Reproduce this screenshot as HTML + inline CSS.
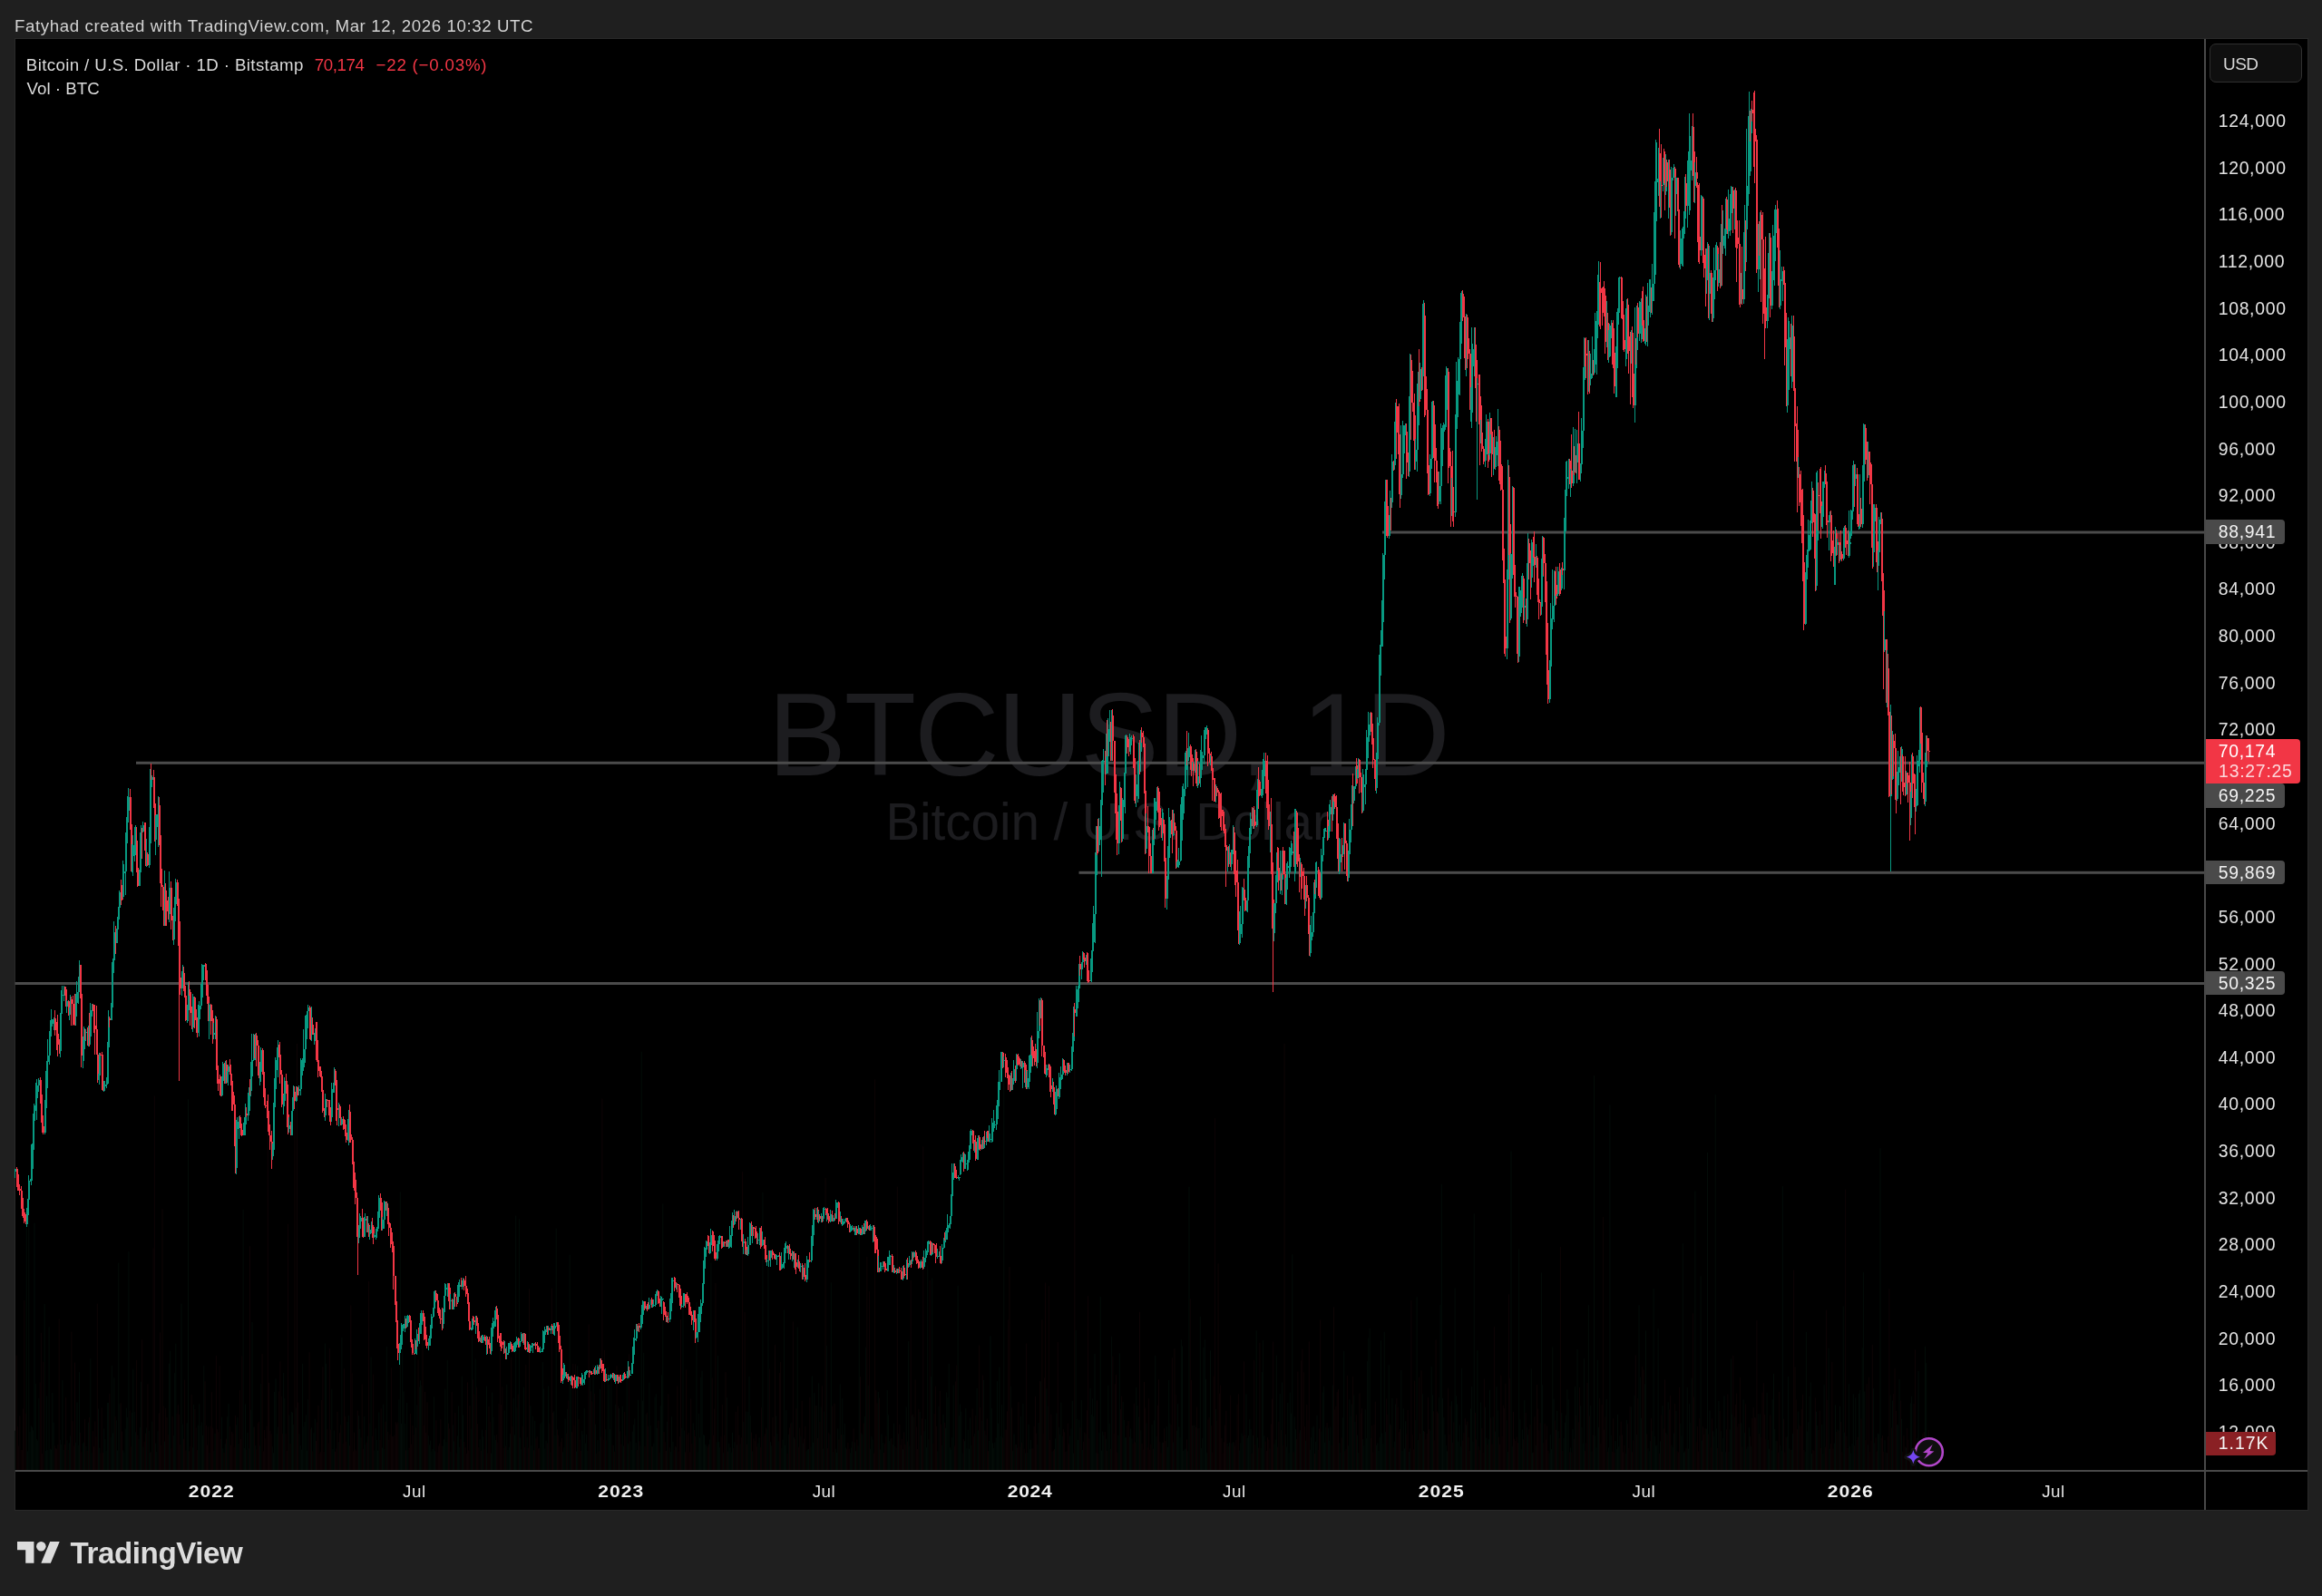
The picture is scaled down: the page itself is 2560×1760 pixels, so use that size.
<!DOCTYPE html>
<html><head><meta charset="utf-8"><title>BTCUSD</title>
<style>
*{box-sizing:border-box;margin:0;padding:0}
html,body{width:2560px;height:1760px;background:#1f1f1f;overflow:hidden}
body{position:relative;font-family:"Liberation Sans",sans-serif;color:#dbdbdb}
.abs{position:absolute}
#chart{left:15.5px;top:42px;width:2529px;height:1623.5px;background:#000;border:1px solid #292929}
.cv{position:absolute;left:0;top:0}
.tg{filter:url(#nf)}
svg text{font-family:"Liberation Sans",sans-serif;white-space:pre}
.hl{position:absolute;height:2.6px;background:#4c4c4c}
#vax{left:2430px;top:43px;width:2px;height:1621.5px;background:#484848}
#hax{left:16.5px;top:1621px;width:2527.5px;height:2px;background:#484848}
.lb{position:absolute;left:2432px;width:87px;height:26.5px;background:#4a4a4a;border-radius:0 4px 4px 0}
#last{left:2432px;top:815.4px;width:104.4px;height:48.8px;background:#f23645;border-radius:0 4px 4px 0}
#vol{left:2432px;top:1578.5px;width:77.4px;height:26.4px;background:#8a2024;border-radius:0 0 4px 0}
#usd{left:2436px;top:47.8px;width:102.2px;height:43.1px;background:#0f0f0f;border:1.2px solid #2f2f2f;border-radius:7px}
</style></head><body>
<div id="chart" class="abs"></div>
<svg width="0" height="0" style="position:absolute"><defs><filter id="nf" x="0" y="0" width="2560" height="1760" filterUnits="userSpaceOnUse" color-interpolation-filters="sRGB"><feOffset dx="0" dy="0"/></filter></defs></svg>
<svg class="cv" width="2560" height="1760" viewBox="0 0 2560 1760">
<text x="846.40" y="855.10" font-size="129.86" letter-spacing="-2.188" fill="#1c1c1f">BTCUSD, 1D</text>
<text x="976.40" y="926.00" font-size="56.67" letter-spacing="-0.086" fill="#1c1c1f">Bitcoin / U.S. Dollar</text>
</svg>
<svg class="cv" width="2560" height="1760" viewBox="0 0 2560 1760" fill="none">
<rect x="1524" y="585.5" width="906.5" height="3" fill="#4b4b4b"/>
<rect x="150" y="839.8" width="2280.5" height="3" fill="#4b4b4b"/>
<rect x="1189.5" y="960.8" width="1241.0" height="3" fill="#4b4b4b"/>
<rect x="16.5" y="1083.0" width="2414.0" height="3" fill="#4b4b4b"/>
<path stroke="#030c08" stroke-width="1" d="M16.9 1577.7V1621M29.3 1317.3V1621M30.6 1600.4V1621M31.8 1332.2V1621M33 1578.6V1621M34.3 1572.2V1621M35.5 1573.9V1621M36.7 1577.3V1621M38 1348.6V1621M39.2 1526V1621M40.4 1587.1V1621M41.7 1588.7V1621M42.9 1541.9V1621M49.1 1437.9V1621M50.3 1599.8V1621M51.6 1539.7V1621M52.8 1599.2V1621M54.1 1463.3V1621M55.3 1597.7V1621M56.5 1598.5V1621M57.8 1536V1621M59 1568.6V1621M66.4 1587.8V1621M67.7 1593.1V1621M68.9 1522.1V1621M70.1 1598.6V1621M73.9 1588.2V1621M76.3 1591.3V1621M77.6 1583.5V1621M83.7 1590.9V1621M85 1546.5V1621M86.2 1593.8V1621M87.5 1513.2V1621M91.2 1591.6V1621M92.4 1590.5V1621M94.9 1594.9V1621M97.4 1568.6V1621M99.8 1498.3V1621M101.1 1602.3V1621M108.5 1553.6V1621M109.7 1596.6V1621M114.7 1575.4V1621M115.9 1586.9V1621M117.1 1599.7V1621M118.4 1546.9V1621M119.6 1546.9V1621M122.1 1584.8V1621M123.3 1505.9V1621M124.6 1580.3V1621M125.8 1519.4V1621M128.3 1566.3V1621M129.5 1599.5V1621M130.8 1392.6V1621M132 1548.3V1621M135.7 1599.3V1621M136.9 1601.7V1621M138.2 1575.5V1621M139.4 1552.7V1621M140.7 1563V1621M141.9 1380.3V1621M145.6 1557.7V1621M146.8 1509.6V1621M148.1 1557V1621M149.3 1579.3V1621M153 1587V1621M154.3 1574.2V1621M155.5 1523.7V1621M158 1595.2V1621M161.7 1574.4V1621M164.2 1577.7V1621M165.4 1601.7V1621M167.9 1567.5V1621M171.6 1591.6V1621M172.8 1601V1621M174.1 1578.2V1621M181.5 1589.6V1621M186.4 1503.6V1621M187.7 1489.7V1621M191.4 1583.1V1621M192.6 1514.2V1621M193.8 1481.7V1621M200 1437.6V1621M201.3 1570.7V1621M206.2 1569.4V1621M207.5 1212.2V1621M212.4 1596.2V1621M213.6 1549V1621M218.6 1571.6V1621M219.8 1548.2V1621M221.1 1571.9V1621M222.3 1568.5V1621M223.5 1582.8V1621M224.8 1506.1V1621M231 1601.8V1621M235.9 1600.1V1621M237.1 1580.6V1621M244.6 1562.6V1621M245.8 1597.2V1621M248.3 1592.2V1621M250.8 1562.4V1621M252 1547.9V1621M260.7 1571.3V1621M261.9 1563.3V1621M263.1 1591.9V1621M268.1 1333.8V1621M269.3 1597V1621M270.5 1548.5V1621M273 1580V1621M274.3 1597.3V1621M276.7 1554.8V1621M278 1457.9V1621M279.2 1573.4V1621M281.7 1594.2V1621M286.6 1594.4V1621M287.9 1526V1621M300.2 1595.4V1621M301.5 1602.3V1621M302.7 1535V1621M304 1520.2V1621M305.2 1581.2V1621M306.4 1573.5V1621M312.6 1514V1621M313.8 1541.8V1621M318.8 1560.2V1621M321.3 1556.9V1621M322.5 1557.7V1621M323.7 1571V1621M326.2 1552.3V1621M329.9 1581.4V1621M331.2 1593.9V1621M332.4 1598.6V1621M333.6 1503.9V1621M334.9 1573.2V1621M336.1 1567.8V1621M337.4 1560.3V1621M338.6 1599.7V1621M339.8 1543.2V1621M343.5 1574.3V1621M346 1580.1V1621M347.3 1564.7V1621M358.4 1481.6V1621M359.6 1503.9V1621M365.8 1531.7V1621M367 1597.9V1621M368.3 1577.5V1621M373.2 1590.2V1621M376.9 1474.9V1621M383.1 1568V1621M384.4 1560.9V1621M395.5 1561.1V1621M396.7 1575.7V1621M398 1585.3V1621M401.7 1561.9V1621M402.9 1592.9V1621M405.4 1583.7V1621M407.9 1569.6V1621M409.1 1496.5V1621M412.8 1599.4V1621M414.1 1575.1V1621M415.3 1588.1V1621M416.5 1599.7V1621M417.8 1557.4V1621M421.5 1596.5V1621M422.7 1548.6V1621M424 1597.8V1621M426.4 1484.9V1621M440 1543.2V1621M441.3 1314.4V1621M442.5 1570V1621M443.7 1460.5V1621M445 1534.5V1621M446.2 1569.8V1621M448.7 1546.9V1621M449.9 1599.3V1621M457.4 1458.1V1621M459.8 1549.4V1621M462.3 1529.5V1621M463.5 1522.3V1621M464.8 1527.6V1621M472.2 1583.2V1621M473.4 1593.4V1621M474.7 1588.5V1621M475.9 1600.4V1621M477.1 1597.9V1621M478.4 1540.2V1621M479.6 1600.3V1621M488.3 1595V1621M489.5 1587.3V1621M490.8 1531.6V1621M492 1590.3V1621M493.2 1499.8V1621M496.9 1600.9V1621M499.4 1571.5V1621M500.7 1589.5V1621M504.4 1583.5V1621M505.6 1550.5V1621M506.8 1595.8V1621M509.3 1517.6V1621M510.5 1560.4V1621M519.2 1575.5V1621M520.4 1472.3V1621M524.2 1498.6V1621M529.1 1587.3V1621M531.6 1576.6V1621M532.8 1584.3V1621M536.5 1528.6V1621M541.5 1602.6V1621M542.7 1535.5V1621M543.9 1562.8V1621M545.2 1583.2V1621M546.4 1588.1V1621M556.3 1555.4V1621M558.8 1526.8V1621M560 1599V1621M561.3 1595.8V1621M562.5 1581.1V1621M566.2 1541.8V1621M567.5 1582.5V1621M568.7 1340.5V1621M569.9 1552.4V1621M572.4 1344.3V1621M573.6 1585.4V1621M574.9 1598.3V1621M577.4 1529.7V1621M581.1 1584.7V1621M584.8 1550.2V1621M586 1593.8V1621M587.2 1561.6V1621M589.7 1566.9V1621M595.9 1570.1V1621M597.1 1568.5V1621M598.4 1502.2V1621M599.6 1531.6V1621M600.9 1597.5V1621M602.1 1588.7V1621M604.6 1528.4V1621M607 1601.6V1621M610.8 1556.3V1621M612 1582.8V1621M613.2 1354.7V1621M620.6 1601.4V1621M621.9 1596.4V1621M623.1 1564.5V1621M625.6 1553.9V1621M628.1 1383.6V1621M629.3 1521.9V1621M635.5 1600.6V1621M636.7 1506.2V1621M641.7 1578.1V1621M642.9 1581.8V1621M644.2 1553.1V1621M645.4 1591.5V1621M646.6 1581.9V1621M647.9 1600V1621M650.3 1518.4V1621M654.1 1504.8V1621M656.5 1570.6V1621M659 1588.1V1621M661.5 1532V1621M667.7 1576.1V1621M670.1 1507.6V1621M671.4 1526.6V1621M672.6 1576.1V1621M673.8 1514V1621M676.3 1594.1V1621M678.8 1548.7V1621M682.5 1553V1621M686.2 1550.9V1621M687.5 1594.6V1621M691.2 1512.4V1621M692.4 1592.1V1621M694.9 1589.4V1621M696.1 1599V1621M697.3 1578.6V1621M698.6 1571.2V1621M699.8 1564.5V1621M701.1 1590.9V1621M703.5 1543.8V1621M706 1594.3V1621M707.2 1159.7V1621M708.5 1544.7V1621M709.7 1491.8V1621M712.2 1559.5V1621M715.9 1524.6V1621M717.1 1572.1V1621M719.6 1595.4V1621M720.9 1591.7V1621M722.1 1540.7V1621M723.3 1537.2V1621M724.6 1574.8V1621M728.3 1550.3V1621M729.5 1516.4V1621M730.8 1327.3V1621M735.7 1567.7V1621M738.2 1596.4V1621M739.4 1601.2V1621M740.6 1562.2V1621M741.9 1590.1V1621M745.6 1595.7V1621M751.8 1574.8V1621M753 1423.2V1621M754.3 1577.5V1621M764.2 1569.3V1621M767.9 1436V1621M769.1 1601.3V1621M770.3 1558.9V1621M771.6 1585.3V1621M772.8 1519.1V1621M774 1511.7V1621M775.3 1582V1621M776.5 1582.8V1621M777.8 1592.8V1621M779 1594.5V1621M782.7 1587.5V1621M783.9 1392.7V1621M790.1 1590.2V1621M791.4 1495V1621M792.6 1589.9V1621M793.8 1596V1621M797.6 1602.1V1621M801.3 1541.1V1621M803.7 1591.6V1621M805 1596.1V1621M806.2 1601.6V1621M807.5 1579.8V1621M809.9 1590.3V1621M812.4 1593.4V1621M816.1 1592.2V1621M819.8 1567.9V1621M822.3 1556.4V1621M824.8 1556.9V1621M826 1517.8V1621M827.2 1561V1621M829.7 1600.4V1621M835.9 1591.5V1621M837.1 1585.4V1621M840.9 1315V1621M845.8 1576.4V1621M847 1366.6V1621M849.5 1590.2V1621M850.7 1594.4V1621M855.7 1561.5V1621M856.9 1580.8V1621M858.2 1589.4V1621M861.9 1596.9V1621M863.1 1587.5V1621M864.4 1444.6V1621M865.6 1594V1621M866.8 1555.1V1621M869.3 1582V1621M873 1568.4V1621M875.5 1585.1V1621M879.2 1463.5V1621M882.9 1583.6V1621M885.4 1591.6V1621M889.1 1600.3V1621M890.3 1598.5V1621M891.6 1598V1621M894 1595.5V1621M895.3 1517.4V1621M896.5 1590.7V1621M897.8 1536.1V1621M900.2 1550.2V1621M902.7 1525.3V1621M905.2 1551.5V1621M907.7 1597.4V1621M908.9 1556.5V1621M911.4 1484.1V1621M915.1 1581.8V1621M916.3 1414.3V1621M918.8 1601.2V1621M921.3 1597.6V1621M922.5 1601.9V1621M923.7 1575.3V1621M926.2 1526.4V1621M928.7 1542.1V1621M929.9 1582.3V1621M931.2 1569.8V1621M932.4 1596.3V1621M937.3 1602.2V1621M938.6 1596.5V1621M939.8 1589.6V1621M942.3 1590.4V1621M943.5 1600.2V1621M946 1594.5V1621M947.2 1356.7V1621M949.7 1580.5V1621M951 1581.8V1621M953.4 1562V1621M954.7 1485.6V1621M957.1 1527.6V1621M959.6 1597.7V1621M960.9 1584.3V1621M962.1 1587.4V1621M968.3 1534.8V1621M970.7 1598.5V1621M972 1581.4V1621M973.2 1590.9V1621M978.2 1533.1V1621M979.4 1560.3V1621M980.6 1589.2V1621M981.9 1586.7V1621M984.4 1593V1621M985.6 1569.8V1621M988.1 1596.5V1621M990.5 1581.3V1621M995.5 1598.2V1621M999.2 1551.6V1621M1001.7 1479.1V1621M1002.9 1594.5V1621M1005.4 1560.7V1621M1007.9 1562.8V1621M1014 1557V1621M1015.3 1582.6V1621M1019 1578.1V1621M1020.2 1565.1V1621M1021.5 1596.1V1621M1022.7 1395.4V1621M1023.9 1587.2V1621M1026.4 1518.1V1621M1027.7 1409.3V1621M1033.8 1600.2V1621M1035.1 1550.8V1621M1038.8 1593.8V1621M1040 1559.7V1621M1042.5 1574.7V1621M1043.7 1535.4V1621M1045 1541.1V1621M1046.2 1503.8V1621M1047.4 1596.1V1621M1048.7 1598.6V1621M1049.9 1585.2V1621M1051.2 1527.6V1621M1056.1 1417.7V1621M1057.3 1561.3V1621M1058.6 1548.4V1621M1059.8 1556.6V1621M1061.1 1602.3V1621M1063.5 1589.3V1621M1064.8 1553.1V1621M1066 1597.2V1621M1067.2 1576.6V1621M1068.5 1597.8V1621M1069.7 1563.4V1621M1071 1593.8V1621M1074.7 1581V1621M1077.1 1530.9V1621M1078.4 1577.4V1621M1082.1 1566.6V1621M1084.6 1522V1621M1087 1582.4V1621M1090.7 1589.1V1621M1092 1473.2V1621M1093.2 1553.1V1621M1094.5 1591.2V1621M1095.7 1597V1621M1096.9 1590.8V1621M1098.2 1585.4V1621M1099.4 1523.2V1621M1100.6 1569.8V1621M1101.9 1507.7V1621M1103.1 1584V1621M1104.4 1549.1V1621M1106.8 1167.6V1621M1114.3 1528.9V1621M1116.7 1600.1V1621M1118 1581.5V1621M1120.4 1593.1V1621M1125.4 1562V1621M1127.9 1547.9V1621M1130.3 1602.3V1621M1132.8 1602V1621M1134 1570.8V1621M1135.3 1598V1621M1136.5 1587.9V1621M1143.9 1592.7V1621M1145.2 1568.7V1621M1147.7 1523.3V1621M1153.8 1531.3V1621M1155.1 1550.6V1621M1160 1601V1621M1163.7 1586.3V1621M1165 1558.4V1621M1167.4 1573.8V1621M1168.7 1581.9V1621M1169.9 1546.5V1621M1171.2 1583.7V1621M1176.1 1600.3V1621M1179.8 1583.5V1621M1181.1 1575.2V1621M1182.3 1544.9V1621M1183.5 1602.6V1621M1186 1467V1621M1187.2 1564.7V1621M1188.5 1587.9V1621M1189.7 1565.6V1621M1192.2 1544.1V1621M1193.4 1598.9V1621M1197.1 1581.4V1621M1202.1 1531.1V1621M1203.3 1559.8V1621M1204.6 1542.4V1621M1205.8 1561.8V1621M1207 1492.9V1621M1208.3 1602.1V1621M1212 1580.2V1621M1213.2 1430.1V1621M1214.5 1599.7V1621M1215.7 1578.6V1621M1216.9 1583.1V1621M1219.4 1586.8V1621M1221.9 1527.6V1621M1223.1 1569.6V1621M1225.6 1473.8V1621M1233 1583.1V1621M1234.3 1492.4V1621M1238 1546V1621M1239.2 1566V1621M1240.4 1585.1V1621M1241.7 1584.9V1621M1245.4 1584.4V1621M1246.6 1575.5V1621M1247.9 1586.3V1621M1252.8 1529.8V1621M1254 1550.1V1621M1255.3 1562.6V1621M1257.8 1577.4V1621M1263.9 1569.3V1621M1270.1 1570.8V1621M1272.6 1566.3V1621M1273.8 1494.8V1621M1275.1 1584V1621M1281.3 1590.7V1621M1286.2 1573.1V1621M1287.4 1595.7V1621M1288.7 1522V1621M1289.9 1570V1621M1293.6 1590.4V1621M1297.3 1577.7V1621M1298.6 1548.1V1621M1299.8 1573.4V1621M1301.1 1585V1621M1302.3 1477.3V1621M1303.5 1484.5V1621M1304.8 1599.9V1621M1306 1598.5V1621M1307.2 1597.6V1621M1309.7 1600.3V1621M1311 1308.8V1621M1314.7 1572.1V1621M1317.1 1571.6V1621M1320.8 1575.1V1621M1323.3 1452V1621M1324.6 1596.9V1621M1325.8 1585.8V1621M1327 1485.6V1621M1328.3 1477.2V1621M1329.5 1520.8V1621M1330.7 1602.1V1621M1334.5 1489.3V1621M1340.6 1554V1621M1353 1591.8V1621M1355.5 1590.7V1621M1358 1591.6V1621M1359.2 1590.3V1621M1366.6 1599.6V1621M1367.9 1591.2V1621M1369.1 1580.5V1621M1370.3 1583.5V1621M1374 1537.5V1621M1375.3 1585.7V1621M1376.5 1583V1621M1377.8 1565.2V1621M1379 1575.9V1621M1381.5 1582.9V1621M1385.2 1467.3V1621M1386.4 1585.4V1621M1390.1 1596.9V1621M1391.4 1513.1V1621M1392.6 1477.8V1621M1393.8 1583.4V1621M1400 1597.5V1621M1405 1592.4V1621M1406.2 1587.5V1621M1407.4 1494.7V1621M1411.2 1536.9V1621M1413.6 1524.4V1621M1417.3 1581.5V1621M1418.6 1595.5V1621M1419.8 1547V1621M1421.1 1602.2V1621M1422.3 1535.6V1621M1423.5 1558.6V1621M1424.8 1383.2V1621M1427.2 1562.5V1621M1428.5 1576.1V1621M1433.4 1577.1V1621M1439.6 1588.7V1621M1444.6 1598.7V1621M1445.8 1585.1V1621M1447 1574.1V1621M1448.3 1572.7V1621M1450.7 1589.8V1621M1452 1561V1621M1456.9 1578.4V1621M1458.2 1535.4V1621M1459.4 1528.8V1621M1460.6 1590.7V1621M1461.9 1573.6V1621M1464.4 1574.7V1621M1465.6 1588.6V1621M1466.8 1573.6V1621M1469.3 1527.5V1621M1476.7 1591.2V1621M1478 1602V1621M1480.4 1563.4V1621M1481.7 1489.8V1621M1486.6 1594.4V1621M1487.9 1543.4V1621M1489.1 1562V1621M1490.3 1548.5V1621M1492.8 1538.4V1621M1494 1567.6V1621M1496.5 1582.6V1621M1497.8 1602V1621M1502.7 1587.1V1621M1503.9 1594.3V1621M1505.2 1554.3V1621M1506.4 1586.1V1621M1507.6 1501.2V1621M1508.9 1475.4V1621M1510.1 1465V1621M1517.5 1593.7V1621M1518.8 1591.4V1621M1520 1600V1621M1521.3 1584.6V1621M1522.5 1478.1V1621M1523.7 1580.5V1621M1525 1591.7V1621M1526.2 1468.8V1621M1527.4 1579.2V1621M1531.2 1505.2V1621M1532.4 1570.3V1621M1534.9 1542V1621M1537.3 1589.6V1621M1538.6 1548.5V1621M1544.8 1510.9V1621M1546 1599.9V1621M1547.2 1553.2V1621M1548.5 1597.3V1621M1549.7 1567.2V1621M1553.4 1601V1621M1554.7 1597.2V1621M1560.8 1565.8V1621M1562.1 1430.2V1621M1563.3 1587.8V1621M1565.8 1580.8V1621M1568.3 1537.2V1621M1569.5 1578V1621M1576.9 1577.5V1621M1578.2 1507.1V1621M1579.4 1538.3V1621M1586.8 1541.2V1621M1588.1 1438.8V1621M1589.3 1305.9V1621M1590.5 1541.9V1621M1591.8 1563.1V1621M1593 1581.7V1621M1594.2 1593.8V1621M1595.5 1600.4V1621M1600.4 1545.3V1621M1604.1 1420.4V1621M1605.4 1539.3V1621M1606.6 1548.5V1621M1607.9 1589.5V1621M1609.1 1571.4V1621M1610.3 1595.3V1621M1611.6 1508.9V1621M1616.5 1571.3V1621M1621.5 1553.5V1621M1622.7 1529V1621M1623.9 1589.6V1621M1625.2 1338.3V1621M1628.9 1489.1V1621M1632.6 1546.6V1621M1637.5 1551.9V1621M1638.8 1585.7V1621M1641.3 1587.2V1621M1642.5 1532.7V1621M1646.2 1562.4V1621M1648.7 1578.6V1621M1649.9 1529.2V1621M1651.2 1555.5V1621M1661.1 1566.2V1621M1662.3 1601.1V1621M1666 1269.4V1621M1667.2 1594.8V1621M1674.7 1377.2V1621M1675.9 1565.3V1621M1677.1 1598V1621M1678.4 1576.4V1621M1680.8 1544.1V1621M1683.3 1573.8V1621M1684.6 1582.2V1621M1688.3 1509.3V1621M1689.5 1602.1V1621M1693.2 1594.1V1621M1699.4 1403.4V1621M1700.6 1527.2V1621M1708.1 1602.4V1621M1709.3 1582.3V1621M1710.5 1598.1V1621M1711.8 1485.3V1621M1713 1542.6V1621M1716.7 1555.9V1621M1718 1578.1V1621M1721.7 1558.1V1621M1724.1 1585.9V1621M1725.4 1568.6V1621M1726.6 1560.5V1621M1727.9 1532.3V1621M1729.1 1543.3V1621M1731.6 1596.6V1621M1734 1576V1621M1736.5 1529.1V1621M1739 1488V1621M1742.7 1550.3V1621M1743.9 1574.3V1621M1745.2 1591.5V1621M1746.4 1498.2V1621M1751.4 1439.2V1621M1753.8 1549.9V1621M1755.1 1600.5V1621M1757.5 1186V1621M1758.8 1583.5V1621M1760 1596.3V1621M1761.3 1499.6V1621M1762.5 1573.9V1621M1771.2 1542.9V1621M1773.6 1596.3V1621M1774.9 1218.3V1621M1776.1 1582.9V1621M1781 1588.8V1621M1782.3 1598V1621M1783.5 1560V1621M1784.8 1595.2V1621M1786 1583.2V1621M1792.2 1602.6V1621M1793.4 1565.8V1621M1798.4 1551.5V1621M1802.1 1538.6V1621M1804.6 1582V1621M1807 1439.2V1621M1808.3 1518.6V1621M1809.5 1563.9V1621M1813.2 1526.2V1621M1814.5 1467.4V1621M1816.9 1597.1V1621M1818.2 1600.3V1621M1819.4 1589.2V1621M1821.9 1578.1V1621M1823.1 1421.1V1621M1824.3 1583.9V1621M1825.6 1594.2V1621M1826.8 1593.7V1621M1828.1 1465.3V1621M1830.5 1589.5V1621M1833 1550.1V1621M1836.7 1580.1V1621M1839.2 1546.2V1621M1842.9 1593.5V1621M1844.1 1595.6V1621M1845.4 1580.6V1621M1847.9 1555.9V1621M1852.8 1569.7V1621M1854 1583.5V1621M1855.3 1371.1V1621M1856.5 1601.7V1621M1857.7 1600.2V1621M1860.2 1530V1621M1861.5 1597.6V1621M1862.7 1548.2V1621M1863.9 1569.1V1621M1865.2 1519.5V1621M1868.9 1313.5V1621M1875.1 1407.3V1621M1876.3 1588.6V1621M1881.3 1575.6V1621M1882.5 1270.9V1621M1885 1555.4V1621M1888.7 1578.3V1621M1889.9 1583.7V1621M1891.2 1207.2V1621M1892.4 1575.3V1621M1894.9 1544.9V1621M1897.3 1578.2V1621M1899.8 1585.9V1621M1901 1539.4V1621M1902.3 1601.4V1621M1906 1601.1V1621M1907.2 1576.3V1621M1908.5 1498.5V1621M1909.7 1559.7V1621M1912.2 1562.6V1621M1919.6 1569.3V1621M1922.1 1543.2V1621M1923.3 1580.1V1621M1925.8 1597.7V1621M1927 1595.2V1621M1928.3 1574.2V1621M1930.7 1594.9V1621M1938.2 1559.1V1621M1940.6 1559.2V1621M1948.1 1535.7V1621M1949.3 1587.9V1621M1950.5 1597.8V1621M1953 1599.3V1621M1954.2 1543.2V1621M1955.5 1514.8V1621M1956.7 1576.1V1621M1958 1588.6V1621M1962.9 1594.1V1621M1964.1 1599.6V1621M1965.4 1308.2V1621M1970.3 1584.3V1621M1971.6 1517.9V1621M1972.8 1597.3V1621M1975.3 1598.7V1621M1976.5 1580.8V1621M1982.7 1556.5V1621M1990.1 1601V1621M1991.4 1468.9V1621M1992.6 1578.7V1621M1993.8 1568.1V1621M1995.1 1539.7V1621M1996.3 1524.5V1621M1997.5 1603V1621M2002.5 1556.8V1621M2003.7 1572.1V1621M2008.7 1571V1621M2009.9 1602.9V1621M2011.1 1527.2V1621M2016.1 1486.7V1621M2017.3 1597.6V1621M2022.3 1591.4V1621M2023.5 1549.5V1621M2026 1576.5V1621M2028.5 1550.8V1621M2032.2 1440.5V1621M2033.4 1579.7V1621M2038.4 1526.3V1621M2039.6 1594.9V1621M2040.8 1602.4V1621M2042.1 1592V1621M2043.3 1537.3V1621M2045.8 1541.5V1621M2049.5 1536.7V1621M2050.7 1533.1V1621M2053.2 1486.2V1621M2054.4 1402.9V1621M2055.7 1534.4V1621M2059.4 1593.4V1621M2065.6 1531.1V1621M2066.8 1591.2V1621M2070.5 1580.7V1621M2071.8 1581.6V1621M2073 1266.2V1621M2078 1588.1V1621M2080.4 1602.2V1621M2084.1 1538.4V1621M2086.6 1544.6V1621M2091.6 1571V1621M2092.8 1571.7V1621M2094 1521V1621M2096.5 1564.7V1621M2101.5 1596.5V1621M2106.4 1547.5V1621M2107.6 1539.9V1621M2112.6 1601.6V1621M2113.8 1585.7V1621M2115.1 1512V1621M2116.3 1597.4V1621M2122.5 1484.7V1621M2123.7 1503.1V1621"/>
<path stroke="#0e0405" stroke-width="1" d="M18.2 1494.6V1621M19.4 1573.2V1621M20.7 1594.4V1621M21.9 1561.3V1621M23.1 1598.8V1621M24.4 1599V1621M25.6 1553.3V1621M26.8 1433.8V1621M28.1 1558.4V1621M44.2 1524.3V1621M45.4 1469.8V1621M46.6 1603V1621M47.9 1501.7V1621M60.2 1594.1V1621M61.5 1597.1V1621M62.7 1597.8V1621M64 1592.9V1621M65.2 1454.4V1621M71.4 1592.9V1621M72.6 1540.8V1621M75.1 1599V1621M78.8 1468.7V1621M80 1567.1V1621M81.3 1594.5V1621M82.5 1502.6V1621M88.7 1580V1621M89.9 1601.3V1621M93.6 1564.9V1621M96.1 1600V1621M98.6 1563V1621M102.3 1578.2V1621M103.5 1594.9V1621M104.8 1567.3V1621M106 1584.1V1621M107.3 1437.6V1621M111 1602.2V1621M112.2 1552.3V1621M113.4 1602.1V1621M120.9 1536.8V1621M127 1561.8V1621M133.2 1547.2V1621M134.5 1578.6V1621M143.1 1555.4V1621M144.4 1595.2V1621M150.6 1499.8V1621M151.8 1582.6V1621M156.7 1477.2V1621M159.2 1589.5V1621M160.4 1580.6V1621M162.9 1526.3V1621M166.6 1601.2V1621M169.1 1376.4V1621M170.3 1208.6V1621M175.3 1558.3V1621M176.5 1469.4V1621M177.8 1593.7V1621M179 1333.1V1621M180.2 1550.4V1621M182.7 1552.8V1621M184 1563V1621M185.2 1582V1621M188.9 1597.2V1621M190.1 1561.7V1621M195.1 1558.7V1621M196.3 1549.2V1621M197.6 1559.9V1621M198.8 1592.9V1621M202.5 1586.8V1621M203.7 1521.7V1621M205 1599.4V1621M208.7 1600.2V1621M209.9 1595V1621M211.2 1537.9V1621M214.9 1553.9V1621M216.1 1574.5V1621M217.4 1599.2V1621M226 1523.1V1621M227.3 1571.8V1621M228.5 1593.6V1621M229.7 1573.6V1621M232.2 1572.5V1621M233.4 1535.2V1621M234.7 1574.6V1621M238.4 1495.1V1621M239.6 1576.1V1621M240.9 1579.1V1621M242.1 1506.1V1621M243.3 1587V1621M247 1602V1621M249.5 1586.7V1621M253.2 1573V1621M254.5 1593.7V1621M255.7 1578.9V1621M256.9 1580.6V1621M258.2 1595.7V1621M259.4 1561.1V1621M264.4 1533.1V1621M265.6 1587.1V1621M266.8 1495.4V1621M271.8 1598.7V1621M275.5 1374.2V1621M280.4 1573.7V1621M282.9 1598.3V1621M284.2 1569.3V1621M285.4 1567.7V1621M289.1 1493.1V1621M290.3 1600.3V1621M291.6 1577V1621M292.8 1586.4V1621M294.1 1572.6V1621M295.3 1234.1V1621M296.5 1524.9V1621M297.8 1577.6V1621M299 1581.2V1621M307.7 1534.4V1621M308.9 1501.3V1621M310.1 1539.8V1621M311.4 1581.1V1621M315.1 1581.1V1621M316.3 1599.9V1621M317.6 1349.7V1621M320 1591.9V1621M325 1221.3V1621M327.5 1151V1621M328.7 1546.6V1621M341.1 1491.2V1621M342.3 1576.2V1621M344.8 1600.5V1621M348.5 1588.9V1621M349.7 1568.5V1621M351 1550V1621M352.2 1602.4V1621M353.4 1601.2V1621M354.7 1544V1621M355.9 1507.3V1621M357.1 1600.8V1621M360.9 1575.7V1621M362.1 1591.3V1621M363.3 1486.7V1621M364.6 1576.5V1621M369.5 1600.8V1621M370.8 1597.4V1621M372 1556.7V1621M374.5 1580.2V1621M375.7 1571.2V1621M378.2 1591.6V1621M379.4 1509.3V1621M380.7 1561.8V1621M381.9 1589.7V1621M385.6 1594.2V1621M386.8 1439.3V1621M388.1 1514.4V1621M389.3 1600.4V1621M390.5 1579.7V1621M391.8 1598.5V1621M393 1599.8V1621M394.3 1555.6V1621M399.2 1526.4V1621M400.4 1597.6V1621M404.2 1590.5V1621M406.6 1412.9V1621M410.3 1583.6V1621M411.6 1515.6V1621M419 1587.8V1621M420.2 1553.3V1621M425.2 1567.6V1621M427.7 1578.8V1621M428.9 1587.7V1621M430.1 1581.6V1621M431.4 1508.4V1621M432.6 1584.1V1621M433.8 1584V1621M435.1 1582.4V1621M436.3 1568.2V1621M437.6 1570.3V1621M438.8 1568.3V1621M447.5 1599.3V1621M451.2 1596.5V1621M452.4 1559V1621M453.6 1592.5V1621M454.9 1572V1621M456.1 1581.9V1621M458.6 1574.4V1621M461.1 1499.5V1621M466 1470.1V1621M467.2 1571.8V1621M468.5 1534.9V1621M469.7 1580.1V1621M471 1546.2V1621M480.9 1566.2V1621M482.1 1601.4V1621M483.3 1594.4V1621M484.6 1591.7V1621M485.8 1565.1V1621M487 1594.4V1621M494.5 1569.7V1621M495.7 1575.3V1621M498.2 1535.1V1621M501.9 1558V1621M503.1 1602.5V1621M508.1 1586.7V1621M511.8 1590V1621M513 1596.1V1621M514.3 1602.9V1621M515.5 1524.4V1621M516.7 1599.4V1621M518 1550.1V1621M521.7 1521.2V1621M522.9 1537.6V1621M525.4 1529.5V1621M526.6 1570.1V1621M527.9 1595.8V1621M530.3 1599.7V1621M534.1 1598.3V1621M535.3 1577V1621M537.8 1602.5V1621M539 1551V1621M540.2 1568.1V1621M547.7 1582.1V1621M548.9 1590.6V1621M550.1 1547.8V1621M551.4 1481.2V1621M552.6 1549V1621M553.8 1529.3V1621M555.1 1596.6V1621M557.6 1594.7V1621M563.7 1496.6V1621M565 1572.9V1621M571.2 1537.5V1621M576.1 1573.1V1621M578.6 1595.8V1621M579.8 1505V1621M582.3 1596.6V1621M583.5 1421.3V1621M588.5 1599.3V1621M591 1586.2V1621M592.2 1584.2V1621M593.4 1597.4V1621M594.7 1596.9V1621M603.3 1591.4V1621M605.8 1569.7V1621M608.3 1420.6V1621M609.5 1557.9V1621M614.5 1576.5V1621M615.7 1582.5V1621M616.9 1595V1621M618.2 1590.1V1621M619.4 1586V1621M624.4 1580.7V1621M626.8 1544.5V1621M630.5 1579.1V1621M631.8 1504V1621M633 1571.7V1621M634.3 1504.5V1621M638 1564.8V1621M639.2 1587.7V1621M640.4 1600V1621M649.1 1460.4V1621M651.6 1534.3V1621M652.8 1545.3V1621M655.3 1537V1621M657.8 1603V1621M660.2 1600.3V1621M662.7 1584.5V1621M663.9 1211.5V1621M665.2 1587.5V1621M666.4 1488.9V1621M668.9 1588.3V1621M675.1 1593.5V1621M677.6 1600.8V1621M680 1506.2V1621M681.3 1550.6V1621M683.7 1578.3V1621M685 1592.4V1621M688.7 1557.1V1621M689.9 1583.4V1621M693.6 1493.2V1621M702.3 1599.2V1621M704.8 1589.3V1621M711 1594.7V1621M713.4 1557.9V1621M714.7 1572.5V1621M718.4 1595V1621M725.8 1566.6V1621M727 1601.5V1621M732 1579V1621M733.2 1590.2V1621M734.5 1599.8V1621M736.9 1537.1V1621M743.1 1599.1V1621M744.4 1595.1V1621M746.8 1528.3V1621M748.1 1600.4V1621M749.3 1584V1621M750.5 1455V1621M755.5 1601.3V1621M756.7 1510.3V1621M758 1582V1621M759.2 1579.8V1621M760.4 1601.5V1621M761.7 1542.5V1621M762.9 1592V1621M765.4 1577V1621M766.6 1584V1621M780.2 1595.5V1621M781.5 1592.9V1621M785.2 1519.6V1621M786.4 1582.7V1621M787.7 1553.6V1621M788.9 1414.9V1621M795.1 1584.3V1621M796.3 1549V1621M798.8 1582.6V1621M800 1513.1V1621M802.5 1600.6V1621M808.7 1596.9V1621M811.2 1556.9V1621M813.6 1550.6V1621M814.9 1582.5V1621M817.3 1585.2V1621M818.6 1292.1V1621M821.1 1447V1621M823.5 1592.8V1621M828.5 1579.6V1621M831 1586.3V1621M832.2 1589.2V1621M833.4 1581.4V1621M834.7 1595.3V1621M838.4 1596.1V1621M839.6 1552.2V1621M842.1 1584V1621M843.3 1581.2V1621M844.6 1574.3V1621M848.3 1509.6V1621M852 1562.9V1621M853.2 1584.1V1621M854.5 1483.1V1621M859.4 1514V1621M860.6 1502V1621M868.1 1603V1621M870.5 1574.4V1621M871.8 1569.6V1621M874.3 1457.3V1621M876.7 1587.2V1621M878 1553.1V1621M880.4 1595.7V1621M881.7 1574.7V1621M884.2 1544.9V1621M886.6 1586.5V1621M887.9 1572.7V1621M892.8 1540.9V1621M899 1550.1V1621M901.5 1585.9V1621M903.9 1567.8V1621M906.4 1528.3V1621M910.1 1298.8V1621M912.6 1597V1621M913.8 1580.2V1621M917.6 1550.5V1621M920 1547.8V1621M925 1587.5V1621M927.5 1582.1V1621M933.6 1598.2V1621M934.9 1590.8V1621M936.1 1597.6V1621M941.1 1575.4V1621M944.8 1587.5V1621M948.5 1518.2V1621M952.2 1569.4V1621M955.9 1386V1621M958.4 1424.2V1621M963.3 1602.6V1621M964.6 1190.4V1621M965.8 1533.2V1621M967 1547.2V1621M969.5 1541.7V1621M974.5 1602V1621M975.7 1592.2V1621M976.9 1583.6V1621M983.1 1585.9V1621M986.8 1594.8V1621M989.3 1308.6V1621M991.8 1570.6V1621M993 1593.4V1621M994.3 1586.7V1621M996.7 1579.4V1621M998 1592.6V1621M1000.4 1589.6V1621M1004.2 1411.8V1621M1006.6 1559.6V1621M1009.1 1521.5V1621M1010.3 1573.5V1621M1011.6 1597.9V1621M1012.8 1553.8V1621M1016.5 1564.4V1621M1017.8 1264.4V1621M1025.2 1412V1621M1028.9 1591.8V1621M1030.1 1559V1621M1031.4 1528.8V1621M1032.6 1572.9V1621M1036.3 1533.9V1621M1037.6 1570.7V1621M1041.3 1569V1621M1052.4 1594.6V1621M1053.6 1523.5V1621M1054.9 1505.5V1621M1062.3 1587.1V1621M1072.2 1553.6V1621M1073.4 1584.2V1621M1075.9 1561.1V1621M1079.6 1483.7V1621M1080.9 1551.9V1621M1083.3 1516.4V1621M1085.8 1577.5V1621M1088.3 1564.4V1621M1089.5 1600.2V1621M1105.6 1585.3V1621M1108.1 1576.4V1621M1109.3 1576.7V1621M1110.5 1556.3V1621M1111.8 1455.2V1621M1113 1396.9V1621M1115.5 1552.3V1621M1119.2 1592.7V1621M1121.7 1596.5V1621M1122.9 1546.1V1621M1124.1 1595.3V1621M1126.6 1590.7V1621M1129.1 1597.6V1621M1131.6 1481.5V1621M1137.8 1597.4V1621M1139 1597.2V1621M1140.2 1572.9V1621M1141.5 1539.9V1621M1142.7 1580.6V1621M1146.4 1523.1V1621M1148.9 1455.3V1621M1150.1 1581.1V1621M1151.4 1519.3V1621M1152.6 1414.5V1621M1156.3 1418.1V1621M1157.6 1588V1621M1158.8 1559.7V1621M1161.3 1599.6V1621M1162.5 1598V1621M1166.2 1480.1V1621M1172.4 1575.8V1621M1173.6 1579.4V1621M1174.9 1600.9V1621M1177.3 1569.7V1621M1178.6 1592.4V1621M1184.8 1162.6V1621M1191 1574.1V1621M1194.7 1589.8V1621M1195.9 1579.7V1621M1198.4 1555.2V1621M1199.6 1429.1V1621M1200.8 1586.3V1621M1209.5 1544.3V1621M1210.7 1602.8V1621M1218.2 1578.9V1621M1220.6 1599.9V1621M1224.4 1597.7V1621M1226.8 1495.7V1621M1228.1 1580.5V1621M1229.3 1526.2V1621M1230.5 1516.1V1621M1231.8 1601.7V1621M1235.5 1553.9V1621M1236.7 1539.7V1621M1242.9 1572.2V1621M1244.1 1567.1V1621M1249.1 1591.8V1621M1250.3 1547.9V1621M1251.6 1590.5V1621M1256.5 1446.8V1621M1259 1592V1621M1260.2 1598.5V1621M1261.5 1524V1621M1262.7 1552.6V1621M1265.2 1596.1V1621M1266.4 1542.2V1621M1267.7 1598.7V1621M1268.9 1592.6V1621M1271.4 1597.6V1621M1276.3 1549.8V1621M1277.5 1521.1V1621M1278.8 1590.1V1621M1280 1602.1V1621M1282.5 1590.8V1621M1283.7 1575.1V1621M1285 1588.9V1621M1291.2 1570.9V1621M1292.4 1497.3V1621M1294.9 1487.1V1621M1296.1 1538V1621M1308.5 1587.5V1621M1312.2 1432.3V1621M1313.4 1521.8V1621M1315.9 1571.6V1621M1318.4 1574V1621M1319.6 1551.7V1621M1322.1 1575V1621M1332 1565.5V1621M1333.2 1563.2V1621M1335.7 1572.2V1621M1336.9 1601.6V1621M1338.2 1517.6V1621M1339.4 1233.1V1621M1341.9 1566.6V1621M1343.1 1393.4V1621M1344.4 1536.6V1621M1345.6 1527.7V1621M1346.8 1585.8V1621M1348.1 1602.4V1621M1349.3 1590.2V1621M1350.5 1571.6V1621M1351.8 1555.8V1621M1354.2 1594.9V1621M1356.7 1538.7V1621M1360.4 1590.6V1621M1361.7 1594.4V1621M1362.9 1587.9V1621M1364.1 1548.6V1621M1365.4 1537.4V1621M1371.6 1501.4V1621M1372.8 1582.4V1621M1380.2 1602.4V1621M1382.7 1499.7V1621M1383.9 1593.3V1621M1387.7 1596.6V1621M1388.9 1480.7V1621M1395.1 1589.6V1621M1396.3 1599.9V1621M1397.5 1585.1V1621M1398.8 1587.6V1621M1401.3 1570.4V1621M1402.5 1542.7V1621M1403.7 1479.5V1621M1408.7 1595.7V1621M1409.9 1567.7V1621M1412.4 1577.1V1621M1414.9 1594.1V1621M1416.1 1151V1621M1426 1601.2V1621M1429.7 1587V1621M1430.9 1512.6V1621M1432.2 1580.3V1621M1434.7 1500.1V1621M1435.9 1487.6V1621M1437.1 1513.2V1621M1438.4 1573.1V1621M1440.8 1549V1621M1442.1 1566.2V1621M1443.3 1479.3V1621M1449.5 1602.9V1621M1453.2 1599V1621M1454.5 1575.4V1621M1455.7 1455.5V1621M1463.1 1569V1621M1468.1 1593.8V1621M1470.5 1441.4V1621M1471.8 1554.5V1621M1473 1550.8V1621M1474.2 1535.1V1621M1475.5 1532.2V1621M1479.2 1585.3V1621M1482.9 1600.2V1621M1484.1 1598.1V1621M1485.4 1516.9V1621M1491.6 1518V1621M1495.3 1560.2V1621M1499 1536.3V1621M1500.2 1558.5V1621M1501.5 1553.2V1621M1511.4 1586V1621M1512.6 1571.9V1621M1513.8 1601.5V1621M1515.1 1570.8V1621M1516.3 1545.7V1621M1528.7 1542.6V1621M1529.9 1560V1621M1533.6 1571.5V1621M1536.1 1596.2V1621M1539.8 1541.8V1621M1541.1 1551.6V1621M1542.3 1579.2V1621M1543.5 1575.9V1621M1550.9 1581.3V1621M1552.2 1555V1621M1555.9 1434.2V1621M1557.1 1582.2V1621M1558.4 1598.3V1621M1559.6 1522.7V1621M1564.6 1518.7V1621M1567 1511.4V1621M1570.7 1578.9V1621M1572 1587.1V1621M1573.2 1580.8V1621M1574.5 1540.8V1621M1575.7 1576.1V1621M1580.6 1556.3V1621M1581.9 1588.2V1621M1583.1 1477.4V1621M1584.4 1556.6V1621M1585.6 1558.5V1621M1596.7 1530.7V1621M1598 1582.2V1621M1599.2 1550.7V1621M1601.7 1590.8V1621M1602.9 1568.4V1621M1612.8 1588.7V1621M1614 1580.1V1621M1615.3 1563.9V1621M1617.8 1567.6V1621M1619 1584.7V1621M1620.2 1599.7V1621M1626.4 1558V1621M1627.6 1587.3V1621M1630.1 1594.8V1621M1631.4 1599.2V1621M1633.8 1574.8V1621M1635.1 1601.8V1621M1636.3 1520.6V1621M1640 1592.7V1621M1643.7 1563.5V1621M1645 1592.4V1621M1647.4 1463.1V1621M1652.4 1584.6V1621M1653.6 1592.8V1621M1654.9 1516.6V1621M1656.1 1584V1621M1657.3 1549.8V1621M1658.6 1553V1621M1659.8 1525.7V1621M1663.5 1427.4V1621M1664.8 1519.7V1621M1668.5 1556.8V1621M1669.7 1586.7V1621M1670.9 1588.7V1621M1672.2 1584.5V1621M1673.4 1591V1621M1679.6 1587.3V1621M1682.1 1557.8V1621M1685.8 1576.4V1621M1687 1571V1621M1690.7 1601.6V1621M1692 1562.3V1621M1694.5 1527V1621M1695.7 1553.6V1621M1696.9 1577.5V1621M1698.2 1569.2V1621M1701.9 1591.1V1621M1703.1 1570.1V1621M1704.3 1587.4V1621M1705.6 1572.5V1621M1706.8 1599.7V1621M1714.2 1566.3V1621M1715.5 1576.8V1621M1719.2 1585.8V1621M1720.4 1375.1V1621M1722.9 1599.8V1621M1730.3 1601.5V1621M1732.8 1601.7V1621M1735.3 1586.7V1621M1737.8 1560.7V1621M1740.2 1568.2V1621M1741.5 1530.1V1621M1747.6 1600.1V1621M1748.9 1591.6V1621M1750.1 1524.8V1621M1752.6 1561.5V1621M1756.3 1582.6V1621M1763.7 1542V1621M1765 1591.5V1621M1766.2 1548.8V1621M1767.4 1342.1V1621M1768.7 1576.5V1621M1769.9 1562.4V1621M1772.4 1600.8V1621M1777.3 1601V1621M1778.6 1564.3V1621M1779.8 1601.4V1621M1787.2 1567.7V1621M1788.5 1582.4V1621M1789.7 1601.3V1621M1790.9 1594V1621M1794.7 1570.2V1621M1795.9 1597.1V1621M1797.1 1551.3V1621M1799.6 1601.2V1621M1800.8 1588.4V1621M1803.3 1494.3V1621M1805.8 1542.1V1621M1810.7 1507.2V1621M1812 1510.3V1621M1815.7 1581.3V1621M1820.6 1563.8V1621M1829.3 1602.9V1621M1831.8 1560.4V1621M1834.2 1575.4V1621M1835.5 1521.4V1621M1838 1581.7V1621M1840.4 1554.4V1621M1841.7 1538.9V1621M1846.6 1547.9V1621M1849.1 1600.5V1621M1850.3 1601.5V1621M1851.6 1529.9V1621M1859 1597.2V1621M1866.4 1448.3V1621M1867.6 1540.5V1621M1870.1 1590.2V1621M1871.4 1573.1V1621M1872.6 1600.5V1621M1873.8 1563.8V1621M1877.5 1573.4V1621M1878.8 1581.9V1621M1880 1575.2V1621M1883.7 1581.6V1621M1886.2 1596.2V1621M1887.4 1564.3V1621M1893.6 1596.9V1621M1896.1 1555.8V1621M1898.6 1600.8V1621M1903.5 1576.3V1621M1904.8 1537.3V1621M1910.9 1495V1621M1913.4 1548.9V1621M1914.7 1536.5V1621M1915.9 1573.5V1621M1917.1 1569.8V1621M1918.4 1518.9V1621M1920.8 1595.3V1621M1924.6 1548.4V1621M1929.5 1584V1621M1932 1563.9V1621M1933.2 1552.1V1621M1934.4 1563.1V1621M1935.7 1563.6V1621M1936.9 1456.2V1621M1939.4 1580.8V1621M1941.9 1584.8V1621M1943.1 1535.5V1621M1944.3 1525.1V1621M1945.6 1559.8V1621M1946.8 1587.1V1621M1951.8 1560.3V1621M1959.2 1589.3V1621M1960.4 1601.7V1621M1961.7 1534.9V1621M1966.6 1564.7V1621M1967.9 1601.5V1621M1969.1 1584.7V1621M1974 1599V1621M1977.7 1400.5V1621M1979 1507.5V1621M1980.2 1543.4V1621M1981.5 1576.1V1621M1983.9 1571.3V1621M1985.2 1572.6V1621M1986.4 1553.9V1621M1987.6 1537.7V1621M1988.9 1598.9V1621M1998.8 1598.9V1621M2000 1600V1621M2001.3 1541.5V1621M2005 1576.9V1621M2006.2 1555.7V1621M2007.4 1596.8V1621M2012.4 1595.7V1621M2013.6 1444.7V1621M2014.9 1543.8V1621M2018.6 1592V1621M2019.8 1501.9V1621M2021 1597.3V1621M2024.8 1578.9V1621M2027.2 1577.5V1621M2029.7 1567.9V1621M2030.9 1601.1V1621M2034.7 1311.7V1621M2035.9 1583.7V1621M2037.1 1596.8V1621M2044.6 1594.2V1621M2047 1587.8V1621M2048.3 1584.6V1621M2052 1564.4V1621M2056.9 1587.9V1621M2058.2 1526.2V1621M2060.6 1518.8V1621M2061.9 1600.8V1621M2063.1 1588.5V1621M2064.3 1483V1621M2068.1 1585.5V1621M2069.3 1600.3V1621M2074.2 1585.8V1621M2075.5 1583.1V1621M2076.7 1600.8V1621M2079.2 1601.7V1621M2081.7 1584.2V1621M2082.9 1421.2V1621M2085.4 1574.4V1621M2087.8 1537V1621M2089.1 1508.8V1621M2090.3 1555.9V1621M2095.3 1544.4V1621M2097.7 1600.9V1621M2099 1583.2V1621M2100.2 1595.4V1621M2102.7 1574.8V1621M2103.9 1587.6V1621M2105.2 1602.7V1621M2108.9 1599.5V1621M2110.1 1547.8V1621M2111.4 1488.3V1621M2117.5 1589.6V1621M2118.8 1598.1V1621M2120 1580.8V1621M2121.3 1579V1621M2125 1592.1V1621M2126.2 1577.1V1621"/>
<g shape-rendering="crispEdges">
<path fill="#089981" d="M16 1289h1V1299h-1zM16 1289h2V1292h-2z"/>
<path fill="#f23645" d="M18 1287h1V1309h-1zM18 1289h2V1301h-2zM19 1293h1V1313h-1zM19 1301h2V1306h-2zM20 1295h1V1313h-1zM20 1306h2V1311h-2zM21 1309h1V1318h-1zM21 1311h2V1313h-2zM23 1308h1V1333h-1zM23 1313h2V1321h-2zM24 1315h1V1341h-1zM24 1321h2V1333h-2zM25 1325h1V1343h-1zM25 1333h2V1337h-2zM26 1336h1V1349h-1zM26 1337h2V1347h-2zM28 1339h1V1350h-1zM28 1347h2V1350h-2z"/>
<path fill="#089981" d="M29 1332h1V1353h-1zM29 1340h2V1350h-2zM30 1322h1V1345h-1zM30 1323h2V1340h-2zM31 1296h1V1328h-1zM31 1302h2V1323h-2zM33 1300h1V1303h-1zM33 1302h2V1303h-2zM34 1262h1V1307h-1zM34 1289h2V1302h-2zM35 1261h1V1297h-1zM35 1268h2V1289h-2zM36 1228h1V1272h-1zM36 1236h2V1268h-2zM37 1217h1V1246h-1zM37 1219h2V1236h-2zM39 1194h1V1225h-1zM39 1211h2V1219h-2zM40 1190h1V1235h-1zM40 1202h2V1211h-2zM41 1197h1V1205h-1zM41 1197h2V1202h-2zM42 1189h1V1204h-1zM42 1191h2V1197h-2z"/>
<path fill="#f23645" d="M44 1188h1V1217h-1zM44 1191h2V1215h-2zM45 1196h1V1238h-1zM45 1215h2V1230h-2zM46 1207h1V1249h-1zM46 1230h2V1242h-2zM47 1239h1V1251h-1zM47 1242h2V1249h-2z"/>
<path fill="#089981" d="M49 1213h1V1251h-1zM49 1222h2V1249h-2zM50 1181h1V1240h-1zM50 1200h2V1222h-2zM51 1170h1V1215h-1zM51 1171h2V1200h-2zM52 1146h1V1193h-1zM52 1164h2V1171h-2zM54 1137h1V1174h-1zM54 1143h2V1164h-2zM55 1125h1V1145h-1zM55 1132h2V1143h-2zM56 1113h1V1140h-1zM56 1129h2V1132h-2zM57 1124h1V1132h-1zM57 1124h2V1129h-2zM59 1122h1V1136h-1zM59 1123h2V1124h-2z"/>
<path fill="#f23645" d="M60 1114h1V1142h-1zM60 1123h2V1127h-2zM61 1125h1V1136h-1zM61 1127h2V1133h-2zM62 1128h1V1158h-1zM62 1133h2V1140h-2zM63 1119h1V1165h-1zM63 1140h2V1152h-2zM65 1146h1V1162h-1zM65 1152h2V1159h-2z"/>
<path fill="#089981" d="M66 1117h1V1166h-1zM66 1118h2V1159h-2zM67 1092h1V1127h-1zM67 1097h2V1118h-2zM68 1087h1V1109h-1zM68 1097h2V1098h-2zM70 1087h1V1104h-1zM70 1089h2V1097h-2z"/>
<path fill="#f23645" d="M71 1088h1V1098h-1zM71 1089h2V1091h-2zM72 1088h1V1110h-1zM72 1091h2V1110h-2z"/>
<path fill="#089981" d="M73 1103h1V1117h-1zM73 1104h2V1110h-2z"/>
<path fill="#f23645" d="M75 1103h1V1120h-1zM75 1104h2V1118h-2z"/>
<path fill="#089981" d="M76 1111h1V1125h-1zM76 1113h2V1118h-2zM77 1097h1V1119h-1zM77 1102h2V1113h-2z"/>
<path fill="#f23645" d="M78 1099h1V1131h-1zM78 1102h2V1107h-2zM80 1098h1V1131h-1zM80 1107h2V1115h-2zM81 1107h1V1130h-1zM81 1115h2V1119h-2zM82 1096h1V1131h-1zM82 1119h2V1121h-2z"/>
<path fill="#089981" d="M83 1096h1V1131h-1zM83 1106h2V1121h-2zM84 1082h1V1109h-1zM84 1094h2V1106h-2zM86 1077h1V1107h-1zM86 1084h2V1094h-2zM87 1059h1V1089h-1zM87 1064h2V1084h-2z"/>
<path fill="#f23645" d="M88 1064h1V1101h-1zM88 1064h2V1096h-2zM89 1093h1V1177h-1zM89 1096h2V1164h-2z"/>
<path fill="#089981" d="M91 1143h1V1178h-1zM91 1157h2V1164h-2zM92 1132h1V1170h-1zM92 1134h2V1157h-2z"/>
<path fill="#f23645" d="M93 1135h1V1147h-1zM93 1136h2V1139h-2z"/>
<path fill="#089981" d="M94 1135h1V1148h-1zM94 1138h2V1139h-2z"/>
<path fill="#f23645" d="M96 1133h1V1153h-1zM96 1138h2V1144h-2z"/>
<path fill="#089981" d="M97 1131h1V1154h-1zM97 1141h2V1144h-2z"/>
<path fill="#f23645" d="M98 1117h1V1154h-1zM98 1141h2V1143h-2z"/>
<path fill="#089981" d="M99 1106h1V1152h-1zM99 1114h2V1143h-2zM101 1107h1V1121h-1zM101 1108h2V1114h-2z"/>
<path fill="#f23645" d="M102 1107h1V1115h-1zM102 1108h2V1113h-2zM103 1113h1V1139h-1zM103 1113h2V1131h-2zM104 1108h1V1163h-1zM104 1131h2V1135h-2zM106 1109h1V1163h-1zM106 1135h2V1163h-2zM107 1156h1V1194h-1zM107 1163h2V1189h-2z"/>
<path fill="#089981" d="M108 1184h1V1191h-1zM108 1186h2V1189h-2zM109 1161h1V1196h-1zM109 1163h2V1186h-2z"/>
<path fill="#f23645" d="M110 1161h1V1163h-1zM110 1163h2V1164h-2zM112 1160h1V1202h-1zM112 1163h2V1193h-2zM113 1193h1V1203h-1zM113 1193h2V1202h-2z"/>
<path fill="#089981" d="M114 1192h1V1204h-1zM114 1198h2V1202h-2zM115 1192h1V1203h-1zM115 1196h2V1198h-2zM117 1188h1V1200h-1zM117 1195h2V1196h-2zM118 1149h1V1196h-1zM118 1155h2V1195h-2zM119 1114h1V1174h-1zM119 1123h2V1155h-2z"/>
<path fill="#f23645" d="M120 1121h1V1133h-1zM120 1123h2V1125h-2z"/>
<path fill="#089981" d="M122 1106h1V1125h-1zM122 1111h2V1125h-2zM123 1061h1V1121h-1zM123 1073h2V1111h-2zM124 1057h1V1082h-1zM124 1059h2V1073h-2zM125 1016h1V1073h-1zM125 1028h2V1059h-2z"/>
<path fill="#f23645" d="M127 1021h1V1052h-1zM127 1028h2V1035h-2z"/>
<path fill="#089981" d="M128 1024h1V1040h-1zM128 1025h2V1035h-2zM129 1011h1V1040h-1zM129 1012h2V1025h-2zM130 1000h1V1017h-1zM130 1001h2V1012h-2zM131 982h1V1014h-1zM131 984h2V1001h-2z"/>
<path fill="#f23645" d="M133 970h1V998h-1zM133 976h2V987h-2zM134 984h1V993h-1zM134 987h2V992h-2z"/>
<path fill="#089981" d="M135 949h1V991h-1zM135 963h2V989h-2zM136 953h1V972h-1zM136 961h2V963h-2zM138 918h1V987h-1zM138 930h2V961h-2zM139 901h1V937h-1zM139 907h2V930h-2zM140 878h1V924h-1zM140 894h2V907h-2zM141 869h1V894h-1zM141 879h2V894h-2z"/>
<path fill="#f23645" d="M143 870h1V915h-1zM143 879h2V909h-2zM144 891h1V961h-1zM144 909h2V955h-2z"/>
<path fill="#089981" d="M145 931h1V962h-1zM145 944h2V955h-2zM146 921h1V966h-1zM146 932h2V944h-2zM148 912h1V950h-1zM148 931h2V932h-2zM149 910h1V943h-1zM149 927h2V931h-2z"/>
<path fill="#f23645" d="M150 912h1V962h-1zM150 927h2V957h-2zM151 938h1V978h-1zM151 957h2V977h-2z"/>
<path fill="#089981" d="M153 959h1V977h-1zM153 962h2V977h-2zM154 918h1V965h-1zM154 929h2V962h-2zM155 910h1V936h-1zM155 913h2V929h-2z"/>
<path fill="#f23645" d="M156 913h1V947h-1zM156 913h2V917h-2z"/>
<path fill="#089981" d="M157 906h1V918h-1zM157 910h2V917h-2z"/>
<path fill="#f23645" d="M159 907h1V938h-1zM159 910h2V928h-2zM160 907h1V955h-1zM160 928h2V954h-2z"/>
<path fill="#089981" d="M161 925h1V956h-1zM161 942h2V954h-2z"/>
<path fill="#f23645" d="M162 940h1V955h-1zM162 942h2V954h-2z"/>
<path fill="#089981" d="M164 912h1V957h-1zM164 930h2V954h-2zM165 848h1V932h-1zM165 856h2V930h-2z"/>
<path fill="#f23645" d="M166 842h1V860h-1zM166 856h2V860h-2z"/>
<path fill="#089981" d="M167 855h1V868h-1zM167 857h2V860h-2z"/>
<path fill="#f23645" d="M169 849h1V891h-1zM169 857h2V886h-2zM170 859h1V928h-1zM170 886h2V926h-2z"/>
<path fill="#089981" d="M171 899h1V943h-1zM171 912h2V926h-2zM172 898h1V922h-1zM172 898h2V912h-2zM174 878h1V934h-1zM174 888h2V898h-2z"/>
<path fill="#f23645" d="M175 879h1V932h-1zM175 888h2V921h-2zM176 911h1V974h-1zM176 921h2V958h-2zM177 929h1V1000h-1zM177 958h2V978h-2zM179 976h1V1004h-1zM179 978h2V991h-2zM180 990h1V1021h-1zM180 991h2V1014h-2z"/>
<path fill="#089981" d="M181 960h1V1021h-1zM181 985h2V1014h-2z"/>
<path fill="#f23645" d="M182 974h1V1021h-1zM182 985h2V993h-2zM183 982h1V1021h-1zM183 993h2V1005h-2zM185 989h1V1014h-1zM185 1005h2V1008h-2z"/>
<path fill="#089981" d="M186 961h1V1017h-1zM186 989h2V1008h-2zM187 979h1V1004h-1zM187 979h2V989h-2z"/>
<path fill="#f23645" d="M188 972h1V1025h-1zM188 979h2V1015h-2zM190 1010h1V1037h-1zM190 1015h2V1036h-2z"/>
<path fill="#089981" d="M191 1001h1V1042h-1zM191 1016h2V1036h-2zM192 989h1V1017h-1zM192 997h2V1016h-2zM193 969h1V1002h-1zM193 973h2V997h-2z"/>
<path fill="#f23645" d="M195 970h1V999h-1zM195 973h2V991h-2zM196 980h1V1043h-1zM196 991h2V1016h-2zM197 1013h1V1192h-1zM197 1016h2V1078h-2zM198 1072h1V1097h-1zM198 1078h2V1090h-2z"/>
<path fill="#089981" d="M200 1071h1V1098h-1zM200 1076h2V1090h-2zM201 1064h1V1083h-1zM201 1073h2V1076h-2z"/>
<path fill="#f23645" d="M202 1066h1V1093h-1zM202 1073h2V1087h-2zM203 1073h1V1100h-1zM203 1087h2V1098h-2zM204 1088h1V1126h-1zM204 1098h2V1125h-2z"/>
<path fill="#089981" d="M206 1108h1V1128h-1zM206 1114h2V1125h-2zM207 1083h1V1126h-1zM207 1091h2V1114h-2z"/>
<path fill="#f23645" d="M208 1082h1V1098h-1zM208 1091h2V1094h-2zM209 1093h1V1131h-1zM209 1094h2V1117h-2zM211 1110h1V1135h-1zM211 1117h2V1133h-2z"/>
<path fill="#089981" d="M212 1096h1V1138h-1zM212 1101h2V1133h-2zM213 1099h1V1113h-1zM213 1100h2V1101h-2z"/>
<path fill="#f23645" d="M214 1099h1V1134h-1zM214 1100h2V1125h-2zM216 1113h1V1139h-1zM216 1125h2V1131h-2zM217 1122h1V1144h-1zM217 1131h2V1132h-2z"/>
<path fill="#089981" d="M218 1108h1V1139h-1zM218 1124h2V1132h-2zM219 1104h1V1143h-1zM219 1109h2V1124h-2zM221 1085h1V1113h-1zM221 1100h2V1109h-2zM222 1063h1V1106h-1zM222 1067h2V1100h-2zM223 1064h1V1076h-1zM223 1066h2V1067h-2zM224 1064h1V1081h-1zM224 1064h2V1066h-2z"/>
<path fill="#f23645" d="M226 1062h1V1081h-1zM226 1064h2V1070h-2zM227 1063h1V1098h-1zM227 1070h2V1097h-2zM228 1091h1V1107h-1zM228 1097h2V1099h-2zM229 1086h1V1126h-1zM229 1099h2V1125h-2z"/>
<path fill="#089981" d="M230 1106h1V1146h-1zM230 1108h2V1126h-2z"/>
<path fill="#f23645" d="M232 1107h1V1141h-1zM232 1108h2V1121h-2zM233 1118h1V1126h-1zM233 1121h2V1123h-2zM234 1114h1V1151h-1zM234 1123h2V1141h-2z"/>
<path fill="#089981" d="M235 1128h1V1146h-1zM235 1139h2V1141h-2zM237 1120h1V1146h-1zM237 1124h2V1139h-2z"/>
<path fill="#f23645" d="M238 1121h1V1180h-1zM238 1124h2V1175h-2zM239 1158h1V1195h-1zM239 1175h2V1190h-2zM240 1185h1V1203h-1zM240 1190h2V1195h-2zM242 1185h1V1208h-1zM242 1195h2V1202h-2zM243 1187h1V1209h-1zM243 1202h2V1207h-2z"/>
<path fill="#089981" d="M244 1187h1V1209h-1zM244 1192h2V1207h-2zM245 1171h1V1208h-1zM245 1173h2V1192h-2z"/>
<path fill="#f23645" d="M247 1172h1V1195h-1zM247 1173h2V1183h-2z"/>
<path fill="#089981" d="M248 1170h1V1195h-1zM248 1174h2V1183h-2z"/>
<path fill="#f23645" d="M249 1169h1V1195h-1zM249 1174h2V1194h-2z"/>
<path fill="#089981" d="M250 1181h1V1194h-1zM250 1182h2V1194h-2zM251 1174h1V1197h-1zM251 1176h2V1182h-2z"/>
<path fill="#f23645" d="M253 1168h1V1185h-1zM253 1176h2V1184h-2zM254 1174h1V1197h-1zM254 1184h2V1192h-2zM255 1187h1V1225h-1zM255 1192h2V1204h-2zM256 1196h1V1225h-1zM256 1204h2V1218h-2zM258 1208h1V1264h-1zM258 1218h2V1261h-2zM259 1260h1V1294h-1zM259 1261h2V1288h-2z"/>
<path fill="#089981" d="M260 1235h1V1295h-1zM260 1245h2V1288h-2zM261 1232h1V1251h-1zM261 1237h2V1245h-2zM263 1231h1V1256h-1zM263 1232h2V1237h-2z"/>
<path fill="#f23645" d="M264 1230h1V1244h-1zM264 1232h2V1244h-2zM265 1241h1V1252h-1zM265 1244h2V1246h-2zM266 1239h1V1253h-1zM266 1246h2V1252h-2z"/>
<path fill="#089981" d="M268 1238h1V1252h-1zM268 1242h2V1252h-2zM269 1232h1V1246h-1zM269 1240h2V1242h-2zM270 1217h1V1252h-1zM270 1228h2V1240h-2z"/>
<path fill="#f23645" d="M271 1221h1V1232h-1zM271 1228h2V1230h-2z"/>
<path fill="#089981" d="M273 1205h1V1236h-1zM273 1225h2V1230h-2zM274 1199h1V1225h-1zM274 1202h2V1225h-2z"/>
<path fill="#f23645" d="M275 1190h1V1208h-1zM275 1202h2V1203h-2z"/>
<path fill="#089981" d="M276 1171h1V1209h-1zM276 1187h2V1203h-2zM277 1140h1V1197h-1zM277 1169h2V1187h-2zM279 1140h1V1170h-1zM279 1146h2V1169h-2z"/>
<path fill="#f23645" d="M280 1141h1V1167h-1zM280 1146h2V1156h-2z"/>
<path fill="#089981" d="M281 1140h1V1169h-1zM281 1142h2V1156h-2z"/>
<path fill="#f23645" d="M282 1139h1V1176h-1zM282 1142h2V1153h-2zM284 1147h1V1186h-1zM284 1153h2V1174h-2zM285 1166h1V1189h-1zM285 1174h2V1188h-2z"/>
<path fill="#089981" d="M286 1171h1V1197h-1zM286 1182h2V1189h-2zM287 1155h1V1193h-1zM287 1158h2V1182h-2z"/>
<path fill="#f23645" d="M289 1156h1V1185h-1zM289 1158h2V1182h-2zM290 1169h1V1210h-1zM290 1182h2V1205h-2zM291 1196h1V1219h-1zM291 1205h2V1219h-2zM292 1200h1V1222h-1zM292 1219h2V1220h-2zM294 1214h1V1233h-1zM294 1219h2V1225h-2zM295 1207h1V1248h-1zM295 1225h2V1245h-2zM296 1241h1V1252h-1zM296 1245h2V1252h-2zM297 1240h1V1268h-1zM297 1252h2V1259h-2zM299 1247h1V1289h-1zM299 1259h2V1272h-2z"/>
<path fill="#089981" d="M300 1261h1V1279h-1zM300 1268h2V1272h-2zM301 1216h1V1275h-1zM301 1221h2V1268h-2zM302 1189h1V1222h-1zM302 1201h2V1221h-2zM303 1166h1V1208h-1zM303 1169h2V1201h-2zM305 1155h1V1180h-1zM305 1166h2V1169h-2zM306 1147h1V1188h-1zM306 1154h2V1166h-2z"/>
<path fill="#f23645" d="M307 1152h1V1166h-1zM307 1154h2V1163h-2zM308 1149h1V1195h-1zM308 1163h2V1185h-2zM310 1180h1V1221h-1zM310 1185h2V1206h-2zM311 1197h1V1218h-1zM311 1206h2V1218h-2z"/>
<path fill="#089981" d="M312 1207h1V1229h-1zM312 1214h2V1218h-2zM313 1188h1V1220h-1zM313 1192h2V1214h-2z"/>
<path fill="#f23645" d="M315 1184h1V1206h-1zM315 1192h2V1205h-2zM316 1204h1V1243h-1zM316 1205h2V1229h-2zM317 1196h1V1251h-1zM317 1229h2V1245h-2z"/>
<path fill="#089981" d="M318 1232h1V1249h-1zM318 1241h2V1245h-2z"/>
<path fill="#f23645" d="M320 1237h1V1252h-1zM320 1241h2V1252h-2z"/>
<path fill="#089981" d="M321 1225h1V1252h-1zM321 1225h2V1252h-2zM322 1210h1V1229h-1zM322 1215h2V1225h-2zM323 1197h1V1218h-1zM323 1204h2V1215h-2z"/>
<path fill="#f23645" d="M324 1198h1V1223h-1zM324 1204h2V1214h-2z"/>
<path fill="#089981" d="M326 1198h1V1215h-1zM326 1199h2V1214h-2z"/>
<path fill="#f23645" d="M327 1198h1V1210h-1zM327 1199h2V1202h-2zM328 1200h1V1208h-1zM328 1202h2V1203h-2z"/>
<path fill="#089981" d="M329 1197h1V1208h-1zM329 1201h2V1203h-2zM331 1167h1V1208h-1zM331 1186h2V1201h-2zM332 1169h1V1191h-1zM332 1178h2V1186h-2zM333 1167h1V1182h-1zM333 1177h2V1178h-2zM334 1135h1V1181h-1zM334 1157h2V1177h-2zM336 1120h1V1172h-1zM336 1146h2V1157h-2zM337 1119h1V1152h-1zM337 1134h2V1146h-2zM338 1115h1V1138h-1zM338 1115h2V1134h-2zM339 1108h1V1126h-1zM339 1111h2V1115h-2z"/>
<path fill="#f23645" d="M341 1109h1V1146h-1zM341 1111h2V1122h-2zM342 1118h1V1147h-1zM342 1122h2V1140h-2z"/>
<path fill="#089981" d="M343 1110h1V1148h-1zM343 1130h2V1140h-2z"/>
<path fill="#f23645" d="M344 1122h1V1141h-1zM344 1130h2V1141h-2z"/>
<path fill="#089981" d="M346 1139h1V1152h-1zM346 1139h2V1141h-2zM347 1134h1V1148h-1zM347 1136h2V1139h-2z"/>
<path fill="#f23645" d="M348 1127h1V1169h-1zM348 1136h2V1147h-2zM349 1127h1V1171h-1zM349 1147h2V1169h-2zM350 1169h1V1188h-1zM350 1169h2V1181h-2zM352 1176h1V1187h-1zM352 1181h2V1182h-2zM353 1176h1V1188h-1zM353 1181h2V1187h-2zM354 1182h1V1204h-1zM354 1187h2V1202h-2zM355 1193h1V1227h-1zM355 1202h2V1225h-2zM357 1222h1V1232h-1zM357 1225h2V1230h-2z"/>
<path fill="#089981" d="M358 1206h1V1236h-1zM358 1220h2V1230h-2zM359 1212h1V1226h-1zM359 1213h2V1220h-2z"/>
<path fill="#f23645" d="M360 1212h1V1221h-1zM360 1213h2V1214h-2zM362 1213h1V1230h-1zM362 1213h2V1227h-2zM363 1223h1V1237h-1zM363 1227h2V1230h-2zM364 1221h1V1241h-1zM364 1230h2V1232h-2z"/>
<path fill="#089981" d="M365 1194h1V1237h-1zM365 1201h2V1232h-2zM367 1194h1V1205h-1zM367 1197h2V1201h-2zM368 1177h1V1205h-1zM368 1181h2V1197h-2z"/>
<path fill="#f23645" d="M369 1179h1V1197h-1zM369 1181h2V1191h-2zM370 1181h1V1236h-1zM370 1191h2V1222h-2zM371 1204h1V1241h-1zM371 1222h2V1224h-2z"/>
<path fill="#089981" d="M373 1216h1V1242h-1zM373 1220h2V1224h-2z"/>
<path fill="#f23645" d="M374 1218h1V1233h-1zM374 1220h2V1232h-2zM375 1229h1V1241h-1zM375 1232h2V1240h-2z"/>
<path fill="#089981" d="M376 1232h1V1241h-1zM376 1234h2V1240h-2z"/>
<path fill="#f23645" d="M378 1231h1V1246h-1zM378 1234h2V1239h-2zM379 1234h1V1245h-1zM379 1239h2V1240h-2zM380 1235h1V1253h-1zM380 1240h2V1249h-2zM381 1246h1V1260h-1zM381 1249h2V1257h-2z"/>
<path fill="#089981" d="M383 1234h1V1258h-1zM383 1246h2V1257h-2zM384 1224h1V1263h-1zM384 1226h2V1246h-2z"/>
<path fill="#f23645" d="M385 1218h1V1260h-1zM385 1226h2V1251h-2zM386 1243h1V1260h-1zM386 1251h2V1257h-2zM388 1254h1V1284h-1zM388 1257h2V1281h-2zM389 1274h1V1310h-1zM389 1281h2V1294h-2zM390 1289h1V1313h-1zM390 1294h2V1301h-2zM391 1293h1V1328h-1zM391 1301h2V1321h-2zM393 1315h1V1364h-1zM393 1321h2V1356h-2zM394 1356h1V1406h-1zM394 1356h2V1365h-2z"/>
<path fill="#089981" d="M395 1351h1V1371h-1zM395 1353h2V1365h-2zM396 1338h1V1362h-1zM396 1347h2V1353h-2zM397 1341h1V1355h-1zM397 1343h2V1347h-2z"/>
<path fill="#f23645" d="M399 1333h1V1364h-1zM399 1343h2V1360h-2zM400 1348h1V1365h-1zM400 1360h2V1364h-2z"/>
<path fill="#089981" d="M401 1342h1V1364h-1zM401 1346h2V1364h-2zM402 1338h1V1348h-1zM402 1344h2V1346h-2z"/>
<path fill="#f23645" d="M404 1341h1V1359h-1zM404 1344h2V1352h-2z"/>
<path fill="#089981" d="M405 1341h1V1359h-1zM405 1351h2V1352h-2z"/>
<path fill="#f23645" d="M406 1349h1V1364h-1zM406 1351h2V1361h-2z"/>
<path fill="#089981" d="M407 1352h1V1367h-1zM407 1356h2V1361h-2zM409 1347h1V1360h-1zM409 1351h2V1356h-2z"/>
<path fill="#f23645" d="M410 1343h1V1365h-1zM410 1351h2V1353h-2zM411 1352h1V1372h-1zM411 1353h2V1364h-2z"/>
<path fill="#089981" d="M412 1360h1V1365h-1zM412 1362h2V1364h-2zM414 1355h1V1367h-1zM414 1358h2V1362h-2zM415 1353h1V1365h-1zM415 1355h2V1358h-2zM416 1336h1V1357h-1zM416 1343h2V1355h-2zM417 1318h1V1347h-1zM417 1321h2V1343h-2z"/>
<path fill="#f23645" d="M419 1316h1V1335h-1zM419 1321h2V1326h-2zM420 1325h1V1357h-1zM420 1326h2V1355h-2z"/>
<path fill="#089981" d="M421 1342h1V1357h-1zM421 1353h2V1355h-2zM422 1345h1V1354h-1zM422 1345h2V1353h-2zM423 1324h1V1355h-1zM423 1325h2V1345h-2z"/>
<path fill="#f23645" d="M425 1325h1V1335h-1zM425 1325h2V1333h-2z"/>
<path fill="#089981" d="M426 1326h1V1341h-1zM426 1332h2V1333h-2z"/>
<path fill="#f23645" d="M427 1327h1V1350h-1zM427 1332h2V1348h-2zM428 1338h1V1363h-1zM428 1348h2V1354h-2zM430 1349h1V1376h-1zM430 1354h2V1359h-2zM431 1359h1V1372h-1zM431 1359h2V1369h-2zM432 1366h1V1381h-1zM432 1369h2V1374h-2zM433 1373h1V1422h-1zM433 1374h2V1407h-2zM435 1407h1V1439h-1zM435 1407h2V1435h-2zM436 1427h1V1458h-1zM436 1435h2V1456h-2zM437 1445h1V1487h-1zM437 1456h2V1482h-2zM438 1481h1V1500h-1zM438 1482h2V1492h-2z"/>
<path fill="#089981" d="M440 1481h1V1505h-1zM440 1487h2V1492h-2zM441 1472h1V1491h-1zM441 1483h2V1487h-2zM442 1459h1V1488h-1zM442 1468h2V1483h-2zM443 1461h1V1470h-1zM443 1465h2V1468h-2zM444 1460h1V1467h-1zM444 1460h2V1465h-2zM446 1451h1V1469h-1zM446 1455h2V1460h-2z"/>
<path fill="#f23645" d="M447 1454h1V1465h-1zM447 1455h2V1463h-2z"/>
<path fill="#089981" d="M448 1451h1V1464h-1zM448 1459h2V1463h-2zM449 1450h1V1461h-1zM449 1451h2V1459h-2z"/>
<path fill="#f23645" d="M451 1450h1V1458h-1zM451 1451h2V1456h-2zM452 1451h1V1480h-1zM452 1456h2V1477h-2zM453 1476h1V1486h-1zM453 1477h2V1482h-2zM454 1479h1V1494h-1zM454 1482h2V1492h-2zM456 1492h1V1494h-1zM456 1492h2V1493h-2z"/>
<path fill="#089981" d="M457 1476h1V1493h-1zM457 1484h2V1493h-2z"/>
<path fill="#f23645" d="M458 1478h1V1488h-1zM458 1484h2V1485h-2z"/>
<path fill="#089981" d="M459 1466h1V1494h-1zM459 1471h2V1485h-2z"/>
<path fill="#f23645" d="M461 1464h1V1479h-1zM461 1471h2V1472h-2z"/>
<path fill="#089981" d="M462 1459h1V1482h-1zM462 1466h2V1471h-2zM463 1448h1V1470h-1zM463 1461h2V1466h-2zM464 1445h1V1471h-1zM464 1448h2V1461h-2z"/>
<path fill="#f23645" d="M466 1445h1V1457h-1zM466 1448h2V1452h-2zM467 1450h1V1478h-1zM467 1452h2V1463h-2zM468 1458h1V1477h-1zM468 1463h2V1472h-2zM469 1469h1V1484h-1zM469 1472h2V1480h-2zM470 1474h1V1487h-1zM470 1480h2V1484h-2z"/>
<path fill="#089981" d="M472 1476h1V1489h-1zM472 1480h2V1484h-2zM473 1473h1V1481h-1zM473 1476h2V1480h-2zM474 1461h1V1484h-1zM474 1465h2V1476h-2zM475 1449h1V1469h-1zM475 1452h2V1465h-2zM477 1442h1V1453h-1zM477 1443h2V1452h-2zM478 1424h1V1444h-1zM478 1436h2V1443h-2zM479 1423h1V1443h-1zM479 1426h2V1436h-2z"/>
<path fill="#f23645" d="M480 1423h1V1435h-1zM480 1426h2V1434h-2zM482 1427h1V1448h-1zM482 1434h2V1442h-2zM483 1437h1V1451h-1zM483 1442h2V1449h-2zM484 1448h1V1454h-1zM484 1449h2V1454h-2zM485 1444h1V1460h-1zM485 1454h2V1455h-2zM487 1442h1V1467h-1zM487 1455h2V1460h-2z"/>
<path fill="#089981" d="M488 1443h1V1465h-1zM488 1447h2V1460h-2zM489 1429h1V1451h-1zM489 1429h2V1447h-2zM490 1415h1V1432h-1zM490 1422h2V1429h-2zM491 1416h1V1428h-1zM491 1420h2V1422h-2zM493 1415h1V1430h-1zM493 1418h2V1420h-2z"/>
<path fill="#f23645" d="M494 1415h1V1435h-1zM494 1418h2V1420h-2zM495 1415h1V1444h-1zM495 1420h2V1434h-2z"/>
<path fill="#089981" d="M496 1427h1V1444h-1zM496 1434h2V1435h-2z"/>
<path fill="#f23645" d="M498 1432h1V1444h-1zM498 1434h2V1443h-2z"/>
<path fill="#089981" d="M499 1433h1V1444h-1zM499 1436h2V1443h-2zM500 1426h1V1444h-1zM500 1427h2V1436h-2z"/>
<path fill="#f23645" d="M501 1425h1V1441h-1zM501 1427h2V1430h-2zM503 1430h1V1441h-1zM503 1430h2V1438h-2z"/>
<path fill="#089981" d="M504 1417h1V1437h-1zM504 1427h2V1436h-2zM505 1414h1V1434h-1zM505 1419h2V1427h-2zM506 1411h1V1430h-1zM506 1417h2V1419h-2z"/>
<path fill="#f23645" d="M508 1409h1V1419h-1zM508 1417h2V1419h-2z"/>
<path fill="#089981" d="M509 1412h1V1422h-1zM509 1416h2V1419h-2zM510 1409h1V1417h-1zM510 1412h2V1416h-2z"/>
<path fill="#f23645" d="M511 1410h1V1423h-1zM511 1412h2V1418h-2zM513 1407h1V1430h-1zM513 1418h2V1422h-2zM514 1420h1V1427h-1zM514 1422h2V1426h-2zM515 1421h1V1438h-1zM515 1426h2V1436h-2zM516 1436h1V1457h-1zM516 1436h2V1457h-2zM517 1448h1V1467h-1zM517 1457h2V1466h-2z"/>
<path fill="#089981" d="M519 1464h1V1467h-1zM519 1466h2V1467h-2zM520 1454h1V1467h-1zM520 1455h2V1466h-2z"/>
<path fill="#f23645" d="M521 1451h1V1457h-1zM521 1455h2V1456h-2zM522 1452h1V1461h-1zM522 1456h2V1458h-2z"/>
<path fill="#089981" d="M524 1451h1V1471h-1zM524 1453h2V1458h-2z"/>
<path fill="#f23645" d="M525 1451h1V1462h-1zM525 1453h2V1459h-2zM526 1457h1V1476h-1zM526 1459h2V1468h-2zM527 1461h1V1480h-1zM527 1468h2V1479h-2z"/>
<path fill="#089981" d="M529 1475h1V1480h-1zM529 1476h2V1479h-2z"/>
<path fill="#f23645" d="M530 1473h1V1481h-1zM530 1476h2V1479h-2z"/>
<path fill="#089981" d="M531 1472h1V1481h-1zM531 1479h2V1480h-2zM532 1472h1V1481h-1zM532 1474h2V1478h-2z"/>
<path fill="#f23645" d="M534 1472h1V1479h-1zM534 1474h2V1476h-2zM535 1475h1V1483h-1zM535 1476h2V1482h-2z"/>
<path fill="#089981" d="M536 1473h1V1494h-1zM536 1477h2V1488h-2z"/>
<path fill="#f23645" d="M537 1474h1V1493h-1zM537 1477h2V1483h-2zM539 1474h1V1487h-1zM539 1483h2V1485h-2zM540 1481h1V1493h-1zM540 1485h2V1490h-2z"/>
<path fill="#089981" d="M541 1464h1V1494h-1zM541 1474h2V1490h-2zM542 1459h1V1474h-1zM542 1465h2V1474h-2zM543 1453h1V1472h-1zM543 1457h2V1465h-2zM545 1445h1V1463h-1zM545 1455h2V1457h-2zM546 1441h1V1463h-1zM546 1449h2V1455h-2z"/>
<path fill="#f23645" d="M547 1440h1V1455h-1zM547 1449h2V1450h-2zM548 1443h1V1480h-1zM548 1450h2V1476h-2zM550 1473h1V1481h-1zM550 1476h2V1477h-2zM551 1470h1V1485h-1zM551 1477h2V1479h-2zM552 1470h1V1490h-1zM552 1479h2V1480h-2zM553 1480h1V1487h-1zM553 1480h2V1483h-2zM555 1478h1V1493h-1zM555 1483h2V1492h-2z"/>
<path fill="#089981" d="M556 1479h1V1492h-1zM556 1488h2V1492h-2z"/>
<path fill="#f23645" d="M557 1487h1V1499h-1zM557 1488h2V1494h-2z"/>
<path fill="#089981" d="M558 1485h1V1499h-1zM558 1492h2V1494h-2zM560 1481h1V1494h-1zM560 1482h2V1492h-2zM561 1481h1V1483h-1zM561 1482h2V1483h-2zM562 1479h1V1488h-1zM562 1482h2V1483h-2z"/>
<path fill="#f23645" d="M563 1480h1V1488h-1zM563 1482h2V1484h-2zM564 1484h1V1491h-1zM564 1484h2V1490h-2z"/>
<path fill="#089981" d="M566 1481h1V1490h-1zM566 1490h2V1491h-2zM567 1480h1V1491h-1zM567 1486h2V1490h-2zM568 1479h1V1489h-1zM568 1483h2V1486h-2zM569 1474h1V1486h-1zM569 1476h2V1483h-2z"/>
<path fill="#f23645" d="M571 1475h1V1486h-1zM571 1476h2V1486h-2z"/>
<path fill="#089981" d="M572 1479h1V1485h-1zM572 1479h2V1485h-2zM573 1479h1V1485h-1zM573 1479h2V1480h-2zM574 1469h1V1480h-1zM574 1471h2V1479h-2z"/>
<path fill="#f23645" d="M576 1470h1V1481h-1zM576 1471h2V1475h-2z"/>
<path fill="#089981" d="M577 1470h1V1483h-1zM577 1471h2V1475h-2z"/>
<path fill="#f23645" d="M578 1470h1V1488h-1zM578 1471h2V1486h-2zM579 1478h1V1489h-1zM579 1486h2V1488h-2z"/>
<path fill="#089981" d="M581 1479h1V1491h-1zM581 1481h2V1488h-2z"/>
<path fill="#f23645" d="M582 1480h1V1491h-1zM582 1482h2V1486h-2zM583 1483h1V1492h-1zM583 1486h2V1490h-2z"/>
<path fill="#089981" d="M584 1483h1V1492h-1zM584 1484h2V1490h-2zM586 1481h1V1486h-1zM586 1482h2V1483h-2zM587 1481h1V1492h-1zM587 1482h2V1483h-2z"/>
<path fill="#f23645" d="M588 1482h1V1484h-1zM588 1482h2V1483h-2z"/>
<path fill="#089981" d="M589 1481h1V1484h-1zM589 1482h2V1483h-2z"/>
<path fill="#f23645" d="M590 1480h1V1488h-1zM590 1482h2V1484h-2zM592 1480h1V1491h-1zM592 1484h2V1487h-2zM593 1484h1V1491h-1zM593 1487h2V1489h-2zM594 1486h1V1491h-1zM594 1489h2V1490h-2z"/>
<path fill="#089981" d="M595 1485h1V1492h-1zM595 1490h2V1491h-2zM597 1487h1V1491h-1zM597 1488h2V1490h-2zM598 1467h1V1491h-1zM598 1473h2V1488h-2zM599 1468h1V1483h-1zM599 1472h2V1473h-2zM600 1463h1V1481h-1zM600 1466h2V1472h-2zM602 1462h1V1469h-1zM602 1464h2V1466h-2z"/>
<path fill="#f23645" d="M603 1462h1V1472h-1zM603 1464h2V1466h-2z"/>
<path fill="#089981" d="M604 1462h1V1472h-1zM604 1465h2V1466h-2z"/>
<path fill="#f23645" d="M605 1464h1V1467h-1zM605 1465h2V1467h-2z"/>
<path fill="#089981" d="M607 1462h1V1471h-1zM607 1462h2V1467h-2z"/>
<path fill="#f23645" d="M608 1460h1V1463h-1zM608 1462h2V1463h-2zM609 1462h1V1471h-1zM609 1463h2V1469h-2z"/>
<path fill="#089981" d="M610 1459h1V1472h-1zM610 1465h2V1469h-2zM611 1459h1V1473h-1zM611 1462h2V1465h-2zM613 1458h1V1463h-1zM613 1460h2V1462h-2z"/>
<path fill="#f23645" d="M614 1458h1V1468h-1zM614 1460h2V1461h-2zM615 1458h1V1481h-1zM615 1461h2V1473h-2zM616 1467h1V1491h-1zM616 1473h2V1488h-2zM618 1484h1V1525h-1zM618 1488h2V1509h-2zM619 1506h1V1523h-1zM619 1509h2V1521h-2z"/>
<path fill="#089981" d="M620 1516h1V1526h-1zM620 1520h2V1521h-2zM621 1503h1V1522h-1zM621 1505h2V1520h-2zM623 1513h1V1518h-1zM623 1515h2V1516h-2z"/>
<path fill="#f23645" d="M624 1513h1V1520h-1zM624 1515h2V1520h-2z"/>
<path fill="#089981" d="M625 1515h1V1521h-1zM625 1515h2V1520h-2z"/>
<path fill="#f23645" d="M626 1515h1V1524h-1zM626 1518h2V1522h-2z"/>
<path fill="#089981" d="M628 1518h1V1523h-1zM628 1521h2V1522h-2zM629 1517h1V1527h-1zM629 1518h2V1521h-2z"/>
<path fill="#f23645" d="M630 1517h1V1528h-1zM630 1518h2V1519h-2zM631 1518h1V1531h-1zM631 1519h2V1522h-2zM633 1516h1V1531h-1zM633 1522h2V1529h-2zM634 1527h1V1530h-1zM634 1529h2V1530h-2z"/>
<path fill="#089981" d="M635 1518h1V1531h-1zM635 1524h2V1530h-2zM636 1518h1V1531h-1zM636 1519h2V1524h-2z"/>
<path fill="#f23645" d="M637 1518h1V1529h-1zM637 1519h2V1520h-2zM639 1519h1V1526h-1zM639 1520h2V1522h-2zM640 1519h1V1528h-1zM640 1522h2V1526h-2z"/>
<path fill="#089981" d="M641 1514h1V1527h-1zM641 1525h2V1526h-2zM642 1516h1V1528h-1zM642 1521h2V1525h-2zM644 1513h1V1527h-1zM644 1514h2V1521h-2zM645 1512h1V1519h-1zM645 1514h2V1515h-2zM646 1511h1V1516h-1zM646 1512h2V1514h-2zM647 1511h1V1514h-1zM647 1512h2V1513h-2z"/>
<path fill="#f23645" d="M649 1511h1V1519h-1zM649 1512h2V1514h-2z"/>
<path fill="#089981" d="M650 1511h1V1514h-1zM650 1512h2V1514h-2z"/>
<path fill="#f23645" d="M651 1512h1V1516h-1zM651 1512h2V1514h-2zM652 1512h1V1516h-1zM652 1514h2V1515h-2z"/>
<path fill="#089981" d="M654 1510h1V1515h-1zM654 1512h2V1515h-2z"/>
<path fill="#f23645" d="M655 1508h1V1516h-1zM655 1512h2V1515h-2z"/>
<path fill="#089981" d="M656 1506h1V1516h-1zM656 1512h2V1515h-2z"/>
<path fill="#f23645" d="M657 1511h1V1515h-1zM657 1512h2V1515h-2z"/>
<path fill="#089981" d="M658 1505h1V1516h-1zM658 1507h2V1515h-2z"/>
<path fill="#f23645" d="M660 1505h1V1515h-1zM660 1507h2V1508h-2z"/>
<path fill="#089981" d="M661 1498h1V1510h-1zM661 1500h2V1507h-2z"/>
<path fill="#f23645" d="M662 1498h1V1509h-1zM662 1500h2V1504h-2zM663 1500h1V1514h-1zM663 1504h2V1512h-2zM665 1504h1V1523h-1zM665 1512h2V1519h-2zM666 1510h1V1524h-1zM666 1519h2V1522h-2z"/>
<path fill="#089981" d="M667 1509h1V1524h-1zM667 1521h2V1522h-2z"/>
<path fill="#f23645" d="M668 1515h1V1523h-1zM668 1521h2V1522h-2z"/>
<path fill="#089981" d="M670 1516h1V1523h-1zM670 1521h2V1522h-2zM671 1520h1V1521h-1zM671 1520h2V1521h-2zM672 1516h1V1520h-1zM672 1519h2V1520h-2zM673 1515h1V1520h-1zM673 1516h2V1519h-2z"/>
<path fill="#f23645" d="M675 1514h1V1520h-1zM675 1516h2V1519h-2z"/>
<path fill="#089981" d="M676 1514h1V1522h-1zM676 1515h2V1519h-2z"/>
<path fill="#f23645" d="M677 1515h1V1524h-1zM677 1516h2V1523h-2z"/>
<path fill="#089981" d="M678 1516h1V1526h-1zM678 1516h2V1523h-2z"/>
<path fill="#f23645" d="M680 1516h1V1523h-1zM680 1516h2V1522h-2zM681 1516h1V1526h-1zM681 1522h2V1523h-2z"/>
<path fill="#089981" d="M682 1518h1V1525h-1zM682 1520h2V1523h-2z"/>
<path fill="#f23645" d="M683 1516h1V1524h-1zM683 1520h2V1521h-2zM684 1516h1V1525h-1zM684 1521h2V1523h-2z"/>
<path fill="#089981" d="M686 1516h1V1523h-1zM686 1519h2V1522h-2zM687 1514h1V1522h-1zM687 1515h2V1519h-2z"/>
<path fill="#f23645" d="M688 1513h1V1521h-1zM688 1515h2V1518h-2zM689 1515h1V1520h-1zM689 1518h2V1519h-2z"/>
<path fill="#089981" d="M691 1512h1V1520h-1zM691 1519h2V1520h-2zM692 1501h1V1520h-1zM692 1511h2V1519h-2z"/>
<path fill="#f23645" d="M693 1507h1V1519h-1zM693 1511h2V1517h-2z"/>
<path fill="#089981" d="M694 1511h1V1517h-1zM694 1516h2V1517h-2zM696 1503h1V1515h-1zM696 1504h2V1515h-2zM697 1485h1V1509h-1zM697 1494h2V1504h-2zM698 1475h1V1495h-1zM698 1478h2V1494h-2zM699 1466h1V1486h-1zM699 1476h2V1478h-2zM701 1460h1V1479h-1zM701 1462h2V1476h-2z"/>
<path fill="#f23645" d="M702 1460h1V1468h-1zM702 1462h2V1465h-2z"/>
<path fill="#089981" d="M703 1462h1V1468h-1zM703 1462h2V1465h-2z"/>
<path fill="#f23645" d="M704 1459h1V1469h-1zM704 1462h2V1464h-2z"/>
<path fill="#089981" d="M706 1450h1V1466h-1zM706 1460h2V1464h-2zM707 1439h1V1464h-1zM707 1450h2V1460h-2zM708 1434h1V1455h-1zM708 1437h2V1450h-2zM709 1435h1V1443h-1zM709 1435h2V1437h-2z"/>
<path fill="#f23645" d="M710 1435h1V1445h-1zM710 1435h2V1443h-2z"/>
<path fill="#089981" d="M712 1440h1V1444h-1zM712 1441h2V1443h-2z"/>
<path fill="#f23645" d="M713 1438h1V1446h-1zM713 1441h2V1442h-2zM714 1436h1V1444h-1zM714 1442h2V1443h-2z"/>
<path fill="#089981" d="M715 1431h1V1444h-1zM715 1439h2V1443h-2zM717 1433h1V1439h-1zM717 1433h2V1439h-2z"/>
<path fill="#f23645" d="M718 1431h1V1442h-1zM718 1433h2V1441h-2z"/>
<path fill="#089981" d="M719 1438h1V1442h-1zM719 1439h2V1441h-2zM720 1433h1V1439h-1zM720 1439h2V1440h-2zM722 1427h1V1441h-1zM722 1427h2V1439h-2zM723 1424h1V1428h-1zM723 1425h2V1427h-2zM724 1422h1V1429h-1zM724 1424h2V1425h-2z"/>
<path fill="#f23645" d="M725 1423h1V1438h-1zM725 1424h2V1437h-2zM727 1432h1V1441h-1zM727 1439h2V1440h-2z"/>
<path fill="#089981" d="M728 1429h1V1441h-1zM728 1430h2V1440h-2zM729 1432h1V1449h-1zM729 1432h2V1433h-2zM730 1432h1V1434h-1zM730 1432h2V1433h-2z"/>
<path fill="#f23645" d="M731 1435h1V1456h-1zM731 1436h2V1450h-2zM733 1441h1V1452h-1zM733 1450h2V1451h-2zM734 1446h1V1458h-1zM734 1451h2V1455h-2z"/>
<path fill="#089981" d="M735 1452h1V1458h-1zM735 1454h2V1455h-2z"/>
<path fill="#f23645" d="M736 1447h1V1459h-1zM736 1454h2V1455h-2z"/>
<path fill="#089981" d="M738 1432h1V1458h-1zM738 1442h2V1455h-2zM739 1426h1V1447h-1zM739 1437h2V1442h-2zM740 1409h1V1446h-1zM740 1413h2V1437h-2zM741 1409h1V1417h-1zM741 1412h2V1413h-2z"/>
<path fill="#f23645" d="M743 1408h1V1424h-1zM743 1412h2V1414h-2zM744 1409h1V1420h-1zM744 1414h2V1416h-2z"/>
<path fill="#089981" d="M745 1415h1V1422h-1zM745 1416h2V1417h-2z"/>
<path fill="#f23645" d="M746 1415h1V1425h-1zM746 1416h2V1417h-2zM748 1416h1V1431h-1zM748 1417h2V1426h-2zM749 1425h1V1440h-1zM749 1426h2V1429h-2zM750 1421h1V1444h-1zM750 1429h2V1441h-2z"/>
<path fill="#089981" d="M751 1438h1V1442h-1zM751 1440h2V1441h-2zM753 1426h1V1442h-1zM753 1432h2V1440h-2zM754 1426h1V1437h-1zM754 1427h2V1432h-2z"/>
<path fill="#f23645" d="M755 1427h1V1442h-1zM755 1427h2V1428h-2zM756 1427h1V1436h-1zM756 1427h2V1429h-2zM757 1425h1V1438h-1zM757 1429h2V1436h-2zM759 1431h1V1450h-1zM759 1436h2V1445h-2zM760 1438h1V1450h-1zM760 1445h2V1449h-2zM761 1441h1V1451h-1zM761 1450h2V1451h-2zM762 1446h1V1461h-1zM762 1450h2V1456h-2z"/>
<path fill="#089981" d="M764 1445h1V1467h-1zM764 1446h2V1456h-2z"/>
<path fill="#f23645" d="M765 1445h1V1458h-1zM765 1446h2V1454h-2zM766 1445h1V1481h-1zM766 1454h2V1475h-2z"/>
<path fill="#089981" d="M767 1469h1V1476h-1zM767 1469h2V1475h-2zM769 1449h1V1480h-1zM769 1466h2V1469h-2zM770 1441h1V1467h-1zM770 1458h2V1466h-2zM771 1441h1V1469h-1zM771 1449h2V1458h-2zM772 1433h1V1451h-1zM772 1437h2V1449h-2zM774 1415h1V1440h-1zM774 1416h2V1437h-2zM775 1390h1V1431h-1zM775 1399h2V1416h-2zM776 1375h1V1415h-1zM776 1379h2V1399h-2zM777 1376h1V1379h-1zM777 1378h2V1379h-2zM778 1368h1V1386h-1zM778 1369h2V1378h-2z"/>
<path fill="#f23645" d="M780 1362h1V1374h-1zM780 1363h2V1372h-2zM781 1366h1V1382h-1zM781 1372h2V1382h-2z"/>
<path fill="#089981" d="M782 1370h1V1383h-1zM782 1373h2V1382h-2zM783 1355h1V1376h-1zM783 1362h2V1373h-2z"/>
<path fill="#f23645" d="M785 1357h1V1380h-1zM785 1362h2V1365h-2zM786 1358h1V1374h-1zM786 1365h2V1368h-2zM787 1362h1V1388h-1zM787 1368h2V1381h-2zM788 1376h1V1390h-1zM788 1381h2V1388h-2z"/>
<path fill="#089981" d="M790 1372h1V1390h-1zM790 1380h2V1388h-2zM791 1368h1V1380h-1zM791 1372h2V1380h-2zM792 1363h1V1380h-1zM792 1365h2V1372h-2zM793 1362h1V1369h-1zM793 1363h2V1365h-2z"/>
<path fill="#f23645" d="M795 1363h1V1377h-1zM795 1363h2V1371h-2zM796 1363h1V1376h-1zM796 1371h2V1375h-2z"/>
<path fill="#089981" d="M797 1369h1V1375h-1zM797 1370h2V1375h-2z"/>
<path fill="#f23645" d="M798 1369h1V1374h-1zM798 1370h2V1371h-2zM800 1368h1V1375h-1zM800 1371h2V1374h-2z"/>
<path fill="#089981" d="M801 1368h1V1375h-1zM801 1369h2V1374h-2z"/>
<path fill="#f23645" d="M802 1367h1V1375h-1zM802 1367h2V1375h-2z"/>
<path fill="#089981" d="M803 1370h1V1377h-1zM803 1375h2V1376h-2zM804 1352h1V1376h-1zM804 1362h2V1375h-2zM806 1346h1V1376h-1zM806 1354h2V1362h-2zM807 1337h1V1363h-1zM807 1346h2V1354h-2z"/>
<path fill="#f23645" d="M808 1340h1V1354h-1zM808 1346h2V1350h-2z"/>
<path fill="#089981" d="M809 1334h1V1351h-1zM809 1341h2V1350h-2z"/>
<path fill="#f23645" d="M811 1336h1V1347h-1zM811 1341h2V1342h-2z"/>
<path fill="#089981" d="M812 1335h1V1344h-1zM812 1337h2V1341h-2z"/>
<path fill="#f23645" d="M813 1336h1V1343h-1zM813 1337h2V1343h-2zM814 1335h1V1356h-1zM814 1343h2V1345h-2z"/>
<path fill="#089981" d="M816 1344h1V1356h-1zM816 1344h2V1345h-2z"/>
<path fill="#f23645" d="M817 1343h1V1369h-1zM817 1344h2V1365h-2zM818 1364h1V1375h-1zM818 1365h2V1371h-2z"/>
<path fill="#089981" d="M819 1361h1V1383h-1zM819 1369h2V1371h-2z"/>
<path fill="#f23645" d="M821 1366h1V1383h-1zM821 1369h2V1383h-2z"/>
<path fill="#089981" d="M822 1378h1V1384h-1zM822 1381h2V1383h-2z"/>
<path fill="#f23645" d="M823 1375h1V1384h-1zM823 1381h2V1383h-2z"/>
<path fill="#089981" d="M824 1364h1V1385h-1zM824 1373h2V1383h-2zM826 1348h1V1373h-1zM826 1351h2V1373h-2zM827 1349h1V1359h-1zM827 1351h2V1352h-2z"/>
<path fill="#f23645" d="M828 1347h1V1363h-1zM828 1351h2V1360h-2z"/>
<path fill="#089981" d="M829 1352h1V1371h-1zM829 1353h2V1360h-2z"/>
<path fill="#f23645" d="M830 1353h1V1363h-1zM830 1353h2V1355h-2zM832 1354h1V1366h-1zM832 1355h2V1358h-2zM833 1352h1V1365h-1zM833 1358h2V1364h-2zM834 1361h1V1372h-1zM834 1364h2V1367h-2z"/>
<path fill="#089981" d="M835 1360h1V1372h-1zM835 1367h2V1368h-2zM837 1354h1V1373h-1zM837 1356h2V1367h-2z"/>
<path fill="#f23645" d="M838 1354h1V1377h-1zM838 1356h2V1360h-2zM839 1352h1V1375h-1zM839 1360h2V1373h-2z"/>
<path fill="#089981" d="M840 1358h1V1374h-1zM840 1367h2V1373h-2z"/>
<path fill="#f23645" d="M842 1367h1V1377h-1zM842 1367h2V1373h-2zM843 1364h1V1389h-1zM843 1373h2V1384h-2zM844 1375h1V1392h-1zM844 1384h2V1391h-2z"/>
<path fill="#089981" d="M845 1388h1V1396h-1zM845 1390h2V1391h-2zM847 1379h1V1397h-1zM847 1386h2V1390h-2z"/>
<path fill="#f23645" d="M848 1379h1V1390h-1zM848 1386h2V1387h-2z"/>
<path fill="#089981" d="M849 1379h1V1397h-1zM849 1382h2V1387h-2zM850 1379h1V1384h-1zM850 1380h2V1382h-2z"/>
<path fill="#f23645" d="M851 1378h1V1389h-1zM851 1380h2V1384h-2zM853 1382h1V1388h-1zM853 1384h2V1385h-2zM854 1383h1V1389h-1zM854 1384h2V1388h-2z"/>
<path fill="#089981" d="M855 1383h1V1389h-1zM855 1386h2V1388h-2zM856 1384h1V1395h-1zM856 1385h2V1386h-2zM858 1384h1V1386h-1zM858 1385h2V1386h-2z"/>
<path fill="#f23645" d="M859 1381h1V1401h-1zM859 1385h2V1395h-2zM860 1393h1V1401h-1zM860 1395h2V1399h-2z"/>
<path fill="#089981" d="M861 1381h1V1400h-1zM861 1394h2V1399h-2zM863 1392h1V1398h-1zM863 1393h2V1394h-2zM864 1376h1V1399h-1zM864 1380h2V1393h-2zM865 1371h1V1380h-1zM865 1377h2V1380h-2zM866 1369h1V1382h-1zM866 1374h2V1377h-2z"/>
<path fill="#f23645" d="M868 1373h1V1382h-1zM868 1374h2V1381h-2z"/>
<path fill="#089981" d="M869 1374h1V1389h-1zM869 1377h2V1381h-2z"/>
<path fill="#f23645" d="M870 1372h1V1383h-1zM870 1377h2V1382h-2zM871 1380h1V1389h-1zM871 1382h2V1385h-2z"/>
<path fill="#089981" d="M873 1379h1V1391h-1zM873 1380h2V1385h-2z"/>
<path fill="#f23645" d="M874 1380h1V1389h-1zM874 1380h2V1386h-2z"/>
<path fill="#089981" d="M875 1381h1V1398h-1zM875 1382h2V1386h-2z"/>
<path fill="#f23645" d="M876 1382h1V1400h-1zM876 1382h2V1392h-2zM877 1389h1V1405h-1zM877 1392h2V1397h-2z"/>
<path fill="#089981" d="M879 1389h1V1398h-1zM879 1391h2V1397h-2z"/>
<path fill="#f23645" d="M880 1384h1V1399h-1zM880 1391h2V1397h-2zM881 1395h1V1402h-1zM881 1397h2V1398h-2z"/>
<path fill="#089981" d="M882 1393h1V1403h-1zM882 1396h2V1397h-2z"/>
<path fill="#f23645" d="M884 1393h1V1411h-1zM884 1396h2V1404h-2z"/>
<path fill="#089981" d="M885 1395h1V1411h-1zM885 1403h2V1404h-2z"/>
<path fill="#f23645" d="M886 1398h1V1408h-1zM886 1403h2V1406h-2zM887 1393h1V1413h-1zM887 1406h2V1411h-2z"/>
<path fill="#089981" d="M889 1385h1V1414h-1zM889 1392h2V1411h-2zM890 1389h1V1394h-1zM890 1390h2V1392h-2zM891 1389h1V1398h-1zM891 1390h2V1391h-2z"/>
<path fill="#f23645" d="M892 1381h1V1392h-1zM892 1390h2V1391h-2z"/>
<path fill="#089981" d="M894 1363h1V1392h-1zM894 1374h2V1390h-2zM895 1351h1V1375h-1zM895 1362h2V1374h-2zM896 1333h1V1364h-1zM896 1339h2V1362h-2zM897 1334h1V1346h-1zM897 1339h2V1340h-2z"/>
<path fill="#f23645" d="M898 1332h1V1345h-1zM898 1339h2V1342h-2z"/>
<path fill="#089981" d="M900 1332h1V1345h-1zM900 1334h2V1342h-2z"/>
<path fill="#f23645" d="M901 1331h1V1348h-1zM901 1334h2V1347h-2z"/>
<path fill="#089981" d="M902 1335h1V1349h-1zM902 1341h2V1347h-2z"/>
<path fill="#f23645" d="M903 1339h1V1346h-1zM903 1341h2V1344h-2z"/>
<path fill="#089981" d="M905 1338h1V1348h-1zM905 1342h2V1344h-2z"/>
<path fill="#f23645" d="M906 1341h1V1348h-1zM906 1342h2V1344h-2z"/>
<path fill="#089981" d="M907 1332h1V1347h-1zM907 1333h2V1344h-2zM908 1331h1V1339h-1zM908 1333h2V1334h-2z"/>
<path fill="#f23645" d="M910 1332h1V1340h-1zM910 1333h2V1338h-2z"/>
<path fill="#089981" d="M911 1338h1V1347h-1zM911 1338h2V1339h-2z"/>
<path fill="#f23645" d="M912 1332h1V1345h-1zM912 1338h2V1341h-2zM913 1339h1V1349h-1zM913 1341h2V1347h-2z"/>
<path fill="#089981" d="M915 1334h1V1348h-1zM915 1346h2V1347h-2zM916 1339h1V1347h-1zM916 1345h2V1346h-2z"/>
<path fill="#f23645" d="M917 1335h1V1347h-1zM917 1345h2V1347h-2z"/>
<path fill="#089981" d="M918 1340h1V1347h-1zM918 1343h2V1347h-2z"/>
<path fill="#f23645" d="M920 1338h1V1346h-1zM920 1343h2V1344h-2z"/>
<path fill="#089981" d="M921 1323h1V1344h-1zM921 1327h2V1344h-2zM922 1326h1V1333h-1zM922 1326h2V1327h-2zM923 1326h1V1332h-1zM923 1326h2V1327h-2z"/>
<path fill="#f23645" d="M924 1325h1V1350h-1zM924 1326h2V1347h-2z"/>
<path fill="#089981" d="M926 1336h1V1348h-1zM926 1344h2V1347h-2z"/>
<path fill="#f23645" d="M927 1341h1V1350h-1zM927 1344h2V1350h-2z"/>
<path fill="#089981" d="M928 1344h1V1352h-1zM928 1350h2V1351h-2zM929 1344h1V1351h-1zM929 1347h2V1350h-2zM931 1344h1V1349h-1zM931 1345h2V1347h-2zM932 1343h1V1347h-1zM932 1344h2V1345h-2z"/>
<path fill="#f23645" d="M933 1343h1V1348h-1zM933 1344h2V1346h-2zM934 1343h1V1354h-1zM934 1346h2V1350h-2zM936 1348h1V1359h-1zM936 1350h2V1358h-2z"/>
<path fill="#089981" d="M937 1350h1V1359h-1zM937 1356h2V1358h-2zM938 1352h1V1358h-1zM938 1356h2V1357h-2zM939 1351h1V1357h-1zM939 1354h2V1356h-2z"/>
<path fill="#f23645" d="M941 1352h1V1358h-1zM941 1354h2V1357h-2z"/>
<path fill="#089981" d="M942 1354h1V1362h-1zM942 1356h2V1358h-2zM943 1352h1V1362h-1zM943 1355h2V1356h-2z"/>
<path fill="#f23645" d="M944 1352h1V1362h-1zM944 1355h2V1360h-2z"/>
<path fill="#089981" d="M946 1351h1V1361h-1zM946 1359h2V1360h-2zM947 1354h1V1361h-1zM947 1356h2V1359h-2z"/>
<path fill="#f23645" d="M948 1354h1V1362h-1zM948 1355h2V1361h-2z"/>
<path fill="#089981" d="M949 1360h1V1362h-1zM949 1361h2V1362h-2zM950 1351h1V1361h-1zM950 1353h2V1361h-2z"/>
<path fill="#f23645" d="M952 1349h1V1361h-1zM952 1353h2V1358h-2z"/>
<path fill="#089981" d="M953 1346h1V1361h-1zM953 1352h2V1358h-2zM954 1346h1V1356h-1zM954 1347h2V1352h-2z"/>
<path fill="#f23645" d="M955 1345h1V1357h-1zM955 1347h2V1355h-2z"/>
<path fill="#089981" d="M957 1352h1V1356h-1zM957 1353h2V1356h-2z"/>
<path fill="#f23645" d="M958 1351h1V1357h-1zM958 1353h2V1357h-2z"/>
<path fill="#089981" d="M959 1350h1V1357h-1zM959 1355h2V1357h-2zM960 1352h1V1357h-1zM960 1354h2V1355h-2zM962 1351h1V1370h-1zM962 1352h2V1354h-2z"/>
<path fill="#f23645" d="M963 1351h1V1369h-1zM963 1353h2V1363h-2zM964 1362h1V1382h-1zM964 1363h2V1364h-2zM965 1362h1V1382h-1zM965 1364h2V1378h-2zM967 1366h1V1403h-1zM967 1378h2V1402h-2z"/>
<path fill="#089981" d="M968 1385h1V1403h-1zM968 1400h2V1402h-2z"/>
<path fill="#f23645" d="M969 1398h1V1403h-1zM969 1400h2V1402h-2z"/>
<path fill="#089981" d="M970 1392h1V1402h-1zM970 1396h2V1402h-2zM971 1392h1V1398h-1zM971 1396h2V1397h-2zM973 1391h1V1400h-1zM973 1392h2V1396h-2z"/>
<path fill="#f23645" d="M974 1391h1V1397h-1zM974 1392h2V1393h-2zM975 1391h1V1403h-1zM975 1393h2V1399h-2zM976 1398h1V1401h-1zM976 1399h2V1401h-2z"/>
<path fill="#089981" d="M978 1386h1V1402h-1zM978 1395h2V1401h-2zM979 1386h1V1402h-1zM979 1387h2V1395h-2zM980 1379h1V1392h-1zM980 1386h2V1387h-2zM981 1384h1V1395h-1zM981 1385h2V1386h-2z"/>
<path fill="#f23645" d="M983 1383h1V1403h-1zM983 1385h2V1402h-2z"/>
<path fill="#089981" d="M984 1401h1V1403h-1zM984 1402h2V1403h-2zM985 1395h1V1404h-1zM985 1401h2V1402h-2z"/>
<path fill="#f23645" d="M986 1398h1V1404h-1zM986 1401h2V1403h-2z"/>
<path fill="#089981" d="M988 1399h1V1405h-1zM988 1399h2V1403h-2z"/>
<path fill="#f23645" d="M989 1399h1V1404h-1zM989 1399h2V1402h-2z"/>
<path fill="#089981" d="M990 1399h1V1404h-1zM990 1401h2V1402h-2z"/>
<path fill="#f23645" d="M991 1397h1V1404h-1zM991 1401h2V1402h-2zM993 1398h1V1411h-1zM993 1402h2V1406h-2zM994 1403h1V1411h-1zM994 1406h2V1410h-2z"/>
<path fill="#089981" d="M995 1396h1V1412h-1zM995 1398h2V1410h-2z"/>
<path fill="#f23645" d="M996 1395h1V1409h-1zM996 1398h2V1405h-2zM997 1403h1V1407h-1zM997 1405h2V1406h-2z"/>
<path fill="#089981" d="M999 1389h1V1411h-1zM999 1393h2V1406h-2z"/>
<path fill="#f23645" d="M1000 1387h1V1411h-1zM1000 1393h2V1396h-2z"/>
<path fill="#089981" d="M1001 1394h1V1398h-1zM1001 1395h2V1396h-2zM1002 1385h1V1397h-1zM1002 1390h2V1395h-2z"/>
<path fill="#f23645" d="M1004 1389h1V1398h-1zM1004 1390h2V1391h-2z"/>
<path fill="#089981" d="M1005 1380h1V1394h-1zM1005 1381h2V1391h-2z"/>
<path fill="#f23645" d="M1006 1381h1V1389h-1zM1006 1381h2V1386h-2z"/>
<path fill="#089981" d="M1007 1380h1V1387h-1zM1007 1381h2V1386h-2z"/>
<path fill="#f23645" d="M1009 1379h1V1390h-1zM1009 1381h2V1385h-2zM1010 1381h1V1394h-1zM1010 1385h2V1389h-2zM1011 1386h1V1393h-1zM1011 1389h2V1391h-2zM1012 1389h1V1399h-1zM1012 1391h2V1398h-2z"/>
<path fill="#089981" d="M1014 1391h1V1399h-1zM1014 1396h2V1398h-2zM1015 1389h1V1398h-1zM1015 1394h2V1396h-2z"/>
<path fill="#f23645" d="M1016 1391h1V1398h-1zM1016 1394h2V1395h-2zM1017 1386h1V1400h-1zM1017 1395h2V1397h-2z"/>
<path fill="#089981" d="M1018 1379h1V1399h-1zM1018 1387h2V1397h-2zM1020 1377h1V1392h-1zM1020 1383h2V1387h-2zM1021 1379h1V1386h-1zM1021 1381h2V1383h-2zM1022 1369h1V1384h-1zM1022 1372h2V1381h-2zM1023 1368h1V1372h-1zM1023 1369h2V1372h-2z"/>
<path fill="#f23645" d="M1025 1368h1V1384h-1zM1025 1369h2V1383h-2z"/>
<path fill="#089981" d="M1026 1383h1V1385h-1zM1026 1383h2V1384h-2zM1027 1370h1V1384h-1zM1027 1371h2V1383h-2z"/>
<path fill="#f23645" d="M1028 1371h1V1381h-1zM1028 1371h2V1373h-2zM1030 1372h1V1382h-1zM1030 1373h2V1379h-2zM1031 1377h1V1393h-1zM1031 1379h2V1384h-2zM1032 1371h1V1386h-1zM1032 1384h2V1386h-2z"/>
<path fill="#089981" d="M1033 1377h1V1388h-1zM1033 1385h2V1386h-2zM1035 1380h1V1386h-1zM1035 1385h2V1386h-2z"/>
<path fill="#f23645" d="M1036 1374h1V1393h-1zM1036 1385h2V1390h-2zM1037 1388h1V1394h-1zM1037 1390h2V1391h-2z"/>
<path fill="#089981" d="M1038 1372h1V1393h-1zM1038 1376h2V1390h-2zM1040 1365h1V1377h-1zM1040 1366h2V1376h-2z"/>
<path fill="#f23645" d="M1041 1359h1V1368h-1zM1041 1366h2V1367h-2z"/>
<path fill="#089981" d="M1042 1357h1V1370h-1zM1042 1359h2V1367h-2zM1043 1354h1V1362h-1zM1043 1359h2V1360h-2zM1044 1339h1V1367h-1zM1044 1351h2V1359h-2zM1046 1349h1V1354h-1zM1046 1350h2V1351h-2zM1047 1341h1V1355h-1zM1047 1341h2V1350h-2zM1048 1317h1V1342h-1zM1048 1319h2V1341h-2zM1049 1283h1V1328h-1zM1049 1293h2V1319h-2zM1051 1283h1V1301h-1zM1051 1286h2V1293h-2z"/>
<path fill="#f23645" d="M1052 1283h1V1299h-1zM1052 1286h2V1290h-2zM1053 1289h1V1299h-1zM1053 1290h2V1298h-2zM1054 1290h1V1300h-1zM1054 1298h2V1299h-2z"/>
<path fill="#089981" d="M1056 1296h1V1300h-1zM1056 1299h2V1300h-2zM1057 1298h1V1302h-1zM1057 1298h2V1299h-2zM1058 1279h1V1296h-1zM1058 1281h2V1295h-2zM1059 1273h1V1286h-1zM1059 1276h2V1281h-2zM1061 1271h1V1282h-1zM1061 1272h2V1276h-2z"/>
<path fill="#f23645" d="M1062 1270h1V1292h-1zM1062 1272h2V1289h-2z"/>
<path fill="#089981" d="M1063 1272h1V1289h-1zM1063 1283h2V1289h-2zM1064 1273h1V1285h-1zM1064 1283h2V1284h-2zM1066 1279h1V1291h-1zM1066 1282h2V1283h-2zM1067 1270h1V1290h-1zM1067 1271h2V1282h-2zM1068 1263h1V1282h-1zM1068 1267h2V1271h-2zM1069 1247h1V1279h-1zM1069 1252h2V1267h-2zM1070 1245h1V1261h-1zM1070 1247h2V1252h-2z"/>
<path fill="#f23645" d="M1072 1246h1V1261h-1zM1072 1247h2V1257h-2zM1073 1247h1V1269h-1zM1073 1257h2V1266h-2z"/>
<path fill="#089981" d="M1074 1259h1V1271h-1zM1074 1259h2V1266h-2z"/>
<path fill="#f23645" d="M1075 1252h1V1280h-1zM1075 1259h2V1278h-2z"/>
<path fill="#089981" d="M1077 1255h1V1279h-1zM1077 1268h2V1278h-2zM1078 1252h1V1279h-1zM1078 1257h2V1268h-2z"/>
<path fill="#f23645" d="M1079 1252h1V1267h-1zM1079 1257h2V1262h-2zM1080 1254h1V1269h-1zM1080 1262h2V1267h-2z"/>
<path fill="#089981" d="M1082 1257h1V1268h-1zM1082 1263h2V1267h-2z"/>
<path fill="#f23645" d="M1083 1254h1V1267h-1zM1083 1263h2V1266h-2z"/>
<path fill="#089981" d="M1084 1253h1V1267h-1zM1084 1258h2V1266h-2z"/>
<path fill="#f23645" d="M1085 1247h1V1262h-1zM1085 1258h2V1259h-2z"/>
<path fill="#089981" d="M1087 1248h1V1263h-1zM1087 1248h2V1259h-2z"/>
<path fill="#f23645" d="M1088 1247h1V1255h-1zM1088 1248h2V1249h-2zM1089 1247h1V1259h-1zM1089 1249h2V1259h-2z"/>
<path fill="#089981" d="M1090 1241h1V1259h-1zM1090 1257h2V1259h-2zM1091 1250h1V1260h-1zM1091 1256h2V1257h-2zM1093 1233h1V1260h-1zM1093 1246h2V1256h-2zM1094 1238h1V1259h-1zM1094 1242h2V1246h-2zM1095 1224h1V1248h-1zM1095 1241h2V1242h-2zM1096 1236h1V1244h-1zM1096 1240h2V1241h-2zM1098 1219h1V1246h-1zM1098 1230h2V1240h-2zM1099 1213h1V1238h-1zM1099 1220h2V1230h-2zM1100 1193h1V1234h-1zM1100 1202h2V1220h-2zM1101 1180h1V1203h-1zM1101 1193h2V1202h-2zM1103 1160h1V1193h-1zM1103 1161h2V1193h-2zM1104 1160h1V1172h-1zM1104 1161h2V1162h-2z"/>
<path fill="#f23645" d="M1105 1160h1V1178h-1zM1105 1161h2V1170h-2z"/>
<path fill="#089981" d="M1106 1165h1V1177h-1zM1106 1169h2V1170h-2z"/>
<path fill="#f23645" d="M1108 1162h1V1188h-1zM1108 1169h2V1173h-2zM1109 1166h1V1183h-1zM1109 1173h2V1177h-2zM1110 1169h1V1189h-1zM1110 1177h2V1185h-2zM1111 1181h1V1202h-1zM1111 1185h2V1196h-2zM1113 1186h1V1204h-1zM1113 1196h2V1202h-2z"/>
<path fill="#089981" d="M1114 1183h1V1203h-1zM1114 1191h2V1202h-2z"/>
<path fill="#f23645" d="M1115 1181h1V1202h-1zM1115 1191h2V1196h-2z"/>
<path fill="#089981" d="M1116 1189h1V1202h-1zM1116 1192h2V1196h-2zM1117 1169h1V1195h-1zM1117 1179h2V1192h-2z"/>
<path fill="#f23645" d="M1119 1175h1V1194h-1zM1119 1179h2V1180h-2z"/>
<path fill="#089981" d="M1120 1162h1V1192h-1zM1120 1164h2V1179h-2z"/>
<path fill="#f23645" d="M1121 1163h1V1174h-1zM1121 1164h2V1165h-2zM1122 1162h1V1175h-1zM1122 1165h2V1174h-2zM1124 1167h1V1176h-1zM1124 1174h2V1176h-2z"/>
<path fill="#089981" d="M1125 1168h1V1179h-1zM1125 1170h2V1178h-2z"/>
<path fill="#f23645" d="M1126 1170h1V1177h-1zM1126 1170h2V1177h-2z"/>
<path fill="#089981" d="M1127 1170h1V1200h-1zM1127 1172h2V1177h-2z"/>
<path fill="#f23645" d="M1129 1170h1V1194h-1zM1129 1172h2V1189h-2z"/>
<path fill="#089981" d="M1130 1180h1V1199h-1zM1130 1180h2V1189h-2z"/>
<path fill="#f23645" d="M1131 1174h1V1201h-1zM1131 1180h2V1199h-2z"/>
<path fill="#089981" d="M1132 1181h1V1201h-1zM1132 1189h2V1199h-2zM1134 1164h1V1201h-1zM1134 1182h2V1189h-2zM1135 1163h1V1193h-1zM1135 1176h2V1182h-2zM1136 1144h1V1183h-1zM1136 1147h2V1176h-2z"/>
<path fill="#f23645" d="M1137 1142h1V1164h-1zM1137 1147h2V1154h-2zM1138 1147h1V1176h-1zM1138 1154h2V1167h-2zM1140 1159h1V1175h-1zM1140 1167h2V1168h-2zM1141 1151h1V1171h-1zM1141 1168h2V1169h-2zM1142 1157h1V1176h-1zM1142 1168h2V1172h-2z"/>
<path fill="#089981" d="M1143 1116h1V1178h-1zM1143 1137h2V1172h-2zM1145 1101h1V1145h-1zM1145 1108h2V1137h-2z"/>
<path fill="#f23645" d="M1146 1103h1V1131h-1zM1146 1108h2V1116h-2z"/>
<path fill="#089981" d="M1147 1100h1V1123h-1zM1147 1103h2V1116h-2z"/>
<path fill="#f23645" d="M1148 1101h1V1165h-1zM1148 1103h2V1153h-2zM1150 1153h1V1166h-1zM1150 1153h2V1163h-2zM1151 1160h1V1184h-1zM1151 1163h2V1182h-2zM1152 1160h1V1185h-1zM1152 1182h2V1183h-2z"/>
<path fill="#089981" d="M1153 1174h1V1188h-1zM1153 1178h2V1186h-2zM1155 1174h1V1180h-1zM1155 1175h2V1178h-2z"/>
<path fill="#f23645" d="M1156 1173h1V1188h-1zM1156 1175h2V1176h-2zM1157 1174h1V1204h-1zM1157 1176h2V1197h-2zM1158 1197h1V1210h-1zM1158 1197h2V1201h-2z"/>
<path fill="#089981" d="M1160 1189h1V1204h-1zM1160 1199h2V1201h-2z"/>
<path fill="#f23645" d="M1161 1193h1V1218h-1zM1161 1199h2V1216h-2zM1162 1211h1V1229h-1zM1162 1216h2V1227h-2z"/>
<path fill="#089981" d="M1163 1204h1V1230h-1zM1163 1223h2V1227h-2zM1164 1197h1V1229h-1zM1164 1201h2V1223h-2z"/>
<path fill="#f23645" d="M1166 1200h1V1209h-1zM1166 1201h2V1203h-2z"/>
<path fill="#089981" d="M1167 1183h1V1212h-1zM1167 1200h2V1203h-2zM1168 1188h1V1210h-1zM1168 1191h2V1200h-2zM1169 1176h1V1201h-1zM1169 1185h2V1191h-2zM1171 1167h1V1190h-1zM1171 1169h2V1185h-2z"/>
<path fill="#f23645" d="M1172 1168h1V1181h-1zM1172 1169h2V1175h-2zM1173 1173h1V1183h-1zM1173 1175h2V1180h-2zM1174 1177h1V1186h-1zM1174 1180h2V1183h-2z"/>
<path fill="#089981" d="M1176 1172h1V1186h-1zM1176 1176h2V1183h-2z"/>
<path fill="#f23645" d="M1177 1172h1V1184h-1zM1177 1176h2V1179h-2zM1178 1172h1V1182h-1zM1178 1179h2V1180h-2z"/>
<path fill="#089981" d="M1179 1174h1V1183h-1zM1179 1179h2V1180h-2zM1181 1154h1V1181h-1zM1181 1160h2V1179h-2zM1182 1139h1V1168h-1zM1182 1148h2V1160h-2zM1183 1110h1V1150h-1zM1183 1113h2V1148h-2z"/>
<path fill="#f23645" d="M1184 1106h1V1143h-1zM1184 1113h2V1117h-2z"/>
<path fill="#089981" d="M1186 1087h1V1121h-1zM1186 1110h2V1117h-2zM1187 1091h1V1121h-1zM1187 1105h2V1110h-2zM1188 1087h1V1112h-1zM1188 1090h2V1105h-2zM1189 1063h1V1105h-1zM1189 1063h2V1090h-2z"/>
<path fill="#f23645" d="M1190 1054h1V1076h-1zM1190 1063h2V1069h-2z"/>
<path fill="#089981" d="M1192 1061h1V1080h-1zM1192 1061h2V1069h-2zM1193 1049h1V1067h-1zM1193 1053h2V1061h-2z"/>
<path fill="#f23645" d="M1194 1050h1V1058h-1zM1194 1053h2V1056h-2zM1195 1051h1V1067h-1zM1195 1056h2V1060h-2z"/>
<path fill="#089981" d="M1197 1053h1V1064h-1zM1197 1053h2V1060h-2z"/>
<path fill="#f23645" d="M1198 1050h1V1082h-1zM1198 1053h2V1070h-2zM1199 1051h1V1084h-1zM1199 1070h2V1081h-2zM1200 1080h1V1083h-1zM1200 1081h2V1082h-2z"/>
<path fill="#089981" d="M1202 1057h1V1082h-1zM1202 1072h2V1081h-2zM1203 1048h1V1083h-1zM1203 1049h2V1072h-2zM1204 1018h1V1062h-1zM1204 1039h2V1049h-2zM1205 999h1V1047h-1zM1205 1008h2V1039h-2zM1207 940h1V1040h-1zM1207 965h2V1008h-2zM1208 911h1V984h-1zM1208 913h2V965h-2z"/>
<path fill="#f23645" d="M1209 911h1V943h-1zM1209 913h2V927h-2zM1210 903h1V941h-1zM1210 927h2V932h-2z"/>
<path fill="#089981" d="M1211 902h1V939h-1zM1211 911h2V932h-2zM1213 882h1V926h-1zM1213 888h2V911h-2zM1214 839h1V967h-1zM1214 841h2V888h-2zM1215 838h1V845h-1zM1215 841h2V842h-2zM1216 826h1V874h-1zM1216 839h2V840h-2z"/>
<path fill="#f23645" d="M1218 828h1V866h-1zM1218 839h2V854h-2z"/>
<path fill="#089981" d="M1219 809h1V854h-1zM1219 827h2V853h-2z"/>
<path fill="#f23645" d="M1220 794h1V834h-1zM1220 827h2V834h-2z"/>
<path fill="#089981" d="M1221 792h1V853h-1zM1221 804h2V834h-2zM1223 783h1V818h-1zM1223 802h2V804h-2z"/>
<path fill="#f23645" d="M1224 796h1V839h-1zM1224 802h2V804h-2z"/>
<path fill="#089981" d="M1225 783h1V839h-1zM1225 789h2V804h-2z"/>
<path fill="#f23645" d="M1226 782h1V839h-1zM1226 789h2V817h-2zM1228 817h1V874h-1zM1228 817h2V854h-2zM1229 824h1V897h-1zM1229 854h2V876h-2zM1230 874h1V926h-1zM1230 876h2V895h-2zM1231 875h1V943h-1zM1231 895h2V930h-2z"/>
<path fill="#089981" d="M1233 888h1V942h-1zM1233 905h2V930h-2zM1234 862h1V928h-1zM1234 869h2V905h-2z"/>
<path fill="#f23645" d="M1235 868h1V905h-1zM1235 869h2V899h-2zM1236 875h1V929h-1zM1236 899h2V925h-2z"/>
<path fill="#089981" d="M1237 880h1V928h-1zM1237 882h2V925h-2zM1239 852h1V890h-1zM1239 853h2V882h-2zM1240 811h1V897h-1zM1240 831h2V853h-2zM1241 810h1V847h-1zM1241 813h2V831h-2z"/>
<path fill="#f23645" d="M1242 811h1V831h-1zM1242 813h2V824h-2zM1244 815h1V834h-1zM1244 824h2V828h-2z"/>
<path fill="#089981" d="M1245 809h1V829h-1zM1245 821h2V828h-2zM1246 813h1V832h-1zM1246 814h2V821h-2zM1247 811h1V822h-1zM1247 814h2V815h-2z"/>
<path fill="#f23645" d="M1249 810h1V847h-1zM1249 814h2V836h-2zM1250 812h1V883h-1zM1250 836h2V875h-2zM1251 866h1V886h-1zM1251 875h2V878h-2z"/>
<path fill="#089981" d="M1252 854h1V890h-1zM1252 865h2V878h-2zM1254 839h1V885h-1zM1254 850h2V865h-2zM1255 819h1V881h-1zM1255 825h2V850h-2z"/>
<path fill="#f23645" d="M1256 816h1V854h-1zM1256 825h2V829h-2z"/>
<path fill="#089981" d="M1257 805h1V851h-1zM1257 808h2V829h-2z"/>
<path fill="#f23645" d="M1258 802h1V819h-1zM1258 808h2V813h-2zM1260 806h1V824h-1zM1260 813h2V820h-2zM1261 815h1V875h-1zM1261 820h2V872h-2zM1262 854h1V942h-1zM1262 872h2V936h-2z"/>
<path fill="#089981" d="M1263 897h1V941h-1zM1263 911h2V936h-2z"/>
<path fill="#f23645" d="M1265 889h1V918h-1zM1265 911h2V916h-2zM1266 913h1V963h-1zM1266 916h2V934h-2zM1267 912h1V944h-1zM1267 934h2V944h-2zM1268 930h1V963h-1zM1268 944h2V963h-2z"/>
<path fill="#089981" d="M1270 915h1V963h-1zM1270 921h2V963h-2z"/>
<path fill="#f23645" d="M1271 913h1V926h-1zM1271 921h2V925h-2z"/>
<path fill="#089981" d="M1272 880h1V932h-1zM1272 904h2V925h-2zM1273 880h1V920h-1zM1273 884h2V904h-2zM1275 868h1V894h-1zM1275 869h2V884h-2z"/>
<path fill="#f23645" d="M1276 867h1V896h-1zM1276 869h2V888h-2zM1277 879h1V916h-1zM1277 888h2V891h-2zM1278 873h1V912h-1zM1278 891h2V910h-2zM1280 902h1V924h-1zM1280 910h2V915h-2z"/>
<path fill="#089981" d="M1281 892h1V927h-1zM1281 896h2V915h-2z"/>
<path fill="#f23645" d="M1282 903h1V919h-1zM1282 907h2V909h-2zM1283 904h1V950h-1zM1283 909h2V946h-2zM1284 914h1V1001h-1zM1284 946h2V991h-2z"/>
<path fill="#089981" d="M1286 966h1V1003h-1zM1286 970h2V991h-2zM1287 933h1V974h-1zM1287 943h2V970h-2zM1288 891h1V946h-1zM1288 924h2V943h-2zM1289 901h1V946h-1zM1289 905h2V924h-2z"/>
<path fill="#f23645" d="M1291 904h1V920h-1zM1291 905h2V906h-2zM1292 893h1V941h-1zM1292 905h2V921h-2z"/>
<path fill="#089981" d="M1293 893h1V922h-1zM1293 907h2V921h-2z"/>
<path fill="#f23645" d="M1294 897h1V919h-1zM1294 907h2V916h-2zM1296 911h1V958h-1zM1296 916h2V955h-2z"/>
<path fill="#089981" d="M1297 950h1V957h-1zM1297 955h2V956h-2zM1298 948h1V956h-1zM1298 954h2V955h-2zM1299 935h1V957h-1zM1299 950h2V954h-2zM1301 887h1V950h-1zM1301 927h2V949h-2zM1302 879h1V943h-1zM1302 904h2V927h-2zM1303 867h1V909h-1zM1303 897h2V904h-2zM1304 864h1V903h-1zM1304 870h2V897h-2zM1306 830h1V878h-1zM1306 849h2V870h-2zM1307 828h1V863h-1zM1307 832h2V849h-2z"/>
<path fill="#f23645" d="M1308 806h1V844h-1zM1308 832h2V839h-2z"/>
<path fill="#089981" d="M1309 825h1V868h-1zM1309 835h2V839h-2zM1310 808h1V838h-1zM1310 823h2V835h-2z"/>
<path fill="#f23645" d="M1312 821h1V849h-1zM1312 823h2V832h-2zM1313 826h1V856h-1zM1313 832h2V848h-2z"/>
<path fill="#089981" d="M1314 840h1V850h-1zM1314 842h2V848h-2z"/>
<path fill="#f23645" d="M1315 836h1V867h-1zM1315 842h2V850h-2z"/>
<path fill="#089981" d="M1317 827h1V852h-1zM1317 829h2V850h-2z"/>
<path fill="#f23645" d="M1318 826h1V864h-1zM1318 829h2V836h-2zM1319 831h1V867h-1zM1319 836h2V866h-2z"/>
<path fill="#089981" d="M1320 839h1V869h-1zM1320 856h2V866h-2z"/>
<path fill="#f23645" d="M1322 842h1V864h-1zM1322 856h2V858h-2z"/>
<path fill="#089981" d="M1323 827h1V868h-1zM1323 848h2V858h-2zM1324 811h1V851h-1zM1324 836h2V848h-2zM1325 829h1V849h-1zM1325 833h2V836h-2zM1327 805h1V843h-1zM1327 815h2V833h-2zM1328 802h1V830h-1zM1328 805h2V815h-2zM1329 802h1V805h-1zM1329 805h2V806h-2zM1330 800h1V810h-1zM1330 805h2V806h-2z"/>
<path fill="#f23645" d="M1331 803h1V845h-1zM1331 805h2V831h-2zM1333 825h1V841h-1zM1333 831h2V839h-2z"/>
<path fill="#089981" d="M1334 833h1V844h-1zM1334 834h2V839h-2z"/>
<path fill="#f23645" d="M1335 829h1V850h-1zM1335 834h2V847h-2zM1336 834h1V883h-1zM1336 847h2V860h-2zM1338 858h1V884h-1zM1338 860h2V865h-2zM1339 858h1V884h-1zM1339 865h2V871h-2z"/>
<path fill="#089981" d="M1340 865h1V885h-1zM1340 869h2V871h-2z"/>
<path fill="#f23645" d="M1341 867h1V878h-1zM1341 869h2V874h-2zM1343 871h1V903h-1zM1343 874h2V875h-2zM1344 873h1V902h-1zM1344 875h2V886h-2zM1345 878h1V912h-1zM1345 886h2V893h-2zM1346 874h1V916h-1zM1346 893h2V900h-2zM1348 893h1V916h-1zM1348 900h2V914h-2zM1349 895h1V919h-1zM1349 914h2V915h-2zM1350 909h1V934h-1zM1350 914h2V932h-2zM1351 930h1V978h-1zM1351 932h2V938h-2z"/>
<path fill="#089981" d="M1353 934h1V961h-1zM1353 938h2V941h-2z"/>
<path fill="#f23645" d="M1354 933h1V956h-1zM1354 938h2V947h-2z"/>
<path fill="#089981" d="M1355 931h1V953h-1zM1355 942h2V947h-2z"/>
<path fill="#f23645" d="M1356 940h1V956h-1zM1356 942h2V953h-2z"/>
<path fill="#089981" d="M1357 937h1V960h-1zM1357 937h2V953h-2zM1359 910h1V942h-1zM1359 918h2V937h-2z"/>
<path fill="#f23645" d="M1360 912h1V964h-1zM1360 918h2V938h-2zM1361 928h1V976h-1zM1361 938h2V960h-2zM1362 939h1V989h-1zM1362 960h2V973h-2zM1364 948h1V1026h-1zM1364 973h2V1005h-2zM1365 978h1V1041h-1zM1365 1005h2V1040h-2z"/>
<path fill="#089981" d="M1366 1005h1V1042h-1zM1366 1030h2V1040h-2zM1367 999h1V1030h-1zM1367 1019h2V1030h-2zM1369 978h1V1034h-1zM1369 989h2V1019h-2zM1370 979h1V991h-1zM1370 981h2V989h-2z"/>
<path fill="#f23645" d="M1371 969h1V993h-1zM1371 981h2V990h-2zM1372 988h1V1005h-1zM1372 990h2V1004h-2z"/>
<path fill="#089981" d="M1374 993h1V1005h-1zM1374 993h2V1004h-2zM1375 944h1V1006h-1zM1375 957h2V993h-2zM1376 933h1V959h-1zM1376 941h2V957h-2zM1377 913h1V950h-1zM1377 920h2V941h-2zM1378 896h1V923h-1zM1378 903h2V920h-2z"/>
<path fill="#f23645" d="M1380 890h1V911h-1zM1380 903h2V908h-2z"/>
<path fill="#089981" d="M1381 891h1V914h-1zM1381 893h2V908h-2z"/>
<path fill="#f23645" d="M1382 889h1V914h-1zM1382 893h2V906h-2zM1383 901h1V911h-1zM1383 906h2V910h-2z"/>
<path fill="#089981" d="M1385 871h1V912h-1zM1385 880h2V910h-2zM1386 859h1V890h-1zM1386 860h2V880h-2z"/>
<path fill="#f23645" d="M1387 846h1V892h-1zM1387 860h2V862h-2zM1388 861h1V878h-1zM1388 862h2V877h-2z"/>
<path fill="#089981" d="M1390 870h1V878h-1zM1390 877h2V878h-2zM1391 849h1V880h-1zM1391 858h2V877h-2zM1392 837h1V860h-1zM1392 856h2V858h-2zM1393 830h1V870h-1zM1393 839h2V856h-2z"/>
<path fill="#f23645" d="M1395 830h1V875h-1zM1395 839h2V843h-2zM1396 839h1V891h-1zM1396 843h2V860h-2zM1397 833h1V904h-1zM1397 860h2V887h-2zM1398 886h1V915h-1zM1398 887h2V911h-2z"/>
<path fill="#089981" d="M1400 895h1V940h-1zM1400 909h2V911h-2z"/>
<path fill="#f23645" d="M1401 880h1V964h-1zM1401 909h2V951h-2zM1402 936h1V1024h-1zM1402 951h2V992h-2zM1403 971h1V1094h-1zM1403 992h2V1029h-2z"/>
<path fill="#089981" d="M1404 996h1V1038h-1zM1404 996h2V1029h-2zM1406 965h1V1007h-1zM1406 973h2V996h-2zM1407 940h1V983h-1zM1407 954h2V973h-2z"/>
<path fill="#f23645" d="M1408 934h1V960h-1zM1408 954h2V957h-2zM1409 935h1V982h-1zM1409 957h2V971h-2z"/>
<path fill="#089981" d="M1411 938h1V986h-1zM1411 963h2V971h-2z"/>
<path fill="#f23645" d="M1412 963h1V982h-1zM1412 963h2V970h-2z"/>
<path fill="#089981" d="M1413 938h1V987h-1zM1413 938h2V970h-2z"/>
<path fill="#f23645" d="M1414 934h1V965h-1zM1414 938h2V964h-2zM1416 938h1V997h-1zM1416 964h2V981h-2z"/>
<path fill="#089981" d="M1417 968h1V997h-1zM1417 981h2V982h-2zM1418 952h1V998h-1zM1418 957h2V981h-2zM1419 950h1V975h-1zM1419 955h2V957h-2zM1421 934h1V968h-1zM1421 952h2V955h-2zM1422 935h1V962h-1zM1422 942h2V952h-2zM1423 927h1V956h-1zM1423 941h2V942h-2zM1424 930h1V943h-1zM1424 939h2V941h-2z"/>
<path fill="#f23645" d="M1426 917h1V956h-1zM1426 939h2V955h-2z"/>
<path fill="#089981" d="M1427 892h1V972h-1zM1427 897h2V963h-2zM1428 892h1V917h-1zM1428 896h2V897h-2z"/>
<path fill="#f23645" d="M1429 894h1V953h-1zM1429 896h2V913h-2zM1430 904h1V956h-1zM1430 913h2V950h-2zM1432 942h1V984h-1zM1432 950h2V966h-2z"/>
<path fill="#089981" d="M1433 946h1V967h-1zM1433 958h2V966h-2z"/>
<path fill="#f23645" d="M1434 951h1V992h-1zM1434 958h2V961h-2zM1435 953h1V980h-1zM1435 961h2V966h-2zM1437 957h1V992h-1zM1437 966h2V987h-2zM1438 986h1V1010h-1zM1438 987h2V990h-2z"/>
<path fill="#089981" d="M1439 976h1V1002h-1zM1439 976h2V990h-2z"/>
<path fill="#f23645" d="M1440 966h1V994h-1zM1440 976h2V990h-2zM1442 987h1V1030h-1zM1442 990h2V1020h-2zM1443 1001h1V1054h-1zM1443 1020h2V1051h-2z"/>
<path fill="#089981" d="M1444 1020h1V1055h-1zM1444 1037h2V1051h-2zM1445 1010h1V1050h-1zM1445 1028h2V1037h-2zM1447 1006h1V1033h-1zM1447 1007h2V1028h-2zM1448 973h1V1008h-1zM1448 975h2V1007h-2z"/>
<path fill="#f23645" d="M1449 970h1V986h-1zM1449 975h2V979h-2z"/>
<path fill="#089981" d="M1450 951h1V991h-1zM1450 960h2V979h-2zM1451 950h1V965h-1zM1451 960h2V961h-2z"/>
<path fill="#f23645" d="M1453 956h1V988h-1zM1453 960h2V962h-2zM1454 959h1V990h-1zM1454 962h2V984h-2zM1455 979h1V992h-1zM1455 984h2V990h-2z"/>
<path fill="#089981" d="M1456 936h1V992h-1zM1456 943h2V990h-2zM1458 923h1V950h-1zM1458 924h2V943h-2zM1459 914h1V930h-1zM1459 916h2V924h-2zM1460 913h1V917h-1zM1460 916h2V917h-2zM1461 913h1V916h-1zM1461 916h2V917h-2z"/>
<path fill="#f23645" d="M1463 895h1V927h-1zM1463 904h2V924h-2z"/>
<path fill="#089981" d="M1464 911h1V926h-1zM1464 917h2V924h-2zM1465 887h1V918h-1zM1465 898h2V917h-2zM1466 882h1V904h-1zM1466 890h2V898h-2z"/>
<path fill="#f23645" d="M1468 878h1V917h-1zM1468 890h2V898h-2z"/>
<path fill="#089981" d="M1469 876h1V905h-1zM1469 877h2V898h-2z"/>
<path fill="#f23645" d="M1470 876h1V884h-1zM1470 877h2V878h-2zM1471 875h1V892h-1zM1471 878h2V890h-2zM1473 877h1V925h-1zM1473 890h2V908h-2zM1474 907h1V947h-1zM1474 908h2V942h-2zM1475 912h1V961h-1zM1475 942h2V960h-2z"/>
<path fill="#089981" d="M1476 924h1V964h-1zM1476 951h2V960h-2zM1477 925h1V961h-1zM1477 942h2V951h-2z"/>
<path fill="#f23645" d="M1479 924h1V961h-1zM1479 942h2V945h-2z"/>
<path fill="#089981" d="M1480 932h1V944h-1zM1480 933h2V942h-2zM1481 907h1V934h-1zM1481 908h2V933h-2z"/>
<path fill="#f23645" d="M1482 908h1V959h-1zM1482 908h2V930h-2zM1484 927h1V966h-1zM1484 930h2V952h-2zM1485 951h1V972h-1zM1485 952h2V968h-2z"/>
<path fill="#089981" d="M1486 938h1V972h-1zM1486 942h2V968h-2zM1487 903h1V953h-1zM1487 915h2V942h-2zM1489 887h1V929h-1zM1489 899h2V915h-2zM1490 866h1V903h-1zM1490 870h2V899h-2z"/>
<path fill="#f23645" d="M1491 853h1V911h-1zM1491 870h2V883h-2z"/>
<path fill="#089981" d="M1492 867h1V886h-1zM1492 867h2V883h-2zM1494 845h1V870h-1zM1494 846h2V867h-2z"/>
<path fill="#f23645" d="M1495 836h1V865h-1zM1495 844h2V864h-2z"/>
<path fill="#089981" d="M1496 848h1V859h-1zM1496 855h2V858h-2zM1497 836h1V857h-1zM1497 838h2V855h-2z"/>
<path fill="#f23645" d="M1498 837h1V875h-1zM1498 838h2V857h-2zM1500 852h1V874h-1zM1500 857h2V870h-2zM1501 858h1V897h-1zM1501 870h2V894h-2z"/>
<path fill="#089981" d="M1502 848h1V896h-1zM1502 868h2V894h-2zM1503 854h1V874h-1zM1503 865h2V868h-2zM1505 848h1V887h-1zM1505 849h2V865h-2zM1506 805h1V865h-1zM1506 836h2V849h-2zM1507 813h1V843h-1zM1507 818h2V836h-2zM1508 785h1V826h-1zM1508 799h2V818h-2zM1510 786h1V811h-1zM1510 786h2V799h-2z"/>
<path fill="#f23645" d="M1511 785h1V807h-1zM1511 786h2V798h-2zM1512 786h1V821h-1zM1512 798h2V814h-2zM1513 806h1V847h-1zM1513 814h2V838h-2zM1515 837h1V859h-1zM1515 838h2V852h-2zM1516 838h1V872h-1zM1516 852h2V869h-2z"/>
<path fill="#089981" d="M1517 830h1V875h-1zM1517 837h2V869h-2zM1518 791h1V844h-1zM1518 797h2V837h-2zM1520 722h1V800h-1zM1520 745h2V797h-2zM1521 711h1V747h-1zM1521 712h2V745h-2zM1522 695h1V732h-1zM1522 709h2V712h-2zM1523 662h1V713h-1zM1523 686h2V709h-2zM1524 610h1V713h-1zM1524 612h2V686h-2zM1526 553h1V639h-1zM1526 556h2V612h-2zM1527 529h1V577h-1zM1527 551h2V556h-2z"/>
<path fill="#f23645" d="M1528 529h1V591h-1zM1528 551h2V558h-2zM1529 529h1V593h-1zM1529 558h2V591h-2z"/>
<path fill="#089981" d="M1531 568h1V594h-1zM1531 582h2V591h-2zM1532 541h1V591h-1zM1532 553h2V582h-2z"/>
<path fill="#f23645" d="M1533 549h1V585h-1zM1533 553h2V554h-2z"/>
<path fill="#089981" d="M1534 501h1V560h-1zM1534 509h2V554h-2z"/>
<path fill="#f23645" d="M1536 508h1V519h-1zM1536 509h2V513h-2z"/>
<path fill="#089981" d="M1537 465h1V518h-1zM1537 477h2V513h-2zM1538 444h1V505h-1zM1538 448h2V477h-2z"/>
<path fill="#f23645" d="M1539 440h1V506h-1zM1539 448h2V477h-2zM1541 448h1V501h-1zM1541 477h2V479h-2zM1542 445h1V545h-1zM1542 479h2V540h-2zM1543 538h1V560h-1zM1543 540h2V546h-2z"/>
<path fill="#089981" d="M1544 469h1V550h-1zM1544 523h2V546h-2zM1546 464h1V527h-1zM1546 500h2V523h-2zM1547 469h1V512h-1zM1547 480h2V500h-2zM1548 469h1V495h-1zM1548 478h2V480h-2zM1549 467h1V478h-1zM1549 476h2V478h-2z"/>
<path fill="#f23645" d="M1550 467h1V528h-1zM1550 476h2V510h-2zM1552 499h1V525h-1zM1552 510h2V520h-2z"/>
<path fill="#089981" d="M1553 437h1V526h-1zM1553 458h2V520h-2zM1554 390h1V462h-1zM1554 397h2V458h-2z"/>
<path fill="#f23645" d="M1555 391h1V485h-1zM1555 397h2V444h-2zM1557 409h1V454h-1zM1557 444h2V454h-2zM1558 452h1V486h-1zM1558 454h2V458h-2zM1559 434h1V518h-1zM1559 458h2V509h-2z"/>
<path fill="#089981" d="M1560 484h1V518h-1zM1560 496h2V509h-2zM1562 423h1V520h-1zM1562 469h2V496h-2zM1563 410h1V481h-1zM1563 419h2V469h-2z"/>
<path fill="#f23645" d="M1564 385h1V448h-1zM1564 419h2V443h-2z"/>
<path fill="#089981" d="M1565 400h1V441h-1zM1565 407h2V440h-2z"/>
<path fill="#f23645" d="M1567 405h1V431h-1zM1567 407h2V415h-2z"/>
<path fill="#089981" d="M1568 335h1V430h-1zM1568 357h2V415h-2zM1569 331h1V389h-1zM1569 348h2V357h-2z"/>
<path fill="#f23645" d="M1570 334h1V460h-1zM1570 348h2V415h-2zM1571 396h1V458h-1zM1571 415h2V452h-2zM1573 429h1V522h-1zM1573 452h2V513h-2zM1574 463h1V546h-1zM1574 513h2V539h-2zM1575 535h1V545h-1zM1575 539h2V544h-2z"/>
<path fill="#089981" d="M1576 501h1V547h-1zM1576 506h2V544h-2zM1578 443h1V517h-1zM1578 460h2V506h-2zM1579 442h1V476h-1zM1579 447h2V460h-2z"/>
<path fill="#f23645" d="M1580 442h1V505h-1zM1580 447h2V468h-2zM1581 451h1V532h-1zM1581 468h2V508h-2zM1583 494h1V532h-1zM1583 508h2V520h-2zM1584 512h1V558h-1zM1584 520h2V546h-2zM1585 530h1V561h-1zM1585 546h2V553h-2z"/>
<path fill="#089981" d="M1586 520h1V556h-1zM1586 536h2V553h-2zM1588 467h1V556h-1zM1588 514h2V536h-2zM1589 472h1V520h-1zM1589 486h2V514h-2zM1590 469h1V505h-1zM1590 476h2V486h-2zM1591 466h1V496h-1zM1591 468h2V476h-2zM1593 414h1V474h-1zM1593 452h2V468h-2zM1594 404h1V471h-1zM1594 412h2V452h-2zM1595 406h1V433h-1zM1595 410h2V412h-2z"/>
<path fill="#f23645" d="M1596 406h1V533h-1zM1596 410h2V494h-2zM1597 466h1V516h-1zM1597 494h2V514h-2zM1599 498h1V581h-1zM1599 514h2V557h-2z"/>
<path fill="#089981" d="M1600 527h1V569h-1zM1600 537h2V557h-2z"/>
<path fill="#f23645" d="M1601 497h1V575h-1zM1601 537h2V564h-2zM1602 562h1V581h-1zM1602 564h2V565h-2z"/>
<path fill="#089981" d="M1604 457h1V570h-1zM1604 473h2V565h-2zM1605 399h1V509h-1zM1605 454h2V473h-2zM1606 420h1V465h-1zM1606 435h2V454h-2zM1607 394h1V460h-1zM1607 396h2V435h-2zM1609 355h1V436h-1zM1609 379h2V396h-2zM1610 323h1V394h-1zM1610 329h2V379h-2zM1611 321h1V351h-1zM1611 324h2V329h-2z"/>
<path fill="#f23645" d="M1612 320h1V354h-1zM1612 324h2V350h-2zM1614 327h1V395h-1zM1614 350h2V380h-2zM1615 349h1V408h-1zM1615 380h2V402h-2z"/>
<path fill="#089981" d="M1616 346h1V415h-1zM1616 350h2V402h-2z"/>
<path fill="#f23645" d="M1617 347h1V406h-1zM1617 350h2V373h-2zM1618 358h1V396h-1zM1618 373h2V390h-2zM1620 385h1V452h-1zM1620 390h2V451h-2z"/>
<path fill="#089981" d="M1621 427h1V465h-1zM1621 434h2V451h-2zM1622 361h1V472h-1zM1622 404h2V434h-2zM1623 379h1V455h-1zM1623 385h2V404h-2zM1625 361h1V415h-1zM1625 380h2V385h-2z"/>
<path fill="#f23645" d="M1626 361h1V428h-1zM1626 380h2V397h-2zM1627 382h1V465h-1zM1627 397h2V423h-2z"/>
<path fill="#089981" d="M1628 417h1V551h-1zM1628 423h2V424h-2z"/>
<path fill="#f23645" d="M1630 413h1V468h-1zM1630 423h2V437h-2zM1631 413h1V513h-1zM1631 437h2V480h-2z"/>
<path fill="#089981" d="M1632 463h1V489h-1zM1632 477h2V480h-2z"/>
<path fill="#f23645" d="M1633 447h1V498h-1zM1633 477h2V495h-2zM1635 492h1V512h-1zM1635 495h2V501h-2zM1636 499h1V509h-1zM1636 501h2V508h-2z"/>
<path fill="#089981" d="M1637 484h1V515h-1zM1637 501h2V508h-2zM1638 457h1V502h-1zM1638 465h2V501h-2z"/>
<path fill="#f23645" d="M1640 462h1V516h-1zM1640 465h2V509h-2z"/>
<path fill="#089981" d="M1641 500h1V502h-1zM1641 500h2V501h-2zM1642 455h1V507h-1zM1642 475h2V500h-2z"/>
<path fill="#f23645" d="M1643 461h1V479h-1zM1643 475h2V476h-2zM1644 461h1V526h-1zM1644 476h2V501h-2z"/>
<path fill="#089981" d="M1646 482h1V524h-1zM1646 493h2V501h-2z"/>
<path fill="#f23645" d="M1647 474h1V517h-1zM1647 493h2V515h-2z"/>
<path fill="#089981" d="M1648 493h1V518h-1zM1648 502h2V515h-2zM1649 481h1V512h-1zM1649 487h2V502h-2zM1651 451h1V514h-1zM1651 474h2V487h-2z"/>
<path fill="#f23645" d="M1652 470h1V530h-1zM1652 474h2V486h-2zM1653 483h1V534h-1zM1653 486h2V512h-2zM1654 497h1V541h-1zM1654 512h2V540h-2zM1656 514h1V618h-1zM1656 540h2V605h-2zM1657 593h1V643h-1zM1657 605h2V639h-2zM1658 632h1V721h-1zM1658 639h2V702h-2zM1659 699h1V724h-1zM1659 702h2V715h-2z"/>
<path fill="#089981" d="M1661 628h1V727h-1zM1661 639h2V715h-2zM1662 507h1V657h-1zM1662 526h2V639h-2z"/>
<path fill="#f23645" d="M1663 513h1V612h-1zM1663 526h2V578h-2zM1664 566h1V687h-1zM1664 578h2V682h-2z"/>
<path fill="#089981" d="M1665 610h1V684h-1zM1665 611h2V682h-2zM1667 536h1V638h-1zM1667 538h2V611h-2z"/>
<path fill="#f23645" d="M1668 537h1V634h-1zM1668 538h2V623h-2zM1669 614h1V658h-1zM1669 623h2V653h-2zM1670 642h1V670h-1zM1670 653h2V658h-2zM1672 657h1V721h-1zM1672 658h2V699h-2zM1673 667h1V731h-1zM1673 699h2V724h-2z"/>
<path fill="#089981" d="M1674 647h1V730h-1zM1674 680h2V724h-2zM1675 647h1V698h-1zM1675 651h2V680h-2zM1677 635h1V676h-1zM1677 638h2V651h-2zM1678 632h1V670h-1zM1678 637h2V638h-2z"/>
<path fill="#f23645" d="M1679 635h1V687h-1zM1679 638h2V670h-2z"/>
<path fill="#089981" d="M1680 659h1V684h-1zM1680 668h2V670h-2z"/>
<path fill="#f23645" d="M1682 660h1V688h-1zM1682 668h2V676h-2z"/>
<path fill="#089981" d="M1683 621h1V691h-1zM1683 627h2V676h-2zM1684 588h1V683h-1zM1684 599h2V627h-2z"/>
<path fill="#f23645" d="M1685 594h1V639h-1zM1685 599h2V621h-2zM1687 607h1V661h-1zM1687 621h2V637h-2z"/>
<path fill="#089981" d="M1688 595h1V648h-1zM1688 624h2V637h-2zM1689 598h1V628h-1zM1689 604h2V624h-2z"/>
<path fill="#f23645" d="M1690 592h1V615h-1zM1690 604h2V614h-2zM1691 586h1V642h-1zM1691 614h2V623h-2z"/>
<path fill="#089981" d="M1693 600h1V626h-1zM1693 615h2V623h-2z"/>
<path fill="#f23645" d="M1694 613h1V656h-1zM1694 615h2V638h-2zM1695 618h1V664h-1zM1695 638h2V661h-2zM1696 655h1V683h-1zM1696 661h2V665h-2zM1698 664h1V679h-1zM1698 665h2V669h-2z"/>
<path fill="#089981" d="M1699 616h1V678h-1zM1699 636h2V669h-2zM1700 591h1V638h-1zM1700 593h2V636h-2z"/>
<path fill="#f23645" d="M1701 592h1V635h-1zM1701 593h2V621h-2zM1703 611h1V664h-1zM1703 621h2V641h-2zM1704 633h1V722h-1zM1704 641h2V687h-2zM1705 672h1V755h-1zM1705 687h2V739h-2zM1706 699h1V776h-1zM1706 739h2V771h-2z"/>
<path fill="#089981" d="M1708 728h1V775h-1zM1708 735h2V771h-2zM1709 665h1V743h-1zM1709 694h2V735h-2zM1710 682h1V699h-1zM1710 683h2V694h-2zM1711 628h1V688h-1zM1711 668h2V683h-2zM1713 629h1V686h-1zM1713 644h2V668h-2z"/>
<path fill="#f23645" d="M1714 630h1V657h-1zM1714 644h2V645h-2zM1715 625h1V667h-1zM1715 645h2V660h-2z"/>
<path fill="#089981" d="M1716 655h1V658h-1zM1716 655h2V656h-2zM1717 625h1V657h-1zM1717 630h2V655h-2z"/>
<path fill="#f23645" d="M1719 621h1V657h-1zM1719 630h2V645h-2zM1720 628h1V655h-1zM1720 645h2V650h-2z"/>
<path fill="#089981" d="M1721 626h1V651h-1zM1721 627h2V649h-2z"/>
<path fill="#f23645" d="M1722 620h1V634h-1zM1722 627h2V629h-2z"/>
<path fill="#089981" d="M1724 571h1V650h-1zM1724 586h2V629h-2zM1725 540h1V598h-1zM1725 547h2V586h-2zM1726 509h1V583h-1zM1726 528h2V547h-2zM1727 508h1V538h-1zM1727 526h2V528h-2zM1729 506h1V539h-1zM1729 508h2V526h-2z"/>
<path fill="#f23645" d="M1730 506h1V534h-1zM1730 508h2V532h-2z"/>
<path fill="#089981" d="M1731 517h1V548h-1zM1731 519h2V532h-2z"/>
<path fill="#f23645" d="M1732 479h1V538h-1zM1732 519h2V533h-2z"/>
<path fill="#089981" d="M1734 471h1V536h-1zM1734 508h2V533h-2z"/>
<path fill="#f23645" d="M1735 492h1V524h-1zM1735 508h2V512h-2z"/>
<path fill="#089981" d="M1736 473h1V521h-1zM1736 503h2V512h-2z"/>
<path fill="#f23645" d="M1737 502h1V522h-1zM1737 503h2V510h-2z"/>
<path fill="#089981" d="M1738 474h1V533h-1zM1738 489h2V510h-2z"/>
<path fill="#f23645" d="M1740 454h1V529h-1zM1740 489h2V512h-2zM1741 502h1V529h-1zM1741 512h2V522h-2z"/>
<path fill="#089981" d="M1742 511h1V531h-1zM1742 512h2V522h-2zM1743 461h1V513h-1zM1743 475h2V512h-2zM1745 405h1V494h-1zM1745 419h2V475h-2zM1746 372h1V459h-1zM1746 375h2V419h-2z"/>
<path fill="#f23645" d="M1747 373h1V404h-1zM1747 375h2V390h-2zM1748 372h1V417h-1zM1748 390h2V392h-2zM1750 375h1V435h-1zM1750 392h2V432h-2z"/>
<path fill="#089981" d="M1751 375h1V432h-1zM1751 417h2V432h-2z"/>
<path fill="#f23645" d="M1752 387h1V434h-1zM1752 417h2V418h-2z"/>
<path fill="#089981" d="M1753 390h1V425h-1zM1753 412h2V418h-2zM1755 371h1V417h-1zM1755 400h2V412h-2z"/>
<path fill="#f23645" d="M1756 397h1V414h-1zM1756 400h2V404h-2z"/>
<path fill="#089981" d="M1757 385h1V413h-1zM1757 402h2V404h-2zM1758 345h1V411h-1zM1758 354h2V402h-2zM1760 343h1V413h-1zM1760 352h2V354h-2zM1761 303h1V373h-1zM1761 336h2V352h-2zM1762 288h1V358h-1zM1762 314h2V336h-2z"/>
<path fill="#f23645" d="M1763 311h1V360h-1zM1763 314h2V318h-2zM1764 289h1V363h-1zM1764 318h2V323h-2zM1766 317h1V359h-1zM1766 323h2V324h-2zM1767 316h1V345h-1zM1767 324h2V325h-2zM1768 310h1V349h-1zM1768 325h2V326h-2zM1769 318h1V390h-1zM1769 326h2V377h-2z"/>
<path fill="#089981" d="M1771 332h1V383h-1zM1771 356h2V377h-2z"/>
<path fill="#f23645" d="M1772 345h1V397h-1zM1772 356h2V393h-2z"/>
<path fill="#089981" d="M1773 364h1V400h-1zM1773 393h2V394h-2zM1774 357h1V394h-1zM1774 359h2V393h-2zM1776 353h1V373h-1zM1776 359h2V360h-2z"/>
<path fill="#f23645" d="M1777 356h1V402h-1zM1777 359h2V366h-2zM1778 353h1V406h-1zM1778 366h2V389h-2zM1779 362h1V434h-1zM1779 389h2V426h-2z"/>
<path fill="#089981" d="M1781 382h1V438h-1zM1781 406h2V426h-2zM1782 344h1V438h-1zM1782 355h2V406h-2zM1783 340h1V380h-1zM1783 345h2V355h-2zM1784 306h1V358h-1zM1784 306h2V345h-2zM1785 305h1V310h-1zM1785 306h2V307h-2z"/>
<path fill="#f23645" d="M1787 305h1V351h-1zM1787 306h2V332h-2zM1788 323h1V352h-1zM1788 332h2V347h-2zM1789 346h1V386h-1zM1789 347h2V375h-2zM1790 349h1V388h-1zM1790 375h2V385h-2z"/>
<path fill="#089981" d="M1792 340h1V404h-1zM1792 362h2V396h-2zM1793 330h1V396h-1zM1793 337h2V362h-2z"/>
<path fill="#f23645" d="M1794 329h1V390h-1zM1794 337h2V371h-2zM1795 336h1V412h-1zM1795 371h2V387h-2zM1797 366h1V446h-1zM1797 387h2V395h-2z"/>
<path fill="#089981" d="M1798 364h1V401h-1zM1798 367h2V395h-2z"/>
<path fill="#f23645" d="M1799 360h1V438h-1zM1799 367h2V412h-2zM1800 383h1V450h-1zM1800 412h2V447h-2z"/>
<path fill="#089981" d="M1802 339h1V466h-1zM1802 383h2V447h-2z"/>
<path fill="#f23645" d="M1803 373h1V402h-1zM1803 383h2V386h-2z"/>
<path fill="#089981" d="M1804 337h1V406h-1zM1804 339h2V386h-2z"/>
<path fill="#f23645" d="M1805 334h1V372h-1zM1805 339h2V368h-2z"/>
<path fill="#089981" d="M1807 332h1V376h-1zM1807 359h2V368h-2zM1808 333h1V360h-1zM1808 357h2V358h-2zM1809 329h1V378h-1zM1809 334h2V374h-2z"/>
<path fill="#f23645" d="M1810 321h1V359h-1zM1810 332h2V353h-2zM1811 316h1V377h-1zM1811 353h2V376h-2z"/>
<path fill="#089981" d="M1813 362h1V379h-1zM1813 368h2V376h-2zM1814 325h1V381h-1zM1814 333h2V368h-2z"/>
<path fill="#f23645" d="M1815 327h1V377h-1zM1815 333h2V359h-2z"/>
<path fill="#089981" d="M1816 312h1V382h-1zM1816 337h2V359h-2zM1818 308h1V344h-1zM1818 333h2V337h-2zM1819 308h1V350h-1zM1819 324h2V333h-2z"/>
<path fill="#f23645" d="M1820 317h1V345h-1zM1820 324h2V332h-2z"/>
<path fill="#089981" d="M1821 291h1V347h-1zM1821 313h2V332h-2zM1823 234h1V332h-1zM1823 249h2V313h-2zM1824 200h1V249h-1zM1824 244h2V249h-2zM1825 154h1V303h-1zM1825 201h2V244h-2zM1826 157h1V201h-1zM1826 197h2V201h-2zM1828 163h1V216h-1zM1828 169h2V197h-2z"/>
<path fill="#f23645" d="M1829 142h1V228h-1zM1829 169h2V208h-2z"/>
<path fill="#089981" d="M1830 200h1V241h-1zM1830 204h2V208h-2z"/>
<path fill="#f23645" d="M1831 159h1V240h-1zM1831 204h2V205h-2z"/>
<path fill="#089981" d="M1833 174h1V211h-1zM1833 176h2V204h-2z"/>
<path fill="#f23645" d="M1834 164h1V202h-1zM1834 176h2V201h-2zM1835 167h1V232h-1zM1835 201h2V211h-2z"/>
<path fill="#089981" d="M1836 170h1V215h-1zM1836 179h2V211h-2z"/>
<path fill="#f23645" d="M1837 176h1V206h-1zM1837 179h2V200h-2z"/>
<path fill="#089981" d="M1839 176h1V241h-1zM1839 187h2V200h-2z"/>
<path fill="#f23645" d="M1840 176h1V229h-1zM1840 187h2V210h-2zM1841 209h1V260h-1zM1841 210h2V256h-2z"/>
<path fill="#089981" d="M1842 184h1V259h-1zM1842 196h2V256h-2zM1844 185h1V199h-1zM1844 187h2V196h-2zM1845 181h1V188h-1zM1845 186h2V187h-2z"/>
<path fill="#f23645" d="M1846 184h1V263h-1zM1846 186h2V214h-2z"/>
<path fill="#089981" d="M1847 195h1V238h-1zM1847 196h2V214h-2z"/>
<path fill="#f23645" d="M1849 196h1V233h-1zM1849 198h2V231h-2zM1850 196h1V292h-1zM1850 231h2V267h-2zM1851 256h1V295h-1zM1851 267h2V291h-2z"/>
<path fill="#089981" d="M1852 254h1V297h-1zM1852 263h2V291h-2zM1854 252h1V293h-1zM1854 263h2V264h-2zM1855 250h1V294h-1zM1855 258h2V263h-2zM1856 233h1V263h-1zM1856 241h2V258h-2zM1857 195h1V253h-1zM1857 202h2V241h-2z"/>
<path fill="#f23645" d="M1858 192h1V233h-1zM1858 202h2V227h-2z"/>
<path fill="#089981" d="M1860 177h1V251h-1zM1860 190h2V227h-2zM1861 167h1V217h-1zM1861 189h2V190h-2zM1862 125h1V237h-1zM1862 188h2V189h-2zM1863 150h1V232h-1zM1863 177h2V188h-2zM1865 139h1V199h-1zM1865 140h2V177h-2z"/>
<path fill="#f23645" d="M1866 125h1V194h-1zM1866 140h2V167h-2zM1867 148h1V223h-1zM1867 167h2V205h-2z"/>
<path fill="#089981" d="M1868 179h1V224h-1zM1868 190h2V205h-2z"/>
<path fill="#f23645" d="M1870 173h1V207h-1zM1870 190h2V197h-2zM1871 201h1V267h-1zM1871 204h2V234h-2zM1872 220h1V289h-1zM1872 234h2V261h-2zM1873 202h1V291h-1zM1873 261h2V276h-2z"/>
<path fill="#089981" d="M1875 215h1V282h-1zM1875 257h2V276h-2zM1876 216h1V260h-1zM1876 219h2V257h-2z"/>
<path fill="#f23645" d="M1877 217h1V290h-1zM1877 219h2V281h-2zM1878 276h1V306h-1zM1878 281h2V296h-2zM1880 274h1V338h-1zM1880 296h2V308h-2z"/>
<path fill="#089981" d="M1881 274h1V324h-1zM1881 296h2V308h-2zM1882 267h1V309h-1zM1882 271h2V296h-2z"/>
<path fill="#f23645" d="M1883 269h1V351h-1zM1883 271h2V324h-2z"/>
<path fill="#089981" d="M1884 271h1V353h-1zM1884 301h2V324h-2z"/>
<path fill="#f23645" d="M1886 298h1V346h-1zM1886 301h2V345h-2zM1887 319h1V355h-1zM1887 345h2V351h-2z"/>
<path fill="#089981" d="M1888 306h1V355h-1zM1888 330h2V351h-2zM1889 273h1V344h-1zM1889 298h2V330h-2zM1891 270h1V309h-1zM1891 273h2V298h-2zM1892 267h1V285h-1zM1892 273h2V274h-2z"/>
<path fill="#f23645" d="M1893 271h1V321h-1zM1893 273h2V312h-2z"/>
<path fill="#089981" d="M1894 280h1V316h-1zM1894 297h2V312h-2z"/>
<path fill="#f23645" d="M1896 267h1V318h-1zM1896 297h2V311h-2z"/>
<path fill="#089981" d="M1897 247h1V316h-1zM1897 264h2V311h-2z"/>
<path fill="#f23645" d="M1898 226h1V315h-1zM1898 264h2V271h-2z"/>
<path fill="#089981" d="M1899 232h1V280h-1zM1899 260h2V271h-2zM1901 252h1V274h-1zM1901 258h2V260h-2zM1902 219h1V282h-1zM1902 226h2V258h-2z"/>
<path fill="#f23645" d="M1903 217h1V253h-1zM1903 221h2V249h-2zM1904 220h1V258h-1zM1904 249h2V255h-2z"/>
<path fill="#089981" d="M1905 209h1V263h-1zM1905 241h2V255h-2zM1907 214h1V260h-1zM1907 235h2V241h-2zM1908 205h1V254h-1zM1908 210h2V235h-2zM1909 206h1V210h-1zM1909 210h2V211h-2z"/>
<path fill="#f23645" d="M1910 206h1V257h-1zM1910 210h2V230h-2z"/>
<path fill="#089981" d="M1912 209h1V253h-1zM1912 210h2V230h-2z"/>
<path fill="#f23645" d="M1913 207h1V273h-1zM1913 210h2V251h-2zM1914 230h1V311h-1zM1914 251h2V262h-2zM1915 243h1V274h-1zM1915 262h2V269h-2zM1917 243h1V336h-1zM1917 269h2V303h-2zM1918 281h1V339h-1zM1918 303h2V334h-2z"/>
<path fill="#089981" d="M1919 301h1V335h-1zM1919 319h2V334h-2z"/>
<path fill="#f23645" d="M1920 272h1V336h-1zM1920 319h2V330h-2z"/>
<path fill="#089981" d="M1922 256h1V335h-1zM1922 269h2V330h-2zM1923 226h1V277h-1zM1923 248h2V269h-2z"/>
<path fill="#f23645" d="M1924 243h1V299h-1zM1924 248h2V253h-2z"/>
<path fill="#089981" d="M1925 142h1V289h-1zM1925 205h2V253h-2zM1927 128h1V227h-1zM1927 194h2V205h-2zM1928 101h1V214h-1zM1928 141h2V194h-2z"/>
<path fill="#f23645" d="M1929 122h1V156h-1zM1929 141h2V147h-2z"/>
<path fill="#089981" d="M1930 120h1V189h-1zM1930 121h2V147h-2z"/>
<path fill="#f23645" d="M1931 111h1V134h-1zM1931 121h2V125h-2zM1933 102h1V184h-1zM1933 125h2V146h-2zM1934 100h1V202h-1zM1934 146h2V153h-2zM1935 142h1V156h-1zM1935 153h2V154h-2zM1936 149h1V301h-1zM1936 154h2V297h-2z"/>
<path fill="#089981" d="M1938 247h1V322h-1zM1938 257h2V297h-2z"/>
<path fill="#f23645" d="M1939 244h1V282h-1zM1939 257h2V271h-2z"/>
<path fill="#089981" d="M1940 234h1V308h-1zM1940 237h2V271h-2z"/>
<path fill="#f23645" d="M1941 232h1V333h-1zM1941 237h2V264h-2zM1943 234h1V357h-1zM1943 264h2V296h-2zM1944 270h1V346h-1zM1944 296h2V335h-2zM1945 335h1V396h-1zM1945 335h2V339h-2zM1946 261h1V362h-1zM1946 339h2V354h-2z"/>
<path fill="#089981" d="M1948 325h1V362h-1zM1948 329h2V354h-2zM1949 279h1V344h-1zM1949 286h2V329h-2zM1950 257h1V325h-1zM1950 262h2V286h-2z"/>
<path fill="#f23645" d="M1951 257h1V350h-1zM1951 262h2V337h-2z"/>
<path fill="#089981" d="M1953 299h1V341h-1zM1953 302h2V337h-2zM1954 248h1V321h-1zM1954 295h2V302h-2zM1955 260h1V309h-1zM1955 288h2V295h-2zM1956 231h1V315h-1zM1956 257h2V288h-2zM1957 226h1V283h-1zM1957 231h2V257h-2z"/>
<path fill="#f23645" d="M1959 221h1V273h-1zM1959 231h2V252h-2zM1960 230h1V315h-1zM1960 252h2V296h-2zM1961 285h1V339h-1zM1961 296h2V337h-2z"/>
<path fill="#089981" d="M1962 276h1V341h-1zM1962 308h2V337h-2zM1964 294h1V310h-1zM1964 300h2V308h-2zM1965 299h1V332h-1zM1965 300h2V301h-2z"/>
<path fill="#f23645" d="M1966 294h1V314h-1zM1966 300h2V312h-2zM1967 298h1V403h-1zM1967 312h2V383h-2zM1969 345h1V448h-1zM1969 383h2V430h-2z"/>
<path fill="#089981" d="M1970 374h1V455h-1zM1970 430h2V431h-2zM1971 350h1V447h-1zM1971 385h2V430h-2zM1972 354h1V401h-1zM1972 372h2V385h-2z"/>
<path fill="#f23645" d="M1974 357h1V415h-1zM1974 372h2V400h-2z"/>
<path fill="#089981" d="M1975 348h1V428h-1zM1975 372h2V400h-2zM1976 359h1V421h-1zM1976 371h2V372h-2z"/>
<path fill="#f23645" d="M1977 348h1V431h-1zM1977 371h2V428h-2zM1978 411h1V509h-1zM1978 428h2V470h-2zM1980 467h1V509h-1zM1980 470h2V474h-2zM1981 448h1V565h-1zM1981 474h2V525h-2z"/>
<path fill="#089981" d="M1982 504h1V527h-1zM1982 523h2V525h-2z"/>
<path fill="#f23645" d="M1983 515h1V558h-1zM1983 523h2V554h-2zM1985 519h1V580h-1zM1985 554h2V564h-2zM1986 540h1V599h-1zM1986 564h2V568h-2zM1987 539h1V641h-1zM1987 568h2V620h-2zM1988 601h1V695h-1zM1988 620h2V688h-2z"/>
<path fill="#089981" d="M1990 631h1V689h-1zM1990 639h2V688h-2zM1991 612h1V650h-1zM1991 614h2V639h-2zM1992 606h1V624h-1zM1992 608h2V614h-2zM1993 573h1V626h-1zM1993 590h2V608h-2zM1995 574h1V607h-1zM1995 577h2V590h-2zM1996 552h1V606h-1zM1996 556h2V577h-2zM1997 531h1V572h-1zM1997 541h2V556h-2z"/>
<path fill="#f23645" d="M1998 538h1V592h-1zM1998 541h2V576h-2zM2000 566h1V616h-1zM2000 576h2V601h-2zM2001 567h1V652h-1zM2001 601h2V646h-2z"/>
<path fill="#089981" d="M2002 521h1V651h-1zM2002 596h2V646h-2zM2003 519h1V610h-1zM2003 546h2V596h-2z"/>
<path fill="#f23645" d="M2004 532h1V585h-1zM2004 546h2V547h-2zM2006 517h1V566h-1zM2006 547h2V553h-2zM2007 515h1V594h-1zM2007 553h2V579h-2z"/>
<path fill="#089981" d="M2008 558h1V581h-1zM2008 570h2V579h-2zM2009 531h1V583h-1zM2009 531h2V570h-2zM2011 519h1V538h-1zM2011 522h2V531h-2z"/>
<path fill="#f23645" d="M2012 513h1V534h-1zM2012 522h2V531h-2zM2013 531h1V579h-1zM2013 531h2V574h-2zM2014 559h1V593h-1zM2014 574h2V576h-2z"/>
<path fill="#089981" d="M2016 568h1V607h-1zM2016 568h2V576h-2zM2017 564h1V574h-1zM2017 568h2V569h-2z"/>
<path fill="#f23645" d="M2018 563h1V619h-1zM2018 568h2V596h-2zM2019 592h1V613h-1zM2019 596h2V610h-2zM2021 585h1V625h-1zM2021 610h2V620h-2z"/>
<path fill="#089981" d="M2022 603h1V645h-1zM2022 610h2V620h-2zM2023 581h1V645h-1zM2023 588h2V610h-2z"/>
<path fill="#f23645" d="M2024 584h1V613h-1zM2024 588h2V601h-2z"/>
<path fill="#089981" d="M2025 594h1V612h-1zM2025 598h2V601h-2z"/>
<path fill="#f23645" d="M2027 588h1V621h-1zM2027 598h2V616h-2z"/>
<path fill="#089981" d="M2028 601h1V619h-1zM2028 608h2V616h-2z"/>
<path fill="#f23645" d="M2029 585h1V617h-1zM2029 608h2V611h-2zM2030 608h1V619h-1zM2030 611h2V616h-2z"/>
<path fill="#089981" d="M2032 582h1V618h-1zM2032 592h2V616h-2zM2033 580h1V610h-1zM2033 591h2V592h-2z"/>
<path fill="#f23645" d="M2034 579h1V604h-1zM2034 591h2V596h-2zM2035 582h1V612h-1zM2035 596h2V600h-2zM2037 585h1V613h-1zM2037 600h2V610h-2z"/>
<path fill="#089981" d="M2038 563h1V615h-1zM2038 600h2V611h-2zM2039 586h1V613h-1zM2039 598h2V600h-2zM2040 562h1V594h-1zM2040 563h2V591h-2zM2042 513h1V573h-1zM2042 551h2V563h-2zM2043 508h1V564h-1zM2043 523h2V551h-2z"/>
<path fill="#f23645" d="M2044 512h1V559h-1zM2044 523h2V528h-2z"/>
<path fill="#089981" d="M2045 512h1V536h-1zM2045 523h2V528h-2z"/>
<path fill="#f23645" d="M2047 516h1V578h-1zM2047 523h2V567h-2zM2048 540h1V581h-1zM2048 567h2V580h-2z"/>
<path fill="#089981" d="M2049 580h1V584h-1zM2049 580h2V581h-2zM2050 523h1V583h-1zM2050 561h2V580h-2z"/>
<path fill="#f23645" d="M2051 549h1V581h-1zM2051 561h2V578h-2z"/>
<path fill="#089981" d="M2053 513h1V582h-1zM2053 531h2V578h-2zM2054 467h1V548h-1zM2054 497h2V531h-2zM2055 468h1V523h-1zM2055 472h2V497h-2z"/>
<path fill="#f23645" d="M2056 468h1V512h-1zM2056 472h2V507h-2zM2058 487h1V530h-1zM2058 507h2V524h-2z"/>
<path fill="#089981" d="M2059 487h1V527h-1zM2059 503h2V524h-2z"/>
<path fill="#f23645" d="M2060 498h1V524h-1zM2060 503h2V510h-2zM2061 498h1V556h-1zM2061 510h2V534h-2zM2063 512h1V604h-1zM2063 534h2V602h-2zM2064 569h1V627h-1zM2064 604h2V609h-2z"/>
<path fill="#089981" d="M2065 556h1V625h-1zM2065 575h2V609h-2zM2066 556h1V602h-1zM2066 560h2V575h-2z"/>
<path fill="#f23645" d="M2068 556h1V620h-1zM2068 560h2V597h-2zM2069 578h1V631h-1zM2069 597h2V624h-2z"/>
<path fill="#089981" d="M2070 607h1V651h-1zM2070 609h2V624h-2zM2071 570h1V610h-1zM2071 573h2V609h-2zM2073 565h1V578h-1zM2073 572h2V573h-2z"/>
<path fill="#f23645" d="M2074 565h1V641h-1zM2074 572h2V641h-2zM2075 624h1V679h-1zM2075 641h2V651h-2zM2076 632h1V760h-1zM2076 651h2V717h-2z"/>
<path fill="#089981" d="M2077 674h1V719h-1zM2077 705h2V717h-2z"/>
<path fill="#f23645" d="M2079 705h1V775h-1zM2079 705h2V774h-2z"/>
<path fill="#089981" d="M2080 717h1V780h-1zM2080 737h2V774h-2z"/>
<path fill="#f23645" d="M2081 721h1V789h-1zM2081 737h2V785h-2zM2082 783h1V879h-1zM2082 785h2V878h-2z"/>
<path fill="#089981" d="M2084 777h1V961h-1zM2084 811h2V878h-2z"/>
<path fill="#f23645" d="M2085 789h1V876h-1zM2085 811h2V859h-2z"/>
<path fill="#089981" d="M2086 806h1V860h-1zM2086 817h2V859h-2z"/>
<path fill="#f23645" d="M2087 810h1V856h-1zM2087 817h2V825h-2zM2089 809h1V882h-1zM2089 825h2V858h-2zM2090 854h1V897h-1zM2090 858h2V881h-2z"/>
<path fill="#089981" d="M2091 851h1V883h-1zM2091 866h2V881h-2zM2092 828h1V870h-1zM2092 846h2V866h-2zM2094 834h1V852h-1zM2094 837h2V846h-2z"/>
<path fill="#f23645" d="M2095 824h1V887h-1zM2095 837h2V843h-2z"/>
<path fill="#089981" d="M2096 823h1V862h-1zM2096 826h2V843h-2z"/>
<path fill="#f23645" d="M2097 832h1V873h-1zM2097 834h2V863h-2zM2098 846h1V877h-1zM2098 863h2V868h-2zM2100 834h1V878h-1zM2100 868h2V876h-2z"/>
<path fill="#089981" d="M2101 850h1V877h-1zM2101 854h2V876h-2z"/>
<path fill="#f23645" d="M2102 852h1V864h-1zM2102 854h2V855h-2zM2103 852h1V885h-1zM2103 855h2V863h-2zM2105 840h1V927h-1zM2105 863h2V902h-2z"/>
<path fill="#089981" d="M2106 873h1V910h-1zM2106 873h2V902h-2zM2107 832h1V882h-1zM2107 834h2V873h-2z"/>
<path fill="#f23645" d="M2108 830h1V880h-1zM2108 834h2V864h-2zM2110 853h1V890h-1zM2110 864h2V873h-2zM2111 854h1V920h-1zM2111 873h2V889h-2z"/>
<path fill="#089981" d="M2112 870h1V895h-1zM2112 888h2V889h-2zM2113 833h1V889h-1zM2113 839h2V888h-2zM2115 827h1V845h-1zM2115 838h2V839h-2zM2116 780h1V852h-1zM2116 780h2V838h-2z"/>
<path fill="#f23645" d="M2117 779h1V820h-1zM2117 780h2V808h-2zM2118 791h1V874h-1zM2118 808h2V863h-2zM2120 852h1V881h-1zM2120 863h2V871h-2zM2121 870h1V887h-1zM2121 871h2V884h-2z"/>
<path fill="#089981" d="M2122 830h1V889h-1zM2122 846h2V884h-2zM2123 811h1V853h-1zM2123 814h2V846h-2z"/>
<path fill="#f23645" d="M2124 811h1V839h-1zM2124 814h2V828h-2zM2126 814h1V840h-1zM2126 828h2V829h-2z"/>
</g>
</svg>
<div id="vax" class="abs"></div>
<div id="hax" class="abs"></div>
<svg class="cv" width="2560" height="1760" viewBox="0 0 2560 1760">
<g class="tg">
<text x="2445.70" y="140.10" font-size="19.40" letter-spacing="0.695" fill="#e2e2e2">124,000</text>
<text x="2445.70" y="191.74" font-size="19.40" letter-spacing="0.695" fill="#e2e2e2">120,000</text>
<text x="2445.70" y="243.37" font-size="19.40" letter-spacing="0.695" fill="#e2e2e2">116,000</text>
<text x="2445.70" y="295.01" font-size="19.40" letter-spacing="0.695" fill="#e2e2e2">112,000</text>
<text x="2445.70" y="346.65" font-size="19.40" letter-spacing="0.695" fill="#e2e2e2">108,000</text>
<text x="2445.70" y="398.29" font-size="19.40" letter-spacing="0.695" fill="#e2e2e2">104,000</text>
<text x="2445.70" y="449.92" font-size="19.40" letter-spacing="0.695" fill="#e2e2e2">100,000</text>
<text x="2445.70" y="501.56" font-size="19.40" letter-spacing="0.695" fill="#e2e2e2">96,000</text>
<text x="2445.70" y="553.20" font-size="19.40" letter-spacing="0.695" fill="#e2e2e2">92,000</text>
<text x="2445.70" y="604.83" font-size="19.40" letter-spacing="0.695" fill="#e2e2e2">88,000</text>
<text x="2445.70" y="656.47" font-size="19.40" letter-spacing="0.695" fill="#e2e2e2">84,000</text>
<text x="2445.70" y="708.11" font-size="19.40" letter-spacing="0.695" fill="#e2e2e2">80,000</text>
<text x="2445.70" y="759.74" font-size="19.40" letter-spacing="0.695" fill="#e2e2e2">76,000</text>
<text x="2445.70" y="811.38" font-size="19.40" letter-spacing="0.695" fill="#e2e2e2">72,000</text>
<text x="2445.70" y="863.02" font-size="19.40" letter-spacing="0.695" fill="#e2e2e2">68,000</text>
<text x="2445.70" y="914.66" font-size="19.40" letter-spacing="0.695" fill="#e2e2e2">64,000</text>
<text x="2445.70" y="966.29" font-size="19.40" letter-spacing="0.695" fill="#e2e2e2">60,000</text>
<text x="2445.70" y="1017.93" font-size="19.40" letter-spacing="0.695" fill="#e2e2e2">56,000</text>
<text x="2445.70" y="1069.57" font-size="19.40" letter-spacing="0.695" fill="#e2e2e2">52,000</text>
<text x="2445.70" y="1121.20" font-size="19.40" letter-spacing="0.695" fill="#e2e2e2">48,000</text>
<text x="2445.70" y="1172.84" font-size="19.40" letter-spacing="0.695" fill="#e2e2e2">44,000</text>
<text x="2445.70" y="1224.48" font-size="19.40" letter-spacing="0.695" fill="#e2e2e2">40,000</text>
<text x="2445.70" y="1276.11" font-size="19.40" letter-spacing="0.695" fill="#e2e2e2">36,000</text>
<text x="2445.70" y="1327.75" font-size="19.40" letter-spacing="0.695" fill="#e2e2e2">32,000</text>
<text x="2445.70" y="1379.39" font-size="19.40" letter-spacing="0.695" fill="#e2e2e2">28,000</text>
<text x="2445.70" y="1431.02" font-size="19.40" letter-spacing="0.695" fill="#e2e2e2">24,000</text>
<text x="2445.70" y="1482.66" font-size="19.40" letter-spacing="0.695" fill="#e2e2e2">20,000</text>
<text x="2445.70" y="1534.30" font-size="19.40" letter-spacing="0.695" fill="#e2e2e2">16,000</text>
<text x="2445.70" y="1585.94" font-size="19.40" letter-spacing="0.695" fill="#e2e2e2">12,000</text>
</g>
</svg>
<div class="lb" style="top:573.3px"></div>
<div id="last" class="abs"></div>
<div class="lb" style="top:864.4px"></div>
<div class="lb" style="top:948.9px"></div>
<div class="lb" style="top:1070.9px"></div>
<div id="vol" class="abs"></div>
<div id="usd" class="abs"></div>
<svg class="cv" width="2560" height="1760" viewBox="0 0 2560 1760">
<g class="tg">
<text x="16.05" y="34.80" font-size="18.70" letter-spacing="0.590" fill="#d2d2d2">Fatyhad created with TradingView.com, Mar 12, 2026 10:32 UTC</text>
<text x="28.80" y="77.70" font-size="18.70" letter-spacing="0.380" fill="#dbdbdb">Bitcoin / U.S. Dollar · 1D · Bitstamp</text>
<text x="346.70" y="77.70" font-size="18.70" letter-spacing="-0.373" fill="#f23645">70,174</text>
<text x="414.50" y="77.70" font-size="18.70" letter-spacing="0.799" fill="#f23645">−22 (−0.03%)</text>
<text x="29.50" y="104.40" font-size="18.70" letter-spacing="0.029" fill="#dbdbdb">Vol · BTC</text>
<text x="2451.00" y="76.80" font-size="18.99" letter-spacing="-0.525" fill="#d6d6d6">USD</text>
<text x="2445.70" y="592.90" font-size="19.40" letter-spacing="0.695" fill="#f2f2f2">88,941</text>
<text x="2445.70" y="834.70" font-size="19.40" letter-spacing="0.695" fill="#ffffff">70,174</text>
<text x="2446.10" y="856.70" font-size="19.40" letter-spacing="0.758" fill="#ffffff" opacity="0.8">13:27:25</text>
<text x="2445.70" y="883.80" font-size="19.40" letter-spacing="0.695" fill="#f2f2f2">69,225</text>
<text x="2445.70" y="968.50" font-size="19.40" letter-spacing="0.695" fill="#f2f2f2">59,869</text>
<text x="2445.70" y="1090.70" font-size="19.40" letter-spacing="0.695" fill="#f2f2f2">50,325</text>
<text x="2445.80" y="1598.20" font-size="19.40" letter-spacing="0.965" fill="#f4f4f4">1.17K</text>
<text transform="translate(207.70 1650.90) scale(1.12 1)" font-size="18.86" letter-spacing="0.889" fill="#f0f0f0" font-weight="bold">2022</text>
<text transform="translate(659.30 1650.90) scale(1.12 1)" font-size="18.86" letter-spacing="0.889" fill="#f0f0f0" font-weight="bold">2023</text>
<text transform="translate(1110.80 1650.90) scale(1.12 1)" font-size="18.86" letter-spacing="0.556" fill="#f0f0f0" font-weight="bold">2024</text>
<text transform="translate(1563.70 1650.90) scale(1.12 1)" font-size="18.86" letter-spacing="0.889" fill="#f0f0f0" font-weight="bold">2025</text>
<text transform="translate(2014.80 1650.90) scale(1.12 1)" font-size="18.86" letter-spacing="0.889" fill="#f0f0f0" font-weight="bold">2026</text>
<text x="444.00" y="1650.90" font-size="18.84" letter-spacing="0.507" fill="#e4e4e4">Jul</text>
<text x="895.70" y="1650.90" font-size="18.84" letter-spacing="0.507" fill="#e4e4e4">Jul</text>
<text x="1348.10" y="1650.90" font-size="18.84" letter-spacing="0.507" fill="#e4e4e4">Jul</text>
<text x="1799.50" y="1650.90" font-size="18.84" letter-spacing="0.507" fill="#e4e4e4">Jul</text>
<text x="2251.20" y="1650.90" font-size="18.84" letter-spacing="0.507" fill="#e4e4e4">Jul</text>
<text x="77.50" y="1723.80" font-size="33.14" letter-spacing="-0.415" fill="#dcdcdc" font-weight="bold">TradingView</text>
</g>
</svg>
<svg class="abs" style="left:2090px;top:1580px" width="60" height="42" viewBox="0 0 60 42">
<circle cx="36.8" cy="21.3" r="15" fill="#0f0f0f" stroke="#b146c9" stroke-width="2.6"/>
<path d="M40.7 13.1L30 22l5.4.35L31.1 29.1 42.4 20.5l-4.9-.4z" fill="#b146c9"/>
<path d="M19.4 19.1c1.05 4.4 2.8 6.5 7.6 7.6-4.8 1.1-6.55 3.2-7.6 7.6-1.05-4.4-2.8-6.5-7.6-7.6 4.8-1.1 6.55-3.2 7.6-7.6z" fill="#7346f0" stroke="#111" stroke-width="5" paint-order="stroke" stroke-linejoin="round"/>
</svg>
<svg class="abs" style="left:19px;top:1700.1px" width="47.4" height="23.7" viewBox="0 0 36 18"><path fill="#dcdcdc" d="M14 18H7V7H0V0h14v18zM28 18h-8L27.5 0h8L28 18z"/><circle cx="20" cy="4" r="4" fill="#dcdcdc"/></svg>
</body></html>
